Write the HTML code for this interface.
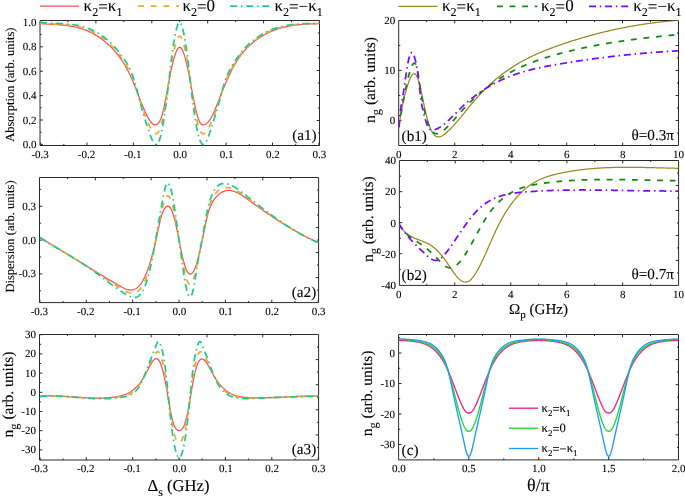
<!DOCTYPE html>
<html><head><meta charset="utf-8"><title>figure</title>
<style>html,body{margin:0;padding:0;background:#fff}svg{display:block;will-change:transform}text{stroke:#000;stroke-width:.1px}</style></head>
<body>
<svg width="685" height="496" viewBox="0 0 685 496" font-family='"Liberation Serif", serif' fill="#000" text-rendering="geometricPrecision">
<rect width="685" height="496" fill="#fff"/>
<defs>
<clipPath id="cp_a1"><rect x="40" y="20.5" width="279.5" height="125"/></clipPath>
<clipPath id="cp_a2"><rect x="39.5" y="177.5" width="279.1" height="125.1"/></clipPath>
<clipPath id="cp_a3"><rect x="39.5" y="334.5" width="279.1" height="125.5"/></clipPath>
<clipPath id="cp_b1"><rect x="398.7" y="20.5" width="279.8" height="125"/></clipPath>
<clipPath id="cp_b2"><rect x="399.4" y="160.5" width="279.2" height="124.9"/></clipPath>
<clipPath id="cp_c"><rect x="398.6" y="334.5" width="279.9" height="125.4"/></clipPath>
</defs>
<path d="M40 20.5H319.5V145.5H40ZM67.95 20.5v1.6M319.5 33h-1.6M95.9 20.5v2.9M319.5 45.5h-2.9M123.85 20.5v1.6M319.5 58h-1.6M151.8 20.5v2.9M319.5 70.5h-2.9M179.75 20.5v1.6M319.5 83h-1.6M207.7 20.5v2.9M319.5 95.5h-2.9M235.65 20.5v1.6M319.5 108h-1.6M263.6 20.5v2.9M319.5 120.5h-2.9M291.55 20.5v1.6M319.5 133h-1.6M40.61 145.5v-2.9M63.8 145.5v-1.6M86.99 145.5v-2.9M110.18 145.5v-1.6M133.37 145.5v-2.9M156.56 145.5v-1.6M179.75 145.5v-2.9M202.94 145.5v-1.6M226.13 145.5v-2.9M249.32 145.5v-1.6M272.51 145.5v-2.9M295.7 145.5v-1.6M318.89 145.5v-2.9M40 144.4h2.9M40 132.2h1.6M40 120h2.9M40 107.8h1.6M40 95.6h2.9M40 83.4h1.6M40 71.2h2.9M40 59h1.6M40 46.8h2.9M40 34.6h1.6M40 22.4h2.9" fill="none" stroke="#2b2b2b" stroke-width="1"/>
<text x="36.5" y="147.9" font-size="11" text-anchor="end" >0.0</text>
<text x="36.5" y="123.5" font-size="11" text-anchor="end" >0.2</text>
<text x="36.5" y="99.1" font-size="11" text-anchor="end" >0.4</text>
<text x="36.5" y="74.7" font-size="11" text-anchor="end" >0.6</text>
<text x="36.5" y="50.3" font-size="11" text-anchor="end" >0.8</text>
<text x="36.5" y="25.9" font-size="11" text-anchor="end" >1.0</text>
<text x="40.11" y="157.5" font-size="11" text-anchor="middle" >-0.3</text>
<text x="86.49" y="157.5" font-size="11" text-anchor="middle" >-0.2</text>
<text x="132.87" y="157.5" font-size="11" text-anchor="middle" >-0.1</text>
<text x="180.15" y="157.5" font-size="11" text-anchor="middle" >0.0</text>
<text x="226.53" y="157.5" font-size="11" text-anchor="middle" >0.1</text>
<text x="272.91" y="157.5" font-size="11" text-anchor="middle" >0.2</text>
<text x="319.29" y="157.5" font-size="11" text-anchor="middle" >0.3</text>
<text transform="translate(13.6 84.7) rotate(-90)" font-size="12.5" text-anchor="middle">Absorption (arb. units)</text>
<text x="316.6" y="139.6" font-size="15.2" text-anchor="end" >(a1)</text>
<polyline points="40,23.6 40.5,23.63 41,23.67 41.5,23.7 42,23.73 42.5,23.77 43,23.8 43.5,23.83 44,23.86 44.5,23.89 45,23.92 45.5,23.95 46,23.98 46.5,24 47,24.03 47.5,24.06 48,24.09 48.5,24.11 49,24.14 49.5,24.17 50,24.2 50.5,24.22 51,24.25 51.5,24.28 52,24.31 52.5,24.33 53,24.36 53.5,24.39 54,24.42 54.5,24.45 55,24.49 55.5,24.52 56,24.55 56.5,24.58 57,24.62 57.5,24.65 58,24.69 58.5,24.73 59,24.77 59.5,24.81 60,24.85 60.5,24.89 61,24.94 61.5,24.98 62,25.03 62.5,25.08 63,25.13 63.5,25.18 64,25.24 64.5,25.29 65,25.35 65.5,25.41 66,25.47 66.5,25.54 67,25.6 67.5,25.67 68,25.74 68.5,25.81 69,25.89 69.5,25.97 70,26.05 70.5,26.13 71,26.22 71.5,26.31 72,26.4 72.5,26.49 73,26.59 73.5,26.69 74,26.79 74.5,26.9 75,27.01 75.5,27.12 76,27.23 76.5,27.35 77,27.47 77.5,27.6 78,27.73 78.5,27.86 79,28 79.5,28.14 80,28.28 80.5,28.43 81,28.58 81.5,28.74 82,28.9 82.5,29.06 83,29.23 83.5,29.4 84,29.57 84.5,29.75 85,29.94 85.5,30.13 86,30.32 86.5,30.52 87,30.72 87.5,30.93 88,31.14 88.5,31.36 89,31.58 89.5,31.81 90,32.04 90.5,32.28 91,32.52 91.5,32.76 92,33.02 92.5,33.27 93,33.54 93.5,33.8 94,34.08 94.5,34.36 95,34.64 95.5,34.93 96,35.23 96.5,35.53 97,35.84 97.5,36.15 98,36.47 98.5,36.8 99,37.13 99.5,37.47 100,37.81 100.5,38.16 101,38.52 101.5,38.88 102,39.25 102.5,39.63 103,40.01 103.5,40.4 104,40.79 104.5,41.2 105,41.61 105.5,42.02 106,42.44 106.5,42.87 107,43.31 107.5,43.76 108,44.21 108.5,44.67 109,45.13 109.5,45.61 110,46.09 110.5,46.58 111,47.07 111.5,47.57 112,48.09 112.5,48.61 113,49.13 113.5,49.67 114,50.22 114.5,50.77 115,51.34 115.5,51.91 116,52.5 116.5,53.1 117,53.71 117.5,54.33 118,54.96 118.5,55.61 119,56.27 119.5,56.94 120,57.63 120.5,58.33 121,59.04 121.5,59.77 122,60.52 122.5,61.28 123,62.06 123.5,62.85 124,63.66 124.5,64.49 125,65.33 125.5,66.2 126,67.08 126.5,67.98 127,68.9 127.5,69.84 128,70.8 128.5,71.78 129,72.78 129.5,73.8 130,74.84 130.5,75.9 131,76.99 131.5,78.1 132,79.23 132.5,80.38 133,81.56 133.5,82.76 134,83.98 134.5,85.21 135,86.46 135.5,87.72 136,89 136.5,90.28 137,91.57 137.5,92.87 138,94.16 138.5,95.46 139,96.76 139.5,98.06 140,99.34 140.5,100.63 141,101.9 141.5,103.16 142,104.41 142.5,105.64 143,106.86 143.5,108.06 144,109.23 144.5,110.38 145,111.51 145.5,112.61 146,113.68 146.5,114.71 147,115.72 147.5,116.69 148,117.62 148.5,118.51 149,119.35 149.5,120.15 150,120.9 150.5,121.59 151,122.23 151.5,122.81 152,123.32 152.5,123.77 153,124.15 153.5,124.47 154,124.7 154.5,124.86 155,124.94 155.5,124.93 156,124.84 156.5,124.66 157,124.39 157.5,124.02 158,123.56 158.5,122.99 159,122.32 159.5,121.53 160,120.63 160.5,119.58 161,118.39 161.5,117.02 162,115.46 162.5,113.7 163,111.76 163.5,109.64 164,107.37 164.5,104.97 165,102.46 165.5,99.85 166,97.18 166.5,94.46 167,91.71 167.5,88.97 168,86.26 168.5,83.58 169,80.93 169.5,78.34 170,75.8 170.5,73.32 171,70.91 171.5,68.57 172,66.32 172.5,64.16 173,62.09 173.5,60.13 174,58.28 174.5,56.55 175,54.94 175.5,53.47 176,52.14 176.5,50.95 177,49.91 177.5,49.04 178,48.34 178.5,47.81 179,47.46 179.5,47.3 180,47.34 180.5,47.57 181,47.98 181.5,48.58 182,49.35 182.5,50.29 183,51.4 183.5,52.66 184,54.07 184.5,55.62 185,57.31 185.5,59.13 186,61.08 186.5,63.15 187,65.33 187.5,67.62 188,70 188.5,72.46 189,74.99 189.5,77.58 190,80.21 190.5,82.87 191,85.55 191.5,88.23 192,90.9 192.5,93.54 193,96.16 193.5,98.72 194,101.23 194.5,103.66 195,106.01 195.5,108.26 196,110.41 196.5,112.44 197,114.35 197.5,116.13 198,117.76 198.5,119.24 199,120.55 199.5,121.7 200,122.65 200.5,123.42 201,124 201.5,124.42 202,124.69 202.5,124.84 203,124.88 203.5,124.84 204,124.74 204.5,124.59 205,124.39 205.5,124.14 206,123.84 206.5,123.5 207,123.1 207.5,122.65 208,122.16 208.5,121.61 209,121.01 209.5,120.36 210,119.65 210.5,118.89 211,118.08 211.5,117.21 212,116.29 212.5,115.32 213,114.29 213.5,113.21 214,112.09 214.5,110.94 215,109.75 215.5,108.53 216,107.29 216.5,106.03 217,104.75 217.5,103.47 218,102.18 218.5,100.89 219,99.6 219.5,98.32 220,97.05 220.5,95.78 221,94.52 221.5,93.26 222,92.02 222.5,90.78 223,89.56 223.5,88.34 224,87.13 224.5,85.93 225,84.74 225.5,83.57 226,82.41 226.5,81.25 227,80.12 227.5,78.99 228,77.88 228.5,76.78 229,75.7 229.5,74.63 230,73.58 230.5,72.55 231,71.53 231.5,70.52 232,69.54 232.5,68.57 233,67.63 233.5,66.7 234,65.79 234.5,64.9 235,64.03 235.5,63.17 236,62.34 236.5,61.52 237,60.72 237.5,59.94 238,59.18 238.5,58.43 239,57.69 239.5,56.98 240,56.28 240.5,55.59 241,54.92 241.5,54.27 242,53.62 242.5,53 243,52.38 243.5,51.78 244,51.2 244.5,50.62 245,50.06 245.5,49.51 246,48.97 246.5,48.44 247,47.93 247.5,47.42 248,46.93 248.5,46.45 249,45.97 249.5,45.51 250,45.05 250.5,44.6 251,44.17 251.5,43.74 252,43.31 252.5,42.9 253,42.49 253.5,42.09 254,41.7 254.5,41.31 255,40.93 255.5,40.55 256,40.18 256.5,39.82 257,39.46 257.5,39.11 258,38.76 258.5,38.42 259,38.08 259.5,37.75 260,37.42 260.5,37.1 261,36.79 261.5,36.48 262,36.17 262.5,35.87 263,35.58 263.5,35.29 264,35 264.5,34.72 265,34.45 265.5,34.17 266,33.91 266.5,33.65 267,33.39 267.5,33.14 268,32.89 268.5,32.65 269,32.41 269.5,32.18 270,31.95 270.5,31.73 271,31.5 271.5,31.29 272,31.08 272.5,30.87 273,30.67 273.5,30.47 274,30.27 274.5,30.08 275,29.89 275.5,29.71 276,29.53 276.5,29.35 277,29.18 277.5,29.01 278,28.85 278.5,28.69 279,28.53 279.5,28.38 280,28.23 280.5,28.08 281,27.94 281.5,27.8 282,27.66 282.5,27.53 283,27.4 283.5,27.27 284,27.15 284.5,27.03 285,26.91 285.5,26.8 286,26.69 286.5,26.58 287,26.47 287.5,26.37 288,26.27 288.5,26.17 289,26.08 289.5,25.99 290,25.9 290.5,25.81 291,25.73 291.5,25.65 292,25.57 292.5,25.49 293,25.42 293.5,25.34 294,25.27 294.5,25.21 295,25.14 295.5,25.08 296,25.02 296.5,24.96 297,24.9 297.5,24.85 298,24.79 298.5,24.74 299,24.69 299.5,24.65 300,24.6 300.5,24.56 301,24.51 301.5,24.47 302,24.43 302.5,24.39 303,24.36 303.5,24.32 304,24.29 304.5,24.26 305,24.23 305.5,24.2 306,24.17 306.5,24.14 307,24.11 307.5,24.09 308,24.06 308.5,24.04 309,24.02 309.5,24 310,23.98 310.5,23.96 311,23.94 311.5,23.92 312,23.9 312.5,23.88 313,23.87 313.5,23.85 314,23.83 314.5,23.82 315,23.8 315.5,23.79 316,23.78 316.5,23.76 317,23.75 317.5,23.73 318,23.72 318.5,23.71 319,23.69 319.5,23.69" fill="none" stroke="#f9504e" stroke-width="1.25" clip-path="url(#cp_a1)" stroke-linejoin="round"/>
<polyline points="40,23.08 40.5,23.12 41,23.16 41.5,23.2 42,23.24 42.5,23.28 43,23.31 43.5,23.35 44,23.38 44.5,23.41 45,23.44 45.5,23.47 46,23.5 46.5,23.53 47,23.56 47.5,23.59 48,23.61 48.5,23.64 49,23.66 49.5,23.69 50,23.71 50.5,23.74 51,23.76 51.5,23.79 52,23.81 52.5,23.84 53,23.86 53.5,23.89 54,23.91 54.5,23.94 55,23.97 55.5,23.99 56,24.02 56.5,24.05 57,24.07 57.5,24.1 58,24.13 58.5,24.16 59,24.19 59.5,24.23 60,24.26 60.5,24.29 61,24.33 61.5,24.37 62,24.41 62.5,24.45 63,24.49 63.5,24.53 64,24.57 64.5,24.62 65,24.67 65.5,24.72 66,24.77 66.5,24.82 67,24.87 67.5,24.93 68,24.99 68.5,25.05 69,25.12 69.5,25.18 70,25.25 70.5,25.32 71,25.39 71.5,25.47 72,25.55 72.5,25.63 73,25.71 73.5,25.8 74,25.89 74.5,25.98 75,26.08 75.5,26.18 76,26.28 76.5,26.39 77,26.49 77.5,26.61 78,26.72 78.5,26.84 79,26.96 79.5,27.09 80,27.22 80.5,27.35 81,27.49 81.5,27.63 82,27.78 82.5,27.93 83,28.08 83.5,28.24 84,28.4 84.5,28.57 85,28.74 85.5,28.92 86,29.1 86.5,29.28 87,29.47 87.5,29.66 88,29.86 88.5,30.07 89,30.27 89.5,30.49 90,30.71 90.5,30.93 91,31.16 91.5,31.39 92,31.63 92.5,31.88 93,32.13 93.5,32.38 94,32.65 94.5,32.91 95,33.19 95.5,33.46 96,33.75 96.5,34.04 97,34.34 97.5,34.64 98,34.95 98.5,35.26 99,35.58 99.5,35.91 100,36.24 100.5,36.58 101,36.93 101.5,37.29 102,37.65 102.5,38.01 103,38.39 103.5,38.77 104,39.15 104.5,39.55 105,39.95 105.5,40.36 106,40.77 106.5,41.2 107,41.63 107.5,42.07 108,42.51 108.5,42.96 109,43.42 109.5,43.89 110,44.37 110.5,44.85 111,45.34 111.5,45.84 112,46.35 112.5,46.87 113,47.39 113.5,47.92 114,48.47 114.5,49.02 115,49.58 115.5,50.15 116,50.73 116.5,51.32 117,51.92 117.5,52.53 118,53.16 118.5,53.79 119,54.44 119.5,55.09 120,55.76 120.5,56.44 121,57.14 121.5,57.84 122,58.56 122.5,59.3 123,60.04 123.5,60.8 124,61.57 124.5,62.36 125,63.16 125.5,63.98 126,64.81 126.5,65.66 127,66.52 127.5,67.41 128,68.32 128.5,69.26 129,70.23 129.5,71.23 130,72.26 130.5,73.34 131,74.45 131.5,75.6 132,76.8 132.5,78.04 133,79.34 133.5,80.68 134,82.07 134.5,83.5 135,84.97 135.5,86.46 136,87.98 136.5,89.52 137,91.08 137.5,92.65 138,94.22 138.5,95.8 139,97.38 139.5,98.94 140,100.49 140.5,102.03 141,103.55 141.5,105.05 142,106.53 142.5,107.99 143,109.43 143.5,110.85 144,112.25 144.5,113.63 145,114.98 145.5,116.3 146,117.61 146.5,118.88 147,120.13 147.5,121.35 148,122.54 148.5,123.7 149,124.83 149.5,125.93 150,126.97 150.5,127.97 151,128.91 151.5,129.79 152,130.59 152.5,131.32 153,131.96 153.5,132.52 154,132.98 154.5,133.33 155,133.58 155.5,133.71 156,133.72 156.5,133.6 157,133.35 157.5,132.95 158,132.4 158.5,131.7 159,130.84 159.5,129.81 160,128.61 160.5,127.23 161,125.66 161.5,123.91 162,121.96 162.5,119.82 163,117.49 163.5,114.99 164,112.33 164.5,109.53 165,106.61 165.5,103.57 166,100.44 166.5,97.23 167,93.96 167.5,90.64 168,87.3 168.5,83.94 169,80.57 169.5,77.21 170,73.87 170.5,70.57 171,67.34 171.5,64.2 172,61.17 172.5,58.27 173,55.52 173.5,52.94 174,50.51 174.5,48.26 175,46.17 175.5,44.25 176,42.5 176.5,40.94 177,39.57 177.5,38.41 178,37.47 178.5,36.76 179,36.31 179.5,36.11 180,36.18 180.5,36.51 181,37.1 181.5,37.93 182,38.99 182.5,40.27 183,41.75 183.5,43.42 184,45.28 184.5,47.31 185,49.51 185.5,51.87 186,54.4 186.5,57.08 187,59.9 187.5,62.87 188,65.97 188.5,69.19 189,72.49 189.5,75.87 190,79.28 190.5,82.73 191,86.17 191.5,89.59 192,92.97 192.5,96.28 193,99.5 193.5,102.62 194,105.63 194.5,108.51 195,111.27 195.5,113.9 196,116.39 196.5,118.73 197,120.93 197.5,122.96 198,124.84 198.5,126.54 199,128.07 199.5,129.42 200,130.58 200.5,131.55 201,132.33 201.5,132.93 202,133.36 202.5,133.63 203,133.76 203.5,133.75 204,133.62 204.5,133.39 205,133.04 205.5,132.61 206,132.08 206.5,131.47 207,130.77 207.5,130.01 208,129.17 208.5,128.27 209,127.31 209.5,126.3 210,125.24 210.5,124.14 211,123.01 211.5,121.83 212,120.63 212.5,119.39 213,118.11 213.5,116.8 214,115.47 214.5,114.1 215,112.71 215.5,111.3 216,109.86 216.5,108.41 217,106.94 217.5,105.45 218,103.95 218.5,102.44 219,100.92 219.5,99.4 220,97.87 220.5,96.33 221,94.8 221.5,93.27 222,91.75 222.5,90.25 223,88.78 223.5,87.34 224,85.94 224.5,84.56 225,83.23 225.5,81.93 226,80.67 226.5,79.45 227,78.27 227.5,77.13 228,76.02 228.5,74.95 229,73.91 229.5,72.89 230,71.9 230.5,70.93 231,69.99 231.5,69.06 232,68.11 232.5,67.17 233,66.25 233.5,65.35 234,64.46 234.5,63.6 235,62.75 235.5,61.92 236,61.11 236.5,60.32 237,59.54 237.5,58.78 238,58.03 238.5,57.3 239,56.59 239.5,55.89 240,55.2 240.5,54.53 241,53.88 241.5,53.24 242,52.61 242.5,52 243,51.39 243.5,50.81 244,50.23 244.5,49.66 245,49.11 245.5,48.57 246,48.04 246.5,47.52 247,47.01 247.5,46.51 248,46.02 248.5,45.54 249,45.07 249.5,44.61 250,44.16 250.5,43.71 251,43.28 251.5,42.85 252,42.43 252.5,42.02 253,41.61 253.5,41.21 254,40.82 254.5,40.43 255,40.05 255.5,39.68 256,39.31 256.5,38.95 257,38.6 257.5,38.25 258,37.9 258.5,37.56 259,37.23 259.5,36.9 260,36.58 260.5,36.26 261,35.95 261.5,35.64 262,35.34 262.5,35.05 263,34.76 263.5,34.47 264,34.19 264.5,33.92 265,33.65 265.5,33.38 266,33.12 266.5,32.87 267,32.62 267.5,32.37 268,32.13 268.5,31.89 269,31.66 269.5,31.44 270,31.21 270.5,31 271,30.78 271.5,30.57 272,30.37 272.5,30.17 273,29.97 273.5,29.78 274,29.59 274.5,29.41 275,29.23 275.5,29.05 276,28.88 276.5,28.71 277,28.55 277.5,28.39 278,28.23 278.5,28.08 279,27.93 279.5,27.78 280,27.64 280.5,27.5 281,27.36 281.5,27.23 282,27.1 282.5,26.98 283,26.86 283.5,26.74 284,26.62 284.5,26.51 285,26.4 285.5,26.29 286,26.19 286.5,26.09 287,25.99 287.5,25.89 288,25.8 288.5,25.71 289,25.63 289.5,25.54 290,25.46 290.5,25.38 291,25.3 291.5,25.23 292,25.16 292.5,25.09 293,25.02 293.5,24.95 294,24.89 294.5,24.83 295,24.77 295.5,24.71 296,24.66 296.5,24.61 297,24.56 297.5,24.51 298,24.46 298.5,24.41 299,24.37 299.5,24.33 300,24.29 300.5,24.25 301,24.21 301.5,24.17 302,24.14 302.5,24.1 303,24.07 303.5,24.04 304,24.01 304.5,23.98 305,23.95 305.5,23.92 306,23.9 306.5,23.87 307,23.85 307.5,23.83 308,23.8 308.5,23.78 309,23.76 309.5,23.74 310,23.72 310.5,23.7 311,23.68 311.5,23.67 312,23.65 312.5,23.63 313,23.61 313.5,23.6 314,23.58 314.5,23.56 315,23.55 315.5,23.53 316,23.51 316.5,23.5 317,23.48 317.5,23.46 318,23.45 318.5,23.43 319,23.41 319.5,23.4" fill="none" stroke="#efab30" stroke-width="1.75" stroke-dasharray="5.8 6.8" clip-path="url(#cp_a1)" stroke-linejoin="round"/>
<polyline points="40,22.45 40.5,22.5 41,22.55 41.5,22.59 42,22.63 42.5,22.68 43,22.72 43.5,22.75 44,22.79 44.5,22.82 45,22.86 45.5,22.89 46,22.92 46.5,22.95 47,22.98 47.5,23.01 48,23.03 48.5,23.06 49,23.08 49.5,23.11 50,23.13 50.5,23.15 51,23.17 51.5,23.19 52,23.21 52.5,23.23 53,23.25 53.5,23.27 54,23.29 54.5,23.31 55,23.33 55.5,23.35 56,23.37 56.5,23.39 57,23.41 57.5,23.43 58,23.45 58.5,23.47 59,23.49 59.5,23.52 60,23.54 60.5,23.56 61,23.59 61.5,23.61 62,23.64 62.5,23.67 63,23.7 63.5,23.73 64,23.76 64.5,23.8 65,23.83 65.5,23.87 66,23.9 66.5,23.94 67,23.99 67.5,24.03 68,24.07 68.5,24.12 69,24.17 69.5,24.22 70,24.27 70.5,24.33 71,24.39 71.5,24.45 72,24.51 72.5,24.58 73,24.65 73.5,24.72 74,24.79 74.5,24.87 75,24.95 75.5,25.03 76,25.12 76.5,25.21 77,25.3 77.5,25.39 78,25.49 78.5,25.6 79,25.7 79.5,25.81 80,25.92 80.5,26.04 81,26.16 81.5,26.29 82,26.42 82.5,26.55 83,26.69 83.5,26.83 84,26.97 84.5,27.12 85,27.28 85.5,27.44 86,27.6 86.5,27.77 87,27.94 87.5,28.12 88,28.3 88.5,28.49 89,28.68 89.5,28.88 90,29.08 90.5,29.29 91,29.5 91.5,29.72 92,29.94 92.5,30.17 93,30.41 93.5,30.65 94,30.89 94.5,31.15 95,31.41 95.5,31.67 96,31.94 96.5,32.22 97,32.5 97.5,32.79 98,33.08 98.5,33.39 99,33.69 99.5,34.01 100,34.33 100.5,34.66 101,34.99 101.5,35.33 102,35.68 102.5,36.04 103,36.4 103.5,36.77 104,37.15 104.5,37.53 105,37.93 105.5,38.33 106,38.73 106.5,39.15 107,39.57 107.5,40 108,40.44 108.5,40.88 109,41.34 109.5,41.8 110,42.27 110.5,42.75 111,43.23 111.5,43.73 112,44.23 112.5,44.74 113,45.26 113.5,45.79 114,46.33 114.5,46.87 115,47.43 115.5,47.99 116,48.57 116.5,49.15 117,49.74 117.5,50.34 118,50.95 118.5,51.57 119,52.2 119.5,52.84 120,53.48 120.5,54.14 121,54.81 121.5,55.49 122,56.17 122.5,56.87 123,57.58 123.5,58.29 124,59.02 124.5,59.76 125,60.51 125.5,61.26 126,62.03 126.5,62.82 127,63.62 127.5,64.44 128,65.3 128.5,66.19 129,67.12 129.5,68.09 130,69.12 130.5,70.2 131,71.34 131.5,72.55 132,73.83 132.5,75.19 133,76.62 133.5,78.15 134,79.75 134.5,81.41 135,83.14 135.5,84.92 136,86.74 136.5,88.6 137,90.48 137.5,92.38 138,94.3 138.5,96.22 139,98.13 139.5,100.02 140,101.9 140.5,103.75 141,105.57 141.5,107.36 142,109.13 142.5,110.87 143,112.58 143.5,114.28 144,115.94 144.5,117.59 145,119.22 145.5,120.82 146,122.41 146.5,123.97 147,125.52 147.5,127.05 148,128.56 148.5,130.05 149,131.53 149.5,132.98 150,134.4 150.5,135.77 151,137.08 151.5,138.31 152,139.47 152.5,140.54 153,141.51 153.5,142.36 154,143.09 154.5,143.69 155,144.14 155.5,144.44 156,144.57 156.5,144.53 157,144.29 157.5,143.86 158,143.22 158.5,142.36 159,141.26 159.5,139.93 160,138.36 160.5,136.56 161,134.55 161.5,132.33 162,129.9 162.5,127.29 163,124.49 163.5,121.53 164,118.4 164.5,115.11 165,111.68 165.5,108.12 166,104.42 166.5,100.62 167,96.7 167.5,92.68 168,88.58 168.5,84.39 169,80.13 169.5,75.82 170,71.51 170.5,67.21 171,62.98 171.5,58.86 172,54.88 172.5,51.08 173,47.49 173.5,44.14 174,41.02 174.5,38.12 175,35.44 175.5,32.97 176,30.72 176.5,28.7 177,26.92 177.5,25.41 178,24.19 178.5,23.27 179,22.68 179.5,22.43 180,22.54 180.5,23.01 181,23.8 181.5,24.92 182,26.33 182.5,28.01 183,29.96 183.5,32.14 184,34.54 184.5,37.15 185,39.98 185.5,43 186,46.23 186.5,49.65 187,53.27 187.5,57.07 188,61.05 188.5,65.19 189,69.44 189.5,73.77 190,78.15 190.5,82.55 191,86.93 191.5,91.26 192,95.5 192.5,99.62 193,103.59 193.5,107.39 194,111.01 194.5,114.45 195,117.71 195.5,120.8 196,123.7 196.5,126.42 197,128.96 197.5,131.32 198,133.48 198.5,135.46 199,137.25 199.5,138.85 200,140.26 200.5,141.48 201,142.5 201.5,143.33 202,143.95 202.5,144.38 203,144.62 203.5,144.65 204,144.48 204.5,144.14 205,143.63 205.5,142.96 206,142.15 206.5,141.21 207,140.15 207.5,138.99 208,137.74 208.5,136.41 209,135.01 209.5,133.56 210,132.07 210.5,130.55 211,129.02 211.5,127.48 212,125.93 212.5,124.36 213,122.79 213.5,121.2 214,119.59 214.5,117.97 215,116.33 215.5,114.68 216,113.01 216.5,111.32 217,109.61 217.5,107.87 218,106.12 218.5,104.34 219,102.54 219.5,100.72 220,98.87 220.5,97.01 221,95.14 221.5,93.27 222,91.41 222.5,89.6 223,87.84 223.5,86.13 224,84.48 224.5,82.89 225,81.37 225.5,79.92 226,78.54 226.5,77.24 227,76.01 227.5,74.85 228,73.75 228.5,72.71 229,71.71 229.5,70.76 230,69.84 230.5,68.96 231,68.11 231.5,67.28 232,66.37 232.5,65.46 233,64.57 233.5,63.7 234,62.85 234.5,62.01 235,61.19 235.5,60.39 236,59.61 236.5,58.84 237,58.09 237.5,57.35 238,56.63 238.5,55.92 239,55.23 239.5,54.55 240,53.89 240.5,53.24 241,52.6 241.5,51.98 242,51.37 242.5,50.77 243,50.18 243.5,49.61 244,49.05 244.5,48.49 245,47.95 245.5,47.42 246,46.9 246.5,46.39 247,45.89 247.5,45.4 248,44.91 248.5,44.44 249,43.97 249.5,43.52 250,43.07 250.5,42.63 251,42.19 251.5,41.77 252,41.35 252.5,40.94 253,40.53 253.5,40.14 254,39.75 254.5,39.36 255,38.99 255.5,38.61 256,38.25 256.5,37.89 257,37.54 257.5,37.19 258,36.85 258.5,36.52 259,36.19 259.5,35.86 260,35.55 260.5,35.23 261,34.93 261.5,34.63 262,34.33 262.5,34.04 263,33.76 263.5,33.48 264,33.2 264.5,32.94 265,32.67 265.5,32.41 266,32.16 266.5,31.91 267,31.67 267.5,31.43 268,31.2 268.5,30.97 269,30.75 269.5,30.53 270,30.31 270.5,30.1 271,29.9 271.5,29.7 272,29.5 272.5,29.31 273,29.12 273.5,28.94 274,28.76 274.5,28.58 275,28.41 275.5,28.25 276,28.08 276.5,27.92 277,27.77 277.5,27.62 278,27.47 278.5,27.33 279,27.19 279.5,27.05 280,26.92 280.5,26.79 281,26.66 281.5,26.54 282,26.42 282.5,26.3 283,26.19 283.5,26.08 284,25.98 284.5,25.87 285,25.77 285.5,25.68 286,25.58 286.5,25.49 287,25.4 287.5,25.32 288,25.23 288.5,25.15 289,25.07 289.5,25 290,24.92 290.5,24.85 291,24.79 291.5,24.72 292,24.66 292.5,24.59 293,24.54 293.5,24.48 294,24.42 294.5,24.37 295,24.32 295.5,24.27 296,24.22 296.5,24.18 297,24.13 297.5,24.09 298,24.05 298.5,24.01 299,23.97 299.5,23.94 300,23.9 300.5,23.87 301,23.83 301.5,23.8 302,23.77 302.5,23.75 303,23.72 303.5,23.69 304,23.67 304.5,23.64 305,23.62 305.5,23.59 306,23.57 306.5,23.55 307,23.53 307.5,23.51 308,23.49 308.5,23.47 309,23.45 309.5,23.43 310,23.41 310.5,23.39 311,23.37 311.5,23.36 312,23.34 312.5,23.32 313,23.3 313.5,23.29 314,23.27 314.5,23.25 315,23.23 315.5,23.21 316,23.19 316.5,23.17 317,23.15 317.5,23.13 318,23.11 318.5,23.09 319,23.07 319.5,23.05" fill="none" stroke="#1fcc8c" stroke-width="1.75" stroke-dasharray="7 3.8 1.5 3.8" clip-path="url(#cp_a1)" stroke-linejoin="round"/>
<path d="M40 6.1H79" stroke="#f9504e" stroke-width="1.25" fill="none"/>
<path d="M138.2 6.1H179" stroke="#efab30" stroke-width="1.75" stroke-dasharray="5.8 6.8" fill="none"/>
<path d="M230.2 6.1H269.6" stroke="#1fcc8c" stroke-width="1.75" stroke-dasharray="7 3.8 1.5 3.8" fill="none"/>
<text x="83.6" y="10.8" font-size="17" text-anchor="start" >κ<tspan font-size="12.07" dy="5.1">2</tspan><tspan dy="-3.99">=</tspan><tspan dy="-1.1">κ</tspan><tspan font-size="12.07" dy="5.1">1</tspan></text>
<text x="182.4" y="10.8" font-size="17" text-anchor="start" >κ<tspan font-size="12.07" dy="5.1">2</tspan><tspan dy="-3.99">=</tspan><tspan dy="-1.1">0</tspan></text>
<text x="274.4" y="10.8" font-size="17" text-anchor="start" >κ<tspan font-size="12.07" dy="5.1">2</tspan><tspan dy="-3.99">=−</tspan><tspan dy="-1.1">κ</tspan><tspan font-size="12.07" dy="5.1">1</tspan></text>
<path d="M39.5 177.5H318.6V302.6H39.5ZM67.41 177.5v1.6M318.6 190.01h-1.6M95.32 177.5v2.9M318.6 202.52h-2.9M123.23 177.5v1.6M318.6 215.03h-1.6M151.14 177.5v2.9M318.6 227.54h-2.9M179.05 177.5v1.6M318.6 240.05h-1.6M206.96 177.5v2.9M318.6 252.56h-2.9M234.87 177.5v1.6M318.6 265.07h-1.6M262.78 177.5v2.9M318.6 277.58h-2.9M290.69 177.5v1.6M318.6 290.09h-1.6M39.91 302.6v-2.9M63.1 302.6v-1.6M86.29 302.6v-2.9M109.48 302.6v-1.6M132.67 302.6v-2.9M155.86 302.6v-1.6M179.05 302.6v-2.9M202.24 302.6v-1.6M225.43 302.6v-2.9M248.62 302.6v-1.6M271.81 302.6v-2.9M295 302.6v-1.6M318.19 302.6v-2.9M39.5 290.81h1.6M39.5 273.91h2.9M39.5 257h1.6M39.5 240.1h2.9M39.5 223.19h1.6M39.5 206.29h2.9M39.5 189.38h1.6" fill="none" stroke="#2b2b2b" stroke-width="1"/>
<text x="36" y="277.41" font-size="11" text-anchor="end" >-0.3</text>
<text x="36" y="243.6" font-size="11" text-anchor="end" >0.0</text>
<text x="36" y="209.79" font-size="11" text-anchor="end" >0.3</text>
<text x="39.41" y="314.6" font-size="11" text-anchor="middle" >-0.3</text>
<text x="85.79" y="314.6" font-size="11" text-anchor="middle" >-0.2</text>
<text x="132.17" y="314.6" font-size="11" text-anchor="middle" >-0.1</text>
<text x="179.45" y="314.6" font-size="11" text-anchor="middle" >0.0</text>
<text x="225.83" y="314.6" font-size="11" text-anchor="middle" >0.1</text>
<text x="272.21" y="314.6" font-size="11" text-anchor="middle" >0.2</text>
<text x="318.59" y="314.6" font-size="11" text-anchor="middle" >0.3</text>
<text transform="translate(13.6 236.5) rotate(-90)" font-size="12.5" text-anchor="middle">Dispersion (arb. units)</text>
<text x="316.2" y="297.3" font-size="15.2" text-anchor="end" >(a2)</text>
<polyline points="40,237.93 40.5,238.22 41,238.5 41.5,238.79 42,239.08 42.5,239.37 43,239.66 43.5,239.95 44,240.24 44.5,240.53 45,240.83 45.5,241.12 46,241.41 46.5,241.7 47,242 47.5,242.29 48,242.58 48.5,242.88 49,243.17 49.5,243.47 50,243.77 50.5,244.06 51,244.36 51.5,244.66 52,244.95 52.5,245.25 53,245.55 53.5,245.85 54,246.15 54.5,246.44 55,246.74 55.5,247.04 56,247.34 56.5,247.64 57,247.94 57.5,248.24 58,248.55 58.5,248.85 59,249.15 59.5,249.45 60,249.75 60.5,250.06 61,250.36 61.5,250.66 62,250.96 62.5,251.27 63,251.57 63.5,251.88 64,252.18 64.5,252.48 65,252.79 65.5,253.09 66,253.4 66.5,253.7 67,254.01 67.5,254.31 68,254.62 68.5,254.92 69,255.23 69.5,255.54 70,255.84 70.5,256.15 71,256.46 71.5,256.76 72,257.07 72.5,257.38 73,257.68 73.5,257.99 74,258.3 74.5,258.6 75,258.91 75.5,259.22 76,259.53 76.5,259.83 77,260.14 77.5,260.45 78,260.76 78.5,261.06 79,261.37 79.5,261.68 80,261.99 80.5,262.29 81,262.6 81.5,262.91 82,263.22 82.5,263.53 83,263.83 83.5,264.14 84,264.45 84.5,264.76 85,265.06 85.5,265.37 86,265.68 86.5,265.99 87,266.29 87.5,266.6 88,266.91 88.5,267.22 89,267.52 89.5,267.83 90,268.14 90.5,268.45 91,268.75 91.5,269.06 92,269.37 92.5,269.67 93,269.98 93.5,270.28 94,270.59 94.5,270.9 95,271.2 95.5,271.51 96,271.81 96.5,272.12 97,272.42 97.5,272.73 98,273.03 98.5,273.34 99,273.64 99.5,273.94 100,274.25 100.5,274.55 101,274.86 101.5,275.16 102,275.46 102.5,275.76 103,276.07 103.5,276.37 104,276.67 104.5,276.97 105,277.27 105.5,277.57 106,277.88 106.5,278.18 107,278.48 107.5,278.78 108,279.08 108.5,279.37 109,279.67 109.5,279.97 110,280.27 110.5,280.57 111,280.87 111.5,281.16 112,281.46 112.5,281.76 113,282.05 113.5,282.35 114,282.64 114.5,282.94 115,283.23 115.5,283.53 116,283.82 116.5,284.11 117,284.41 117.5,284.7 118,284.99 118.5,285.28 119,285.58 119.5,285.87 120,286.15 120.5,286.44 121,286.72 121.5,287 122,287.27 122.5,287.53 123,287.79 123.5,288.03 124,288.27 124.5,288.5 125,288.71 125.5,288.91 126,289.1 126.5,289.27 127,289.43 127.5,289.57 128,289.69 128.5,289.8 129,289.88 129.5,289.95 130,289.99 130.5,290.01 131,290.01 131.5,289.98 132,289.93 132.5,289.85 133,289.74 133.5,289.61 134,289.45 134.5,289.25 135,289.03 135.5,288.77 136,288.48 136.5,288.15 137,287.79 137.5,287.39 138,286.96 138.5,286.49 139,285.98 139.5,285.43 140,284.83 140.5,284.2 141,283.52 141.5,282.8 142,282.04 142.5,281.22 143,280.37 143.5,279.46 144,278.5 144.5,277.5 145,276.44 145.5,275.33 146,274.17 146.5,272.96 147,271.69 147.5,270.37 148,268.99 148.5,267.56 149,266.08 149.5,264.54 150,262.95 150.5,261.31 151,259.61 151.5,257.86 152,256.07 152.5,254.22 153,252.32 153.5,250.36 154,248.36 154.5,246.31 155,244.21 155.5,242.06 156,239.86 156.5,237.62 157,235.32 157.5,232.98 158,230.6 158.5,228.23 159,225.9 159.5,223.62 160,221.44 160.5,219.39 161,217.49 161.5,215.76 162,214.2 162.5,212.79 163,211.53 163.5,210.41 164,209.43 164.5,208.57 165,207.84 165.5,207.22 166,206.74 166.5,206.38 167,206.14 167.5,206.04 168,206.06 168.5,206.22 169,206.51 169.5,206.93 170,207.49 170.5,208.18 171,209.02 171.5,209.99 172,211.1 172.5,212.35 173,213.75 173.5,215.28 174,216.97 174.5,218.8 175,220.78 175.5,222.9 176,225.16 176.5,227.53 177,229.98 177.5,232.5 178,235.05 178.5,237.63 179,240.2 179.5,242.75 180,245.25 180.5,247.7 181,250.09 181.5,252.42 182,254.66 182.5,256.83 183,258.9 183.5,260.87 184,262.73 184.5,264.47 185,266.09 185.5,267.57 186,268.91 186.5,270.1 187,271.14 187.5,272.02 188,272.75 188.5,273.32 189,273.75 189.5,274.03 190,274.17 190.5,274.17 191,274.03 191.5,273.76 192,273.35 192.5,272.81 193,272.14 193.5,271.35 194,270.43 194.5,269.39 195,268.24 195.5,266.96 196,265.58 196.5,264.08 197,262.48 197.5,260.77 198,258.96 198.5,257.05 199,255.06 199.5,252.99 200,250.84 200.5,248.63 201,246.36 201.5,244.03 202,241.66 202.5,239.25 203,236.81 203.5,234.34 204,231.85 204.5,229.36 205,226.89 205.5,224.47 206,222.11 206.5,219.83 207,217.68 207.5,215.65 208,213.77 208.5,212.03 209,210.41 209.5,208.92 210,207.55 210.5,206.28 211,205.11 211.5,204.03 212,203.04 212.5,202.12 213,201.27 213.5,200.48 214,199.75 214.5,199.06 215,198.41 215.5,197.79 216,197.2 216.5,196.63 217,196.1 217.5,195.59 218,195.11 218.5,194.65 219,194.22 219.5,193.82 220,193.44 220.5,193.09 221,192.76 221.5,192.45 222,192.17 222.5,191.91 223,191.67 223.5,191.46 224,191.26 224.5,191.09 225,190.94 225.5,190.81 226,190.7 226.5,190.61 227,190.54 227.5,190.49 228,190.46 228.5,190.44 229,190.45 229.5,190.47 230,190.5 230.5,190.56 231,190.63 231.5,190.71 232,190.81 232.5,190.93 233,191.05 233.5,191.2 234,191.35 234.5,191.52 235,191.71 235.5,191.9 236,192.11 236.5,192.32 237,192.55 237.5,192.79 238,193.04 238.5,193.3 239,193.57 239.5,193.85 240,194.13 240.5,194.43 241,194.73 241.5,195.04 242,195.36 242.5,195.68 243,196.01 243.5,196.34 244,196.68 244.5,197.02 245,197.37 245.5,197.72 246,198.08 246.5,198.44 247,198.8 247.5,199.17 248,199.53 248.5,199.9 249,200.27 249.5,200.64 250,201 250.5,201.37 251,201.74 251.5,202.11 252,202.48 252.5,202.84 253,203.21 253.5,203.57 254,203.94 254.5,204.3 255,204.66 255.5,205.02 256,205.39 256.5,205.75 257,206.11 257.5,206.46 258,206.82 258.5,207.18 259,207.54 259.5,207.89 260,208.25 260.5,208.6 261,208.95 261.5,209.3 262,209.66 262.5,210.01 263,210.36 263.5,210.71 264,211.05 264.5,211.4 265,211.75 265.5,212.09 266,212.44 266.5,212.78 267,213.12 267.5,213.47 268,213.81 268.5,214.15 269,214.49 269.5,214.83 270,215.16 270.5,215.5 271,215.84 271.5,216.17 272,216.5 272.5,216.84 273,217.17 273.5,217.5 274,217.83 274.5,218.16 275,218.49 275.5,218.82 276,219.14 276.5,219.47 277,219.79 277.5,220.11 278,220.44 278.5,220.76 279,221.08 279.5,221.4 280,221.72 280.5,222.03 281,222.35 281.5,222.66 282,222.98 282.5,223.29 283,223.6 283.5,223.92 284,224.23 284.5,224.53 285,224.84 285.5,225.15 286,225.46 286.5,225.76 287,226.06 287.5,226.37 288,226.67 288.5,226.97 289,227.27 289.5,227.57 290,227.86 290.5,228.16 291,228.45 291.5,228.75 292,229.04 292.5,229.33 293,229.62 293.5,229.91 294,230.2 294.5,230.48 295,230.77 295.5,231.05 296,231.34 296.5,231.62 297,231.9 297.5,232.18 298,232.46 298.5,232.74 299,233.01 299.5,233.29 300,233.56 300.5,233.83 301,234.1 301.5,234.37 302,234.64 302.5,234.91 303,235.18 303.5,235.44 304,235.7 304.5,235.97 305,236.23 305.5,236.49 306,236.75 306.5,237 307,237.26 307.5,237.51 308,237.77 308.5,238.02 309,238.27 309.5,238.52 310,238.77 310.5,239.01 311,239.26 311.5,239.5 312,239.75 312.5,239.99 313,240.23 313.5,240.47 314,240.7 314.5,240.94 315,241.18 315.5,241.41 316,241.64 316.5,241.87 317,242.1 317.5,242.33 318,242.55 318.5,242.78 319,242.91 319.5,242.91" fill="none" stroke="#f9504e" stroke-width="1.25" clip-path="url(#cp_a2)" stroke-linejoin="round"/>
<polyline points="40,237.72 40.5,238.02 41,238.32 41.5,238.63 42,238.93 42.5,239.23 43,239.53 43.5,239.84 44,240.14 44.5,240.44 45,240.74 45.5,241.04 46,241.34 46.5,241.64 47,241.94 47.5,242.25 48,242.55 48.5,242.85 49,243.15 49.5,243.45 50,243.75 50.5,244.05 51,244.35 51.5,244.65 52,244.95 52.5,245.25 53,245.55 53.5,245.85 54,246.15 54.5,246.45 55,246.75 55.5,247.05 56,247.35 56.5,247.65 57,247.95 57.5,248.25 58,248.55 58.5,248.85 59,249.15 59.5,249.45 60,249.75 60.5,250.05 61,250.35 61.5,250.65 62,250.95 62.5,251.25 63,251.55 63.5,251.85 64,252.16 64.5,252.46 65,252.76 65.5,253.06 66,253.36 66.5,253.67 67,253.97 67.5,254.27 68,254.58 68.5,254.88 69,255.18 69.5,255.49 70,255.79 70.5,256.1 71,256.4 71.5,256.71 72,257.01 72.5,257.32 73,257.62 73.5,257.93 74,258.24 74.5,258.54 75,258.85 75.5,259.16 76,259.47 76.5,259.78 77,260.09 77.5,260.4 78,260.71 78.5,261.02 79,261.33 79.5,261.64 80,261.95 80.5,262.26 81,262.57 81.5,262.89 82,263.2 82.5,263.52 83,263.83 83.5,264.15 84,264.46 84.5,264.78 85,265.09 85.5,265.41 86,265.73 86.5,266.05 87,266.37 87.5,266.69 88,267.01 88.5,267.33 89,267.65 89.5,267.97 90,268.29 90.5,268.62 91,268.94 91.5,269.27 92,269.59 92.5,269.92 93,270.24 93.5,270.57 94,270.9 94.5,271.23 95,271.56 95.5,271.89 96,272.22 96.5,272.55 97,272.88 97.5,273.22 98,273.55 98.5,273.89 99,274.22 99.5,274.56 100,274.89 100.5,275.23 101,275.57 101.5,275.91 102,276.24 102.5,276.58 103,276.92 103.5,277.26 104,277.6 104.5,277.94 105,278.28 105.5,278.61 106,278.95 106.5,279.29 107,279.63 107.5,279.97 108,280.3 108.5,280.64 109,280.98 109.5,281.31 110,281.65 110.5,281.98 111,282.32 111.5,282.65 112,282.98 112.5,283.32 113,283.65 113.5,283.98 114,284.31 114.5,284.63 115,284.96 115.5,285.29 116,285.61 116.5,285.93 117,286.26 117.5,286.58 118,286.9 118.5,287.21 119,287.53 119.5,287.84 120,288.15 120.5,288.46 121,288.77 121.5,289.07 122,289.36 122.5,289.65 123,289.94 123.5,290.22 124,290.49 124.5,290.75 125,291 125.5,291.25 126,291.48 126.5,291.71 127,291.92 127.5,292.13 128,292.32 128.5,292.49 129,292.66 129.5,292.8 130,292.93 130.5,293.03 131,293.12 131.5,293.18 132,293.22 132.5,293.23 133,293.22 133.5,293.18 134,293.1 134.5,293 135,292.86 135.5,292.68 136,292.47 136.5,292.22 137,291.94 137.5,291.61 138,291.24 138.5,290.82 139,290.36 139.5,289.86 140,289.3 140.5,288.69 141,288.04 141.5,287.33 142,286.56 142.5,285.74 143,284.86 143.5,283.93 144,282.93 144.5,281.87 145,280.75 145.5,279.56 146,278.31 146.5,276.98 147,275.59 147.5,274.13 148,272.6 148.5,270.99 149,269.32 149.5,267.57 150,265.74 150.5,263.84 151,261.87 151.5,259.83 152,257.72 152.5,255.56 153,253.33 153.5,251.05 154,248.72 154.5,246.34 155,243.91 155.5,241.45 156,238.94 156.5,236.4 157,233.83 157.5,231.22 158,228.61 158.5,226 159,223.41 159.5,220.87 160,218.38 160.5,215.98 161,213.68 161.5,211.49 162,209.4 162.5,207.41 163,205.53 163.5,203.75 164,202.07 164.5,200.51 165,199.13 165.5,197.95 166,197.02 166.5,196.34 167,195.9 167.5,195.69 168,195.71 168.5,195.95 169,196.4 169.5,197.05 170,197.91 170.5,198.96 171,200.21 171.5,201.64 172,203.26 172.5,205.06 173,207.03 173.5,209.16 174,211.45 174.5,213.88 175,216.44 175.5,219.14 176,221.94 176.5,224.83 177,227.79 177.5,230.8 178,233.82 178.5,236.86 179,239.88 179.5,242.89 180,245.87 180.5,248.83 181,251.75 181.5,254.65 182,257.5 182.5,260.32 183,263.08 183.5,265.75 184,268.32 184.5,270.75 185,273.02 185.5,275.11 186,276.99 186.5,278.67 187,280.13 187.5,281.38 188,282.41 188.5,283.23 189,283.82 189.5,284.2 190,284.35 190.5,284.28 191,283.99 191.5,283.47 192,282.72 192.5,281.75 193,280.55 193.5,279.12 194,277.48 194.5,275.66 195,273.68 195.5,271.57 196,269.34 196.5,267.02 197,264.64 197.5,262.22 198,259.78 198.5,257.35 199,254.96 199.5,252.6 200,250.26 200.5,247.93 201,245.58 201.5,243.2 202,240.78 202.5,238.29 203,235.74 203.5,233.14 204,230.51 204.5,227.86 205,225.23 205.5,222.63 206,220.09 206.5,217.64 207,215.31 207.5,213.1 208,211.05 208.5,209.16 209,207.42 209.5,205.81 210,204.32 210.5,202.95 211,201.68 211.5,200.49 212,199.39 212.5,198.37 213,197.42 213.5,196.54 214,195.71 214.5,194.95 215,194.24 215.5,193.57 216,192.94 216.5,192.36 217,191.82 217.5,191.32 218,190.86 218.5,190.43 219,190.04 219.5,189.68 220,189.36 220.5,189.06 221,188.8 221.5,188.56 222,188.36 222.5,188.17 223,188.02 223.5,187.88 224,187.77 224.5,187.67 225,187.6 225.5,187.55 226,187.52 226.5,187.5 227,187.51 227.5,187.53 228,187.57 228.5,187.63 229,187.71 229.5,187.8 230,187.91 230.5,188.03 231,188.17 231.5,188.32 232,188.49 232.5,188.67 233,188.86 233.5,189.07 234,189.29 234.5,189.52 235,189.76 235.5,190.01 236,190.27 236.5,190.54 237,190.82 237.5,191.11 238,191.41 238.5,191.72 239,192.03 239.5,192.35 240,192.68 240.5,193.02 241,193.36 241.5,193.7 242,194.05 242.5,194.4 243,194.76 243.5,195.12 244,195.48 244.5,195.85 245,196.22 245.5,196.59 246,196.96 246.5,197.33 247,197.71 247.5,198.09 248,198.46 248.5,198.84 249,199.22 249.5,199.6 250,199.98 250.5,200.36 251,200.73 251.5,201.11 252,201.49 252.5,201.87 253,202.24 253.5,202.62 254,202.99 254.5,203.37 255,203.74 255.5,204.11 256,204.48 256.5,204.86 257,205.23 257.5,205.6 258,205.97 258.5,206.34 259,206.7 259.5,207.07 260,207.44 260.5,207.8 261,208.17 261.5,208.54 262,208.9 262.5,209.26 263,209.62 263.5,209.99 264,210.35 264.5,210.71 265,211.07 265.5,211.43 266,211.78 266.5,212.14 267,212.5 267.5,212.85 268,213.21 268.5,213.56 269,213.91 269.5,214.26 270,214.61 270.5,214.96 271,215.31 271.5,215.66 272,216.01 272.5,216.35 273,216.7 273.5,217.04 274,217.38 274.5,217.73 275,218.07 275.5,218.41 276,218.75 276.5,219.08 277,219.42 277.5,219.76 278,220.09 278.5,220.43 279,220.76 279.5,221.09 280,221.42 280.5,221.75 281,222.08 281.5,222.41 282,222.73 282.5,223.06 283,223.38 283.5,223.7 284,224.02 284.5,224.34 285,224.66 285.5,224.98 286,225.3 286.5,225.61 287,225.92 287.5,226.24 288,226.55 288.5,226.86 289,227.17 289.5,227.47 290,227.78 290.5,228.09 291,228.39 291.5,228.69 292,228.99 292.5,229.29 293,229.59 293.5,229.89 294,230.18 294.5,230.48 295,230.77 295.5,231.06 296,231.35 296.5,231.64 297,231.92 297.5,232.21 298,232.49 298.5,232.78 299,233.06 299.5,233.34 300,233.61 300.5,233.89 301,234.16 301.5,234.44 302,234.71 302.5,234.98 303,235.25 303.5,235.52 304,235.78 304.5,236.04 305,236.31 305.5,236.57 306,236.83 306.5,237.08 307,237.34 307.5,237.59 308,237.85 308.5,238.1 309,238.35 309.5,238.59 310,238.84 310.5,239.08 311,239.32 311.5,239.56 312,239.8 312.5,240.04 313,240.27 313.5,240.51 314,240.74 314.5,240.97 315,241.2 315.5,241.42 316,241.65 316.5,241.87 317,242.09 317.5,242.31 318,242.53 318.5,242.74 319,242.87 319.5,242.87" fill="none" stroke="#efab30" stroke-width="1.75" stroke-dasharray="5.8 6.8" clip-path="url(#cp_a2)" stroke-linejoin="round"/>
<polyline points="40,237.46 40.5,237.78 41,238.1 41.5,238.42 42,238.74 42.5,239.06 43,239.38 43.5,239.69 44,240.01 44.5,240.32 45,240.64 45.5,240.95 46,241.26 46.5,241.57 47,241.88 47.5,242.19 48,242.5 48.5,242.81 49,243.11 49.5,243.42 50,243.72 50.5,244.03 51,244.33 51.5,244.64 52,244.94 52.5,245.24 53,245.55 53.5,245.85 54,246.15 54.5,246.45 55,246.75 55.5,247.05 56,247.35 56.5,247.65 57,247.95 57.5,248.25 58,248.55 58.5,248.85 59,249.14 59.5,249.44 60,249.74 60.5,250.04 61,250.34 61.5,250.64 62,250.93 62.5,251.23 63,251.53 63.5,251.83 64,252.13 64.5,252.43 65,252.73 65.5,253.02 66,253.32 66.5,253.62 67,253.92 67.5,254.22 68,254.52 68.5,254.82 69,255.13 69.5,255.43 70,255.73 70.5,256.03 71,256.33 71.5,256.64 72,256.94 72.5,257.25 73,257.55 73.5,257.86 74,258.16 74.5,258.47 75,258.78 75.5,259.09 76,259.4 76.5,259.71 77,260.02 77.5,260.33 78,260.64 78.5,260.96 79,261.27 79.5,261.59 80,261.9 80.5,262.22 81,262.54 81.5,262.86 82,263.18 82.5,263.5 83,263.83 83.5,264.15 84,264.48 84.5,264.8 85,265.13 85.5,265.46 86,265.79 86.5,266.12 87,266.45 87.5,266.79 88,267.13 88.5,267.46 89,267.8 89.5,268.14 90,268.48 90.5,268.83 91,269.17 91.5,269.52 92,269.87 92.5,270.22 93,270.57 93.5,270.92 94,271.28 94.5,271.64 95,271.99 95.5,272.35 96,272.72 96.5,273.08 97,273.45 97.5,273.82 98,274.19 98.5,274.56 99,274.93 99.5,275.31 100,275.68 100.5,276.06 101,276.44 101.5,276.82 102,277.2 102.5,277.58 103,277.96 103.5,278.35 104,278.73 104.5,279.12 105,279.5 105.5,279.88 106,280.27 106.5,280.65 107,281.04 107.5,281.42 108,281.81 108.5,282.19 109,282.57 109.5,282.95 110,283.33 110.5,283.71 111,284.09 111.5,284.47 112,284.85 112.5,285.22 113,285.6 113.5,285.97 114,286.34 114.5,286.71 115,287.07 115.5,287.44 116,287.8 116.5,288.16 117,288.52 117.5,288.87 118,289.22 118.5,289.57 119,289.92 119.5,290.26 120,290.6 120.5,290.94 121,291.27 121.5,291.6 122,291.93 122.5,292.25 123,292.57 123.5,292.88 124,293.19 124.5,293.5 125,293.8 125.5,294.1 126,294.4 126.5,294.68 127,294.97 127.5,295.25 128,295.52 128.5,295.79 129,296.04 129.5,296.29 130,296.52 130.5,296.73 131,296.92 131.5,297.09 132,297.24 132.5,297.37 133,297.47 133.5,297.53 134,297.57 134.5,297.57 135,297.54 135.5,297.47 136,297.36 136.5,297.2 137,297 137.5,296.76 138,296.46 138.5,296.12 139,295.72 139.5,295.27 140,294.76 140.5,294.19 141,293.55 141.5,292.86 142,292.1 142.5,291.26 143,290.36 143.5,289.39 144,288.34 144.5,287.22 145,286.01 145.5,284.73 146,283.36 146.5,281.9 147,280.36 147.5,278.73 148,277.01 148.5,275.19 149,273.28 149.5,271.27 150,269.15 150.5,266.94 151,264.63 151.5,262.23 152,259.75 152.5,257.2 153,254.57 153.5,251.89 154,249.15 154.5,246.37 155,243.55 155.5,240.69 156,237.81 156.5,234.91 157,232 157.5,229.08 158,226.17 158.5,223.26 159,220.37 159.5,217.5 160,214.65 160.5,211.82 161,209.02 161.5,206.26 162,203.53 162.5,200.85 163,198.2 163.5,195.61 164,193.07 164.5,190.66 165,188.48 165.5,186.61 166,185.14 166.5,184.07 167,183.37 167.5,183.04 168,183.05 168.5,183.39 169,184.04 169.5,184.98 170,186.2 170.5,187.69 171,189.44 171.5,191.44 172,193.68 172.5,196.15 173,198.82 173.5,201.67 174,204.69 174.5,207.86 175,211.14 175.5,214.53 176,218.01 176.5,221.54 177,225.12 177.5,228.72 178,232.32 178.5,235.91 179,239.49 179.5,243.06 180,246.63 180.5,250.21 181,253.78 181.5,257.37 182,260.97 182.5,264.59 183,268.19 183.5,271.73 184,275.16 184.5,278.44 185,281.5 185.5,284.32 186,286.87 186.5,289.13 187,291.12 187.5,292.82 188,294.23 188.5,295.33 189,296.13 189.5,296.62 190,296.79 190.5,296.64 191,296.16 191.5,295.34 192,294.18 192.5,292.68 193,290.82 193.5,288.62 194,286.1 194.5,283.33 195,280.34 195.5,277.19 196,273.94 196.5,270.62 197,267.29 197.5,264 198,260.79 198.5,257.72 199,254.84 199.5,252.13 200,249.55 200.5,247.07 201,244.62 201.5,242.18 202,239.7 202.5,237.12 203,234.44 203.5,231.68 204,228.87 204.5,226.03 205,223.19 205.5,220.39 206,217.64 206.5,214.97 207,212.41 207.5,209.99 208,207.73 208.5,205.65 209,203.75 209.5,202 210,200.39 210.5,198.89 211,197.49 211.5,196.17 212,194.94 212.5,193.79 213,192.71 213.5,191.71 214,190.78 214.5,189.92 215,189.13 215.5,188.41 216,187.75 216.5,187.14 217,186.59 217.5,186.1 218,185.66 218.5,185.27 219,184.93 219.5,184.63 220,184.37 220.5,184.15 221,183.97 221.5,183.82 222,183.7 222.5,183.61 223,183.55 223.5,183.51 224,183.49 224.5,183.49 225,183.52 225.5,183.56 226,183.62 226.5,183.7 227,183.8 227.5,183.92 228,184.05 228.5,184.2 229,184.36 229.5,184.54 230,184.74 230.5,184.94 231,185.17 231.5,185.4 232,185.65 232.5,185.91 233,186.18 233.5,186.47 234,186.76 234.5,187.06 235,187.38 235.5,187.7 236,188.03 236.5,188.37 237,188.71 237.5,189.06 238,189.42 238.5,189.79 239,190.16 239.5,190.53 240,190.91 240.5,191.29 241,191.68 241.5,192.06 242,192.45 242.5,192.84 243,193.24 243.5,193.63 244,194.02 244.5,194.41 245,194.81 245.5,195.2 246,195.59 246.5,195.98 247,196.38 247.5,196.77 248,197.16 248.5,197.55 249,197.94 249.5,198.33 250,198.72 250.5,199.11 251,199.5 251.5,199.89 252,200.28 252.5,200.67 253,201.06 253.5,201.45 254,201.84 254.5,202.22 255,202.61 255.5,203 256,203.38 256.5,203.77 257,204.15 257.5,204.54 258,204.92 258.5,205.31 259,205.69 259.5,206.07 260,206.45 260.5,206.83 261,207.21 261.5,207.59 262,207.97 262.5,208.35 263,208.73 263.5,209.11 264,209.48 264.5,209.86 265,210.23 265.5,210.61 266,210.98 266.5,211.36 267,211.73 267.5,212.1 268,212.47 268.5,212.84 269,213.21 269.5,213.57 270,213.94 270.5,214.31 271,214.67 271.5,215.04 272,215.4 272.5,215.76 273,216.12 273.5,216.48 274,216.84 274.5,217.2 275,217.55 275.5,217.91 276,218.26 276.5,218.62 277,218.97 277.5,219.32 278,219.67 278.5,220.02 279,220.37 279.5,220.71 280,221.06 280.5,221.4 281,221.75 281.5,222.09 282,222.43 282.5,222.77 283,223.1 283.5,223.44 284,223.78 284.5,224.11 285,224.44 285.5,224.77 286,225.1 286.5,225.43 287,225.76 287.5,226.08 288,226.4 288.5,226.73 289,227.05 289.5,227.36 290,227.68 290.5,228 291,228.31 291.5,228.62 292,228.94 292.5,229.25 293,229.55 293.5,229.86 294,230.16 294.5,230.47 295,230.77 295.5,231.07 296,231.36 296.5,231.66 297,231.95 297.5,232.25 298,232.54 298.5,232.82 299,233.11 299.5,233.4 300,233.68 300.5,233.96 301,234.24 301.5,234.52 302,234.79 302.5,235.07 303,235.34 303.5,235.61 304,235.87 304.5,236.14 305,236.4 305.5,236.67 306,236.92 306.5,237.18 307,237.44 307.5,237.69 308,237.94 308.5,238.19 309,238.44 309.5,238.68 310,238.92 310.5,239.16 311,239.4 311.5,239.64 312,239.87 312.5,240.1 313,240.33 313.5,240.56 314,240.78 314.5,241 315,241.22 315.5,241.44 316,241.66 316.5,241.87 317,242.08 317.5,242.29 318,242.49 318.5,242.69 319,242.81 319.5,242.81" fill="none" stroke="#1fcc8c" stroke-width="1.75" stroke-dasharray="7 3.8 1.5 3.8" clip-path="url(#cp_a2)" stroke-linejoin="round"/>
<path d="M39.5 334.5H318.6V460H39.5ZM67.41 334.5v1.6M318.6 347.05h-1.6M95.32 334.5v2.9M318.6 359.6h-2.9M123.23 334.5v1.6M318.6 372.15h-1.6M151.14 334.5v2.9M318.6 384.7h-2.9M179.05 334.5v1.6M318.6 397.25h-1.6M206.96 334.5v2.9M318.6 409.8h-2.9M234.87 334.5v1.6M318.6 422.35h-1.6M262.78 334.5v2.9M318.6 434.9h-2.9M290.69 334.5v1.6M318.6 447.45h-1.6M39.91 460v-2.9M63.1 460v-1.6M86.29 460v-2.9M109.48 460v-1.6M132.67 460v-2.9M155.86 460v-1.6M179.05 460v-2.9M202.24 460v-1.6M225.43 460v-2.9M248.62 460v-1.6M271.81 460v-2.9M295 460v-1.6M318.19 460v-2.9M39.5 459.5h1.6M39.5 449.9h2.9M39.5 440.3h1.6M39.5 430.7h2.9M39.5 421.1h1.6M39.5 411.5h2.9M39.5 401.9h1.6M39.5 392.3h2.9M39.5 382.7h1.6M39.5 373.1h2.9M39.5 363.5h1.6M39.5 353.9h2.9M39.5 344.3h1.6M39.5 334.7h2.9" fill="none" stroke="#2b2b2b" stroke-width="1"/>
<text x="36" y="453.4" font-size="11" text-anchor="end" >-30</text>
<text x="36" y="434.2" font-size="11" text-anchor="end" >-20</text>
<text x="36" y="415" font-size="11" text-anchor="end" >-10</text>
<text x="36" y="395.8" font-size="11" text-anchor="end" >0</text>
<text x="36" y="376.6" font-size="11" text-anchor="end" >10</text>
<text x="36" y="357.4" font-size="11" text-anchor="end" >20</text>
<text x="36" y="338.2" font-size="11" text-anchor="end" >30</text>
<text x="39.41" y="472" font-size="11" text-anchor="middle" >-0.3</text>
<text x="85.79" y="472" font-size="11" text-anchor="middle" >-0.2</text>
<text x="132.17" y="472" font-size="11" text-anchor="middle" >-0.1</text>
<text x="179.45" y="472" font-size="11" text-anchor="middle" >0.0</text>
<text x="225.83" y="472" font-size="11" text-anchor="middle" >0.1</text>
<text x="272.21" y="472" font-size="11" text-anchor="middle" >0.2</text>
<text x="318.59" y="472" font-size="11" text-anchor="middle" >0.3</text>
<text transform="translate(12.5 394.5) rotate(-90)" font-size="15.5" text-anchor="middle">n<tspan font-size="12.4" dy="5.12">g</tspan><tspan dy="-5.12"> (arb. units)</tspan></text>
<text x="316.2" y="454.2" font-size="15.2" text-anchor="end" >(a3)</text>
<text x="178.5" y="491" font-size="16.6" text-anchor="middle" >Δ<tspan font-size="12" dy="4.5">s</tspan><tspan dy="-4.5"> (GHz)</tspan></text>
<polyline points="40,396.34 40.5,396.3 41,396.26 41.5,396.23 42,396.19 42.5,396.16 43,396.13 43.5,396.11 44,396.08 44.5,396.06 45,396.04 45.5,396.02 46,396 46.5,395.99 47,395.97 47.5,395.96 48,395.95 48.5,395.94 49,395.94 49.5,395.93 50,395.93 50.5,395.93 51,395.93 51.5,395.93 52,395.93 52.5,395.93 53,395.94 53.5,395.95 54,395.96 54.5,395.97 55,395.98 55.5,395.99 56,396 56.5,396.02 57,396.03 57.5,396.05 58,396.07 58.5,396.09 59,396.11 59.5,396.13 60,396.15 60.5,396.17 61,396.2 61.5,396.22 62,396.25 62.5,396.28 63,396.3 63.5,396.33 64,396.36 64.5,396.39 65,396.42 65.5,396.45 66,396.48 66.5,396.51 67,396.54 67.5,396.58 68,396.61 68.5,396.64 69,396.68 69.5,396.71 70,396.75 70.5,396.78 71,396.82 71.5,396.85 72,396.89 72.5,396.92 73,396.96 73.5,396.99 74,397.03 74.5,397.06 75,397.1 75.5,397.14 76,397.17 76.5,397.21 77,397.24 77.5,397.28 78,397.31 78.5,397.35 79,397.38 79.5,397.41 80,397.45 80.5,397.48 81,397.51 81.5,397.55 82,397.58 82.5,397.61 83,397.64 83.5,397.67 84,397.7 84.5,397.73 85,397.76 85.5,397.78 86,397.81 86.5,397.84 87,397.86 87.5,397.89 88,397.91 88.5,397.93 89,397.95 89.5,397.97 90,397.99 90.5,398.01 91,398.03 91.5,398.05 92,398.06 92.5,398.08 93,398.09 93.5,398.1 94,398.11 94.5,398.12 95,398.13 95.5,398.13 96,398.14 96.5,398.14 97,398.14 97.5,398.14 98,398.14 98.5,398.14 99,398.13 99.5,398.13 100,398.12 100.5,398.11 101,398.1 101.5,398.09 102,398.07 102.5,398.05 103,398.04 103.5,398.02 104,397.99 104.5,397.97 105,397.94 105.5,397.91 106,397.88 106.5,397.85 107,397.82 107.5,397.78 108,397.74 108.5,397.7 109,397.65 109.5,397.61 110,397.56 110.5,397.51 111,397.46 111.5,397.4 112,397.34 112.5,397.28 113,397.22 113.5,397.15 114,397.09 114.5,397.02 115,396.94 115.5,396.87 116,396.79 116.5,396.71 117,396.62 117.5,396.53 118,396.44 118.5,396.35 119,396.25 119.5,396.15 120,396.04 120.5,395.93 121,395.81 121.5,395.68 122,395.55 122.5,395.41 123,395.27 123.5,395.11 124,394.95 124.5,394.78 125,394.6 125.5,394.41 126,394.21 126.5,394 127,393.78 127.5,393.55 128,393.31 128.5,393.06 129,392.79 129.5,392.51 130,392.22 130.5,391.91 131,391.59 131.5,391.25 132,390.9 132.5,390.54 133,390.16 133.5,389.76 134,389.35 134.5,388.91 135,388.47 135.5,388 136,387.52 136.5,387.01 137,386.49 137.5,385.95 138,385.39 138.5,384.81 139,384.21 139.5,383.59 140,382.94 140.5,382.27 141,381.59 141.5,380.87 142,380.14 142.5,379.38 143,378.6 143.5,377.79 144,376.96 144.5,376.1 145,375.22 145.5,374.31 146,373.38 146.5,372.42 147,371.44 147.5,370.46 148,369.47 148.5,368.48 149,367.51 149.5,366.55 150,365.61 150.5,364.7 151,363.84 151.5,363.01 152,362.24 152.5,361.52 153,360.87 153.5,360.29 154,359.79 154.5,359.37 155,359.04 155.5,358.82 156,358.7 156.5,358.69 157,358.79 157.5,359.03 158,359.4 158.5,359.9 159,360.56 159.5,361.36 160,362.33 160.5,363.46 161,364.75 161.5,366.2 162,367.81 162.5,369.56 163,371.45 163.5,373.48 164,375.64 164.5,377.92 165,380.32 165.5,382.83 166,385.45 166.5,388.17 167,390.98 167.5,393.87 168,396.79 168.5,399.72 169,402.64 169.5,405.51 170,408.31 170.5,411.01 171,413.58 171.5,415.99 172,418.22 172.5,420.23 173,422.03 173.5,423.62 174,425.02 174.5,426.23 175,427.26 175.5,428.14 176,428.86 176.5,429.44 177,429.89 177.5,430.22 178,430.44 178.5,430.57 179,430.61 179.5,430.57 180,430.46 180.5,430.27 181,429.97 181.5,429.57 182,429.06 182.5,428.43 183,427.66 183.5,426.74 184,425.68 184.5,424.45 185,423.05 185.5,421.47 186,419.7 186.5,417.73 187,415.57 187.5,413.24 188,410.75 188.5,408.13 189,405.4 189.5,402.58 190,399.69 190.5,396.74 191,393.78 191.5,390.82 192,387.89 192.5,385.02 193,382.23 193.5,379.54 194,376.98 194.5,374.58 195,372.37 195.5,370.34 196,368.51 196.5,366.86 197,365.39 197.5,364.08 198,362.94 198.5,361.96 199,361.13 199.5,360.45 200,359.9 200.5,359.49 201,359.21 201.5,359.04 202,358.99 202.5,359.05 203,359.21 203.5,359.47 204,359.82 204.5,360.25 205,360.76 205.5,361.33 206,361.98 206.5,362.68 207,363.44 207.5,364.24 208,365.08 208.5,365.95 209,366.85 209.5,367.78 210,368.72 210.5,369.66 211,370.62 211.5,371.56 212,372.5 212.5,373.42 213,374.32 213.5,375.2 214,376.05 214.5,376.88 215,377.69 215.5,378.48 216,379.25 216.5,379.99 217,380.72 217.5,381.42 218,382.1 218.5,382.77 219,383.41 219.5,384.03 220,384.64 220.5,385.22 221,385.79 221.5,386.34 222,386.87 222.5,387.39 223,387.88 223.5,388.36 224,388.83 224.5,389.27 225,389.7 225.5,390.12 226,390.52 226.5,390.9 227,391.27 227.5,391.63 228,391.97 228.5,392.3 229,392.61 229.5,392.91 230,393.2 230.5,393.47 231,393.74 231.5,393.99 232,394.22 232.5,394.45 233,394.67 233.5,394.87 234,395.07 234.5,395.25 235,395.43 235.5,395.59 236,395.75 236.5,395.9 237,396.04 237.5,396.17 238,396.29 238.5,396.4 239,396.51 239.5,396.61 240,396.71 240.5,396.79 241,396.87 241.5,396.95 242,397.02 242.5,397.08 243,397.14 243.5,397.19 244,397.25 244.5,397.29 245,397.33 245.5,397.37 246,397.41 246.5,397.44 247,397.47 247.5,397.5 248,397.53 248.5,397.55 249,397.58 249.5,397.6 250,397.62 250.5,397.64 251,397.66 251.5,397.68 252,397.69 252.5,397.71 253,397.72 253.5,397.73 254,397.75 254.5,397.76 255,397.77 255.5,397.77 256,397.78 256.5,397.79 257,397.79 257.5,397.8 258,397.8 258.5,397.8 259,397.8 259.5,397.8 260,397.8 260.5,397.8 261,397.8 261.5,397.8 262,397.79 262.5,397.79 263,397.78 263.5,397.78 264,397.77 264.5,397.76 265,397.75 265.5,397.74 266,397.73 266.5,397.72 267,397.71 267.5,397.7 268,397.69 268.5,397.67 269,397.66 269.5,397.64 270,397.63 270.5,397.61 271,397.6 271.5,397.58 272,397.56 272.5,397.55 273,397.53 273.5,397.51 274,397.49 274.5,397.47 275,397.45 275.5,397.43 276,397.41 276.5,397.39 277,397.37 277.5,397.35 278,397.32 278.5,397.3 279,397.28 279.5,397.26 280,397.23 280.5,397.21 281,397.19 281.5,397.17 282,397.14 282.5,397.12 283,397.1 283.5,397.07 284,397.05 284.5,397.02 285,397 285.5,396.98 286,396.95 286.5,396.93 287,396.9 287.5,396.88 288,396.86 288.5,396.83 289,396.81 289.5,396.79 290,396.76 290.5,396.74 291,396.72 291.5,396.7 292,396.67 292.5,396.65 293,396.63 293.5,396.61 294,396.59 294.5,396.56 295,396.54 295.5,396.52 296,396.5 296.5,396.48 297,396.46 297.5,396.45 298,396.43 298.5,396.41 299,396.39 299.5,396.37 300,396.36 300.5,396.34 301,396.33 301.5,396.31 302,396.3 302.5,396.28 303,396.27 303.5,396.26 304,396.24 304.5,396.23 305,396.22 305.5,396.21 306,396.2 306.5,396.2 307,396.19 307.5,396.18 308,396.17 308.5,396.17 309,396.16 309.5,396.16 310,396.16 310.5,396.16 311,396.15 311.5,396.15 312,396.15 312.5,396.16 313,396.16 313.5,396.16 314,396.17 314.5,396.17 315,396.18 315.5,396.19 316,396.19 316.5,396.2 317,396.22 317.5,396.23 318,396.24 318.5,396.25 319,396.25 319.5,396.25" fill="none" stroke="#f9504e" stroke-width="1.25" clip-path="url(#cp_a3)" stroke-linejoin="round"/>
<polyline points="40,396.35 40.5,396.31 41,396.27 41.5,396.24 42,396.21 42.5,396.18 43,396.15 43.5,396.12 44,396.1 44.5,396.08 45,396.06 45.5,396.04 46,396.02 46.5,396.01 47,395.99 47.5,395.98 48,395.97 48.5,395.97 49,395.96 49.5,395.96 50,395.95 50.5,395.95 51,395.95 51.5,395.96 52,395.96 52.5,395.96 53,395.97 53.5,395.98 54,395.99 54.5,396 55,396.01 55.5,396.02 56,396.04 56.5,396.05 57,396.07 57.5,396.09 58,396.1 58.5,396.12 59,396.15 59.5,396.17 60,396.19 60.5,396.21 61,396.24 61.5,396.26 62,396.29 62.5,396.32 63,396.35 63.5,396.37 64,396.4 64.5,396.43 65,396.46 65.5,396.5 66,396.53 66.5,396.56 67,396.59 67.5,396.63 68,396.66 68.5,396.7 69,396.73 69.5,396.77 70,396.8 70.5,396.84 71,396.87 71.5,396.91 72,396.95 72.5,396.99 73,397.02 73.5,397.06 74,397.1 74.5,397.13 75,397.17 75.5,397.21 76,397.25 76.5,397.28 77,397.32 77.5,397.36 78,397.39 78.5,397.43 79,397.47 79.5,397.5 80,397.54 80.5,397.58 81,397.61 81.5,397.65 82,397.68 82.5,397.71 83,397.75 83.5,397.78 84,397.81 84.5,397.85 85,397.88 85.5,397.91 86,397.94 86.5,397.97 87,398 87.5,398.02 88,398.05 88.5,398.08 89,398.1 89.5,398.13 90,398.15 90.5,398.17 91,398.19 91.5,398.22 92,398.23 92.5,398.25 93,398.27 93.5,398.29 94,398.3 94.5,398.32 95,398.33 95.5,398.34 96,398.35 96.5,398.36 97,398.37 97.5,398.37 98,398.38 98.5,398.38 99,398.38 99.5,398.38 100,398.38 100.5,398.38 101,398.37 101.5,398.37 102,398.36 102.5,398.35 103,398.34 103.5,398.33 104,398.31 104.5,398.3 105,398.28 105.5,398.26 106,398.23 106.5,398.21 107,398.18 107.5,398.16 108,398.12 108.5,398.09 109,398.06 109.5,398.02 110,397.98 110.5,397.94 111,397.9 111.5,397.85 112,397.8 112.5,397.75 113,397.7 113.5,397.65 114,397.59 114.5,397.53 115,397.47 115.5,397.4 116,397.34 116.5,397.27 117,397.19 117.5,397.12 118,397.04 118.5,396.96 119,396.87 119.5,396.78 120,396.69 120.5,396.6 121,396.5 121.5,396.39 122,396.28 122.5,396.17 123,396.04 123.5,395.92 124,395.79 124.5,395.65 125,395.5 125.5,395.35 126,395.19 126.5,395.02 127,394.84 127.5,394.65 128,394.45 128.5,394.24 129,394.01 129.5,393.77 130,393.51 130.5,393.24 131,392.95 131.5,392.64 132,392.31 132.5,391.97 133,391.6 133.5,391.22 134,390.81 134.5,390.38 135,389.92 135.5,389.44 136,388.94 136.5,388.41 137,387.85 137.5,387.27 138,386.65 138.5,386.01 139,385.34 139.5,384.63 140,383.9 140.5,383.13 141,382.32 141.5,381.49 142,380.62 142.5,379.72 143,378.79 143.5,377.83 144,376.84 144.5,375.82 145,374.78 145.5,373.72 146,372.63 146.5,371.52 147,370.4 147.5,369.26 148,368.12 148.5,366.98 149,365.84 149.5,364.72 150,363.61 150.5,362.52 151,361.46 151.5,360.42 152,359.43 152.5,358.47 153,357.56 153.5,356.69 154,355.87 154.5,355.09 155,354.35 155.5,353.66 156,353.02 156.5,352.45 157,351.99 157.5,351.69 158,351.62 158.5,351.8 159,352.28 159.5,353.03 160,354.01 160.5,355.2 161,356.56 161.5,358.09 162,359.8 162.5,361.68 163,363.76 163.5,366.02 164,368.48 164.5,371.13 165,374 165.5,377.07 166,380.35 166.5,383.86 167,387.57 167.5,391.42 168,395.32 168.5,399.19 169,403.01 169.5,406.75 170,410.38 170.5,413.89 171,417.24 171.5,420.41 172,423.38 172.5,426.12 173,428.63 173.5,430.91 174,432.97 174.5,434.81 175,436.44 175.5,437.87 176,439.09 176.5,440.12 177,440.96 177.5,441.61 178,442.09 178.5,442.39 179,442.52 179.5,442.49 180,442.29 180.5,441.93 181,441.39 181.5,440.68 182,439.78 182.5,438.7 183,437.42 183.5,435.95 184,434.28 184.5,432.41 185,430.32 185.5,428.02 186,425.51 186.5,422.77 187,419.81 187.5,416.67 188,413.35 188.5,409.88 189,406.27 189.5,402.55 190,398.73 190.5,394.85 191,390.93 191.5,387.05 192,383.29 192.5,379.73 193,376.38 193.5,373.24 194,370.32 194.5,367.63 195,365.16 195.5,362.93 196,360.91 196.5,359.1 197,357.48 197.5,356.05 198,354.79 198.5,353.7 199,352.81 199.5,352.16 200,351.79 200.5,351.71 201,351.88 201.5,352.26 202,352.78 202.5,353.39 203,354.05 203.5,354.74 204,355.46 204.5,356.22 205,357.02 205.5,357.86 206,358.75 206.5,359.69 207,360.68 207.5,361.71 208,362.77 208.5,363.86 209,364.98 209.5,366.11 210,367.25 210.5,368.39 211,369.53 211.5,370.67 212,371.79 212.5,372.89 213,373.97 213.5,375.01 214,376.02 214.5,377 215,377.95 215.5,378.87 216,379.76 216.5,380.62 217,381.45 217.5,382.25 218,383.02 218.5,383.76 219,384.48 219.5,385.16 220,385.82 220.5,386.46 221,387.07 221.5,387.65 222,388.21 222.5,388.74 223,389.26 223.5,389.75 224,390.21 224.5,390.66 225,391.09 225.5,391.49 226,391.88 226.5,392.25 227,392.6 227.5,392.93 228,393.25 228.5,393.55 229,393.84 229.5,394.11 230,394.36 230.5,394.61 231,394.83 231.5,395.05 232,395.26 232.5,395.45 233,395.64 233.5,395.81 234,395.98 234.5,396.13 235,396.28 235.5,396.42 236,396.55 236.5,396.68 237,396.8 237.5,396.91 238,397.01 238.5,397.11 239,397.2 239.5,397.28 240,397.36 240.5,397.43 241,397.5 241.5,397.56 242,397.62 242.5,397.67 243,397.72 243.5,397.76 244,397.8 244.5,397.84 245,397.87 245.5,397.9 246,397.92 246.5,397.95 247,397.97 247.5,397.98 248,398 248.5,398.01 249,398.02 249.5,398.03 250,398.04 250.5,398.05 251,398.05 251.5,398.05 252,398.06 252.5,398.06 253,398.06 253.5,398.05 254,398.05 254.5,398.05 255,398.04 255.5,398.04 256,398.03 256.5,398.02 257,398.01 257.5,398 258,398 258.5,397.99 259,397.98 259.5,397.96 260,397.95 260.5,397.94 261,397.93 261.5,397.92 262,397.9 262.5,397.89 263,397.88 263.5,397.86 264,397.85 264.5,397.83 265,397.82 265.5,397.8 266,397.79 266.5,397.77 267,397.76 267.5,397.74 268,397.72 268.5,397.71 269,397.69 269.5,397.67 270,397.65 270.5,397.64 271,397.62 271.5,397.6 272,397.58 272.5,397.56 273,397.54 273.5,397.52 274,397.51 274.5,397.49 275,397.47 275.5,397.45 276,397.43 276.5,397.41 277,397.39 277.5,397.37 278,397.35 278.5,397.33 279,397.31 279.5,397.28 280,397.26 280.5,397.24 281,397.22 281.5,397.2 282,397.18 282.5,397.16 283,397.14 283.5,397.12 284,397.1 284.5,397.08 285,397.06 285.5,397.04 286,397.02 286.5,397 287,396.98 287.5,396.96 288,396.93 288.5,396.91 289,396.89 289.5,396.87 290,396.85 290.5,396.84 291,396.82 291.5,396.8 292,396.78 292.5,396.76 293,396.74 293.5,396.72 294,396.7 294.5,396.68 295,396.67 295.5,396.65 296,396.63 296.5,396.61 297,396.6 297.5,396.58 298,396.56 298.5,396.55 299,396.53 299.5,396.51 300,396.5 300.5,396.48 301,396.47 301.5,396.45 302,396.44 302.5,396.43 303,396.41 303.5,396.4 304,396.39 304.5,396.38 305,396.36 305.5,396.35 306,396.34 306.5,396.33 307,396.32 307.5,396.31 308,396.3 308.5,396.29 309,396.28 309.5,396.28 310,396.27 310.5,396.26 311,396.26 311.5,396.25 312,396.24 312.5,396.24 313,396.24 313.5,396.23 314,396.23 314.5,396.23 315,396.22 315.5,396.22 316,396.22 316.5,396.22 317,396.22 317.5,396.22 318,396.22 318.5,396.23 319,396.23 319.5,396.23" fill="none" stroke="#efab30" stroke-width="1.75" stroke-dasharray="5.8 6.8" clip-path="url(#cp_a3)" stroke-linejoin="round"/>
<polyline points="40,396.36 40.5,396.32 41,396.28 41.5,396.25 42,396.22 42.5,396.19 43,396.17 43.5,396.14 44,396.12 44.5,396.1 45,396.08 45.5,396.06 46,396.05 46.5,396.03 47,396.02 47.5,396.01 48,396 48.5,396 49,395.99 49.5,395.99 50,395.99 50.5,395.99 51,395.99 51.5,395.99 52,396 52.5,396 53,396.01 53.5,396.02 54,396.03 54.5,396.04 55,396.05 55.5,396.06 56,396.08 56.5,396.1 57,396.11 57.5,396.13 58,396.15 58.5,396.17 59,396.19 59.5,396.22 60,396.24 60.5,396.26 61,396.29 61.5,396.32 62,396.34 62.5,396.37 63,396.4 63.5,396.43 64,396.46 64.5,396.49 65,396.52 65.5,396.56 66,396.59 66.5,396.62 67,396.66 67.5,396.69 68,396.73 68.5,396.76 69,396.8 69.5,396.84 70,396.87 70.5,396.91 71,396.95 71.5,396.99 72,397.03 72.5,397.07 73,397.1 73.5,397.14 74,397.18 74.5,397.22 75,397.26 75.5,397.3 76,397.34 76.5,397.38 77,397.42 77.5,397.46 78,397.5 78.5,397.54 79,397.58 79.5,397.62 80,397.66 80.5,397.7 81,397.73 81.5,397.77 82,397.81 82.5,397.85 83,397.88 83.5,397.92 84,397.96 84.5,397.99 85,398.03 85.5,398.06 86,398.1 86.5,398.13 87,398.16 87.5,398.2 88,398.23 88.5,398.26 89,398.29 89.5,398.32 90,398.35 90.5,398.38 91,398.4 91.5,398.43 92,398.46 92.5,398.48 93,398.5 93.5,398.53 94,398.55 94.5,398.57 95,398.59 95.5,398.61 96,398.62 96.5,398.64 97,398.65 97.5,398.67 98,398.68 98.5,398.69 99,398.7 99.5,398.71 100,398.72 100.5,398.72 101,398.72 101.5,398.73 102,398.73 102.5,398.73 103,398.73 103.5,398.72 104,398.72 104.5,398.71 105,398.7 105.5,398.69 106,398.68 106.5,398.67 107,398.65 107.5,398.63 108,398.61 108.5,398.59 109,398.57 109.5,398.55 110,398.52 110.5,398.49 111,398.46 111.5,398.43 112,398.39 112.5,398.35 113,398.31 113.5,398.27 114,398.23 114.5,398.18 115,398.14 115.5,398.09 116,398.03 116.5,397.98 117,397.92 117.5,397.86 118,397.8 118.5,397.73 119,397.67 119.5,397.6 120,397.52 120.5,397.45 121,397.37 121.5,397.29 122,397.21 122.5,397.12 123,397.03 123.5,396.94 124,396.85 124.5,396.75 125,396.65 125.5,396.55 126,396.44 126.5,396.32 127,396.19 127.5,396.05 128,395.9 128.5,395.74 129,395.56 129.5,395.37 130,395.15 130.5,394.92 131,394.67 131.5,394.4 132,394.11 132.5,393.79 133,393.44 133.5,393.07 134,392.67 134.5,392.24 135,391.78 135.5,391.28 136,390.75 136.5,390.18 137,389.58 137.5,388.94 138,388.26 138.5,387.54 139,386.77 139.5,385.97 140,385.11 140.5,384.21 141,383.26 141.5,382.27 142,381.23 142.5,380.14 143,379.02 143.5,377.87 144,376.68 144.5,375.47 145,374.22 145.5,372.96 146,371.67 146.5,370.37 147,369.06 147.5,367.73 148,366.4 148.5,365.07 149,363.73 149.5,362.39 150,361.06 150.5,359.74 151,358.43 151.5,357.13 152,355.85 152.5,354.59 153,353.34 153.5,352.11 154,350.88 154.5,349.64 155,348.38 155.5,347.1 156,345.8 156.5,344.5 157,343.32 157.5,342.36 158,341.71 158.5,341.49 159,341.75 159.5,342.43 160,343.43 160.5,344.69 161,346.13 161.5,347.76 162,349.6 162.5,351.66 163,353.96 163.5,356.52 164,359.37 164.5,362.5 165,365.95 165.5,369.74 166,373.87 166.5,378.37 167,383.23 167.5,388.31 168,393.45 168.5,398.52 169,403.49 169.5,408.33 170,413.03 170.5,417.56 171,421.9 171.5,426.03 172,429.94 172.5,433.61 173,437.03 173.5,440.19 174,443.09 174.5,445.74 175,448.13 175.5,450.25 176,452.12 176.5,453.72 177,455.05 177.5,456.11 178,456.91 178.5,457.43 179,457.68 179.5,457.65 180,457.35 180.5,456.77 181,455.93 181.5,454.81 182,453.42 182.5,451.77 183,449.86 183.5,447.68 184,445.24 184.5,442.53 185,439.58 185.5,436.36 186,432.89 186.5,429.17 187,425.21 187.5,421.03 188,416.65 188.5,412.09 189,407.37 189.5,402.51 190,397.52 190.5,392.44 191,387.29 191.5,382.24 192,377.44 192.5,373.01 193,368.94 193.5,365.23 194,361.85 194.5,358.78 195,356 195.5,353.49 196,351.24 196.5,349.23 197,347.43 197.5,345.83 198,344.41 198.5,343.18 199,342.22 199.5,341.62 200,341.46 200.5,341.8 201,342.56 201.5,343.62 202,344.87 202.5,346.19 203,347.48 203.5,348.72 204,349.92 204.5,351.1 205,352.27 205.5,353.45 206,354.65 206.5,355.89 207,357.17 207.5,358.49 208,359.83 208.5,361.2 209,362.58 209.5,363.98 210,365.38 210.5,366.77 211,368.16 211.5,369.53 212,370.89 212.5,372.22 213,373.51 213.5,374.77 214,375.99 214.5,377.16 215,378.29 215.5,379.38 216,380.42 216.5,381.43 217,382.39 217.5,383.31 218,384.19 218.5,385.04 219,385.84 219.5,386.61 220,387.34 220.5,388.03 221,388.69 221.5,389.31 222,389.91 222.5,390.47 223,391 223.5,391.51 224,391.98 224.5,392.43 225,392.85 225.5,393.24 226,393.62 226.5,393.96 227,394.29 227.5,394.6 228,394.88 228.5,395.15 229,395.4 229.5,395.63 230,395.85 230.5,396.05 231,396.23 231.5,396.41 232,396.57 232.5,396.73 233,396.87 233.5,397 234,397.13 234.5,397.25 235,397.36 235.5,397.47 236,397.57 236.5,397.67 237,397.76 237.5,397.85 238,397.93 238.5,398 239,398.07 239.5,398.13 240,398.19 240.5,398.25 241,398.3 241.5,398.34 242,398.39 242.5,398.42 243,398.46 243.5,398.49 244,398.51 244.5,398.53 245,398.55 245.5,398.57 246,398.58 246.5,398.59 247,398.59 247.5,398.6 248,398.6 248.5,398.6 249,398.59 249.5,398.58 250,398.57 250.5,398.56 251,398.55 251.5,398.54 252,398.52 252.5,398.5 253,398.48 253.5,398.46 254,398.44 254.5,398.42 255,398.39 255.5,398.37 256,398.34 256.5,398.32 257,398.29 257.5,398.27 258,398.24 258.5,398.22 259,398.19 259.5,398.17 260,398.14 260.5,398.12 261,398.09 261.5,398.07 262,398.04 262.5,398.02 263,398 263.5,397.97 264,397.95 264.5,397.93 265,397.91 265.5,397.88 266,397.86 266.5,397.84 267,397.82 267.5,397.79 268,397.77 268.5,397.75 269,397.73 269.5,397.71 270,397.69 270.5,397.67 271,397.65 271.5,397.63 272,397.61 272.5,397.58 273,397.57 273.5,397.55 274,397.53 274.5,397.51 275,397.49 275.5,397.47 276,397.45 276.5,397.43 277,397.41 277.5,397.39 278,397.37 278.5,397.36 279,397.34 279.5,397.32 280,397.3 280.5,397.28 281,397.27 281.5,397.25 282,397.23 282.5,397.21 283,397.2 283.5,397.18 284,397.16 284.5,397.15 285,397.13 285.5,397.11 286,397.1 286.5,397.08 287,397.07 287.5,397.05 288,397.03 288.5,397.02 289,397 289.5,396.99 290,396.97 290.5,396.96 291,396.94 291.5,396.92 292,396.91 292.5,396.89 293,396.88 293.5,396.86 294,396.85 294.5,396.84 295,396.82 295.5,396.81 296,396.79 296.5,396.78 297,396.76 297.5,396.75 298,396.73 298.5,396.72 299,396.71 299.5,396.69 300,396.68 300.5,396.67 301,396.65 301.5,396.64 302,396.62 302.5,396.61 303,396.6 303.5,396.58 304,396.57 304.5,396.56 305,396.54 305.5,396.53 306,396.52 306.5,396.5 307,396.49 307.5,396.48 308,396.46 308.5,396.45 309,396.44 309.5,396.42 310,396.41 310.5,396.4 311,396.39 311.5,396.37 312,396.36 312.5,396.35 313,396.33 313.5,396.32 314,396.31 314.5,396.3 315,396.28 315.5,396.27 316,396.26 316.5,396.24 317,396.23 317.5,396.22 318,396.2 318.5,396.19 319,396.19 319.5,396.19" fill="none" stroke="#1fcc8c" stroke-width="1.75" stroke-dasharray="7 3.8 1.5 3.8" clip-path="url(#cp_a3)" stroke-linejoin="round"/>
<path d="M398.7 20.5H678.5V145.5H398.7ZM426.68 20.5v1.6M678.5 33h-1.6M454.66 20.5v2.9M678.5 45.5h-2.9M482.64 20.5v1.6M678.5 58h-1.6M510.62 20.5v2.9M678.5 70.5h-2.9M538.6 20.5v1.6M678.5 83h-1.6M566.58 20.5v2.9M678.5 95.5h-2.9M594.56 20.5v1.6M678.5 108h-1.6M622.54 20.5v2.9M678.5 120.5h-2.9M650.52 20.5v1.6M678.5 133h-1.6M426.78 145.5v-1.6M454.76 145.5v-2.9M482.74 145.5v-1.6M510.72 145.5v-2.9M538.7 145.5v-1.6M566.68 145.5v-2.9M594.66 145.5v-1.6M622.64 145.5v-2.9M650.62 145.5v-1.6M398.7 120.4h2.9M398.7 95.4h1.6M398.7 70.4h2.9M398.7 45.4h1.6" fill="none" stroke="#2b2b2b" stroke-width="1"/>
<text x="395.2" y="124.2" font-size="11" text-anchor="end" >0</text>
<text x="395.2" y="74.2" font-size="11" text-anchor="end" >10</text>
<text x="395.2" y="24.2" font-size="11" text-anchor="end" >20</text>
<text x="398.8" y="157.6" font-size="11" text-anchor="middle" >0</text>
<text x="454.76" y="157.6" font-size="11" text-anchor="middle" >2</text>
<text x="510.72" y="157.6" font-size="11" text-anchor="middle" >4</text>
<text x="566.68" y="157.6" font-size="11" text-anchor="middle" >6</text>
<text x="622.64" y="157.6" font-size="11" text-anchor="middle" >8</text>
<text x="678.6" y="157.6" font-size="11" text-anchor="middle" >10</text>
<text transform="translate(374.9 80) rotate(-90)" font-size="15.5" text-anchor="middle">n<tspan font-size="12.4" dy="5.12">g</tspan><tspan dy="-5.12"> (arb. units)</tspan></text>
<text x="401.6" y="140.6" font-size="15.2" text-anchor="start" >(b1)</text>
<text x="674" y="140.3" font-size="15.2" text-anchor="end" >θ=0.3π</text>
<polyline points="398.8,127.08 399.3,123.74 399.8,120.55 400.3,117.48 400.8,114.54 401.3,111.72 401.8,109.03 402.3,106.45 402.8,103.98 403.3,101.62 403.81,99.37 404.31,97.22 404.81,95.16 405.31,93.2 405.81,91.33 406.31,89.55 406.81,87.85 407.31,86.22 407.81,84.68 408.31,83.2 408.81,81.81 409.31,80.49 409.81,79.27 410.31,78.15 410.81,77.14 411.31,76.25 411.81,75.47 412.31,74.83 412.82,74.33 413.32,73.98 413.82,73.78 414.32,73.74 414.82,73.87 415.32,74.18 415.82,74.66 416.32,75.33 416.82,76.19 417.32,77.23 417.82,78.46 418.32,79.89 418.82,81.49 419.32,83.26 419.82,85.19 420.32,87.25 420.82,89.43 421.32,91.71 421.82,94.08 422.33,96.5 422.83,98.96 423.33,101.42 423.83,103.88 424.33,106.29 424.83,108.65 425.33,110.94 425.83,113.14 426.33,115.26 426.83,117.27 427.33,119.17 427.83,120.96 428.33,122.64 428.83,124.21 429.33,125.66 429.83,127.02 430.33,128.27 430.83,129.42 431.33,130.48 431.84,131.45 432.34,132.32 432.84,133.11 433.34,133.82 433.84,134.44 434.34,134.99 434.84,135.46 435.34,135.87 435.84,136.2 436.34,136.47 436.84,136.67 437.34,136.82 437.84,136.91 438.34,136.94 438.84,136.93 439.34,136.87 439.84,136.76 440.34,136.61 440.85,136.42 441.35,136.2 441.85,135.94 442.35,135.66 442.85,135.35 443.35,135.01 443.85,134.65 444.35,134.28 444.85,133.89 445.35,133.49 445.85,133.08 446.35,132.66 446.85,132.23 447.35,131.78 447.85,131.33 448.35,130.87 448.85,130.4 449.35,129.92 449.85,129.44 450.36,128.94 450.86,128.44 451.36,127.93 451.86,127.41 452.36,126.89 452.86,126.35 453.36,125.81 453.86,125.27 454.36,124.72 454.86,124.16 455.36,123.6 455.86,123.03 456.36,122.46 456.86,121.88 457.36,121.29 457.86,120.71 458.36,120.12 458.86,119.52 459.36,118.92 459.87,118.32 460.37,117.71 460.87,117.11 461.37,116.5 461.87,115.88 462.37,115.27 462.87,114.65 463.37,114.04 463.87,113.42 464.37,112.8 464.87,112.18 465.37,111.56 465.87,110.94 466.37,110.32 466.87,109.7 467.37,109.08 467.87,108.46 468.37,107.84 468.88,107.22 469.38,106.61 469.88,106 470.38,105.39 470.88,104.78 471.38,104.18 471.88,103.57 472.38,102.97 472.88,102.38 473.38,101.79 473.88,101.2 474.38,100.62 474.88,100.04 475.38,99.47 475.88,98.9 476.38,98.33 476.88,97.77 477.38,97.21 477.88,96.65 478.39,96.11 478.89,95.56 479.39,95.02 479.89,94.48 480.39,93.95 480.89,93.42 481.39,92.89 481.89,92.37 482.39,91.85 482.89,91.34 483.39,90.82 483.89,90.32 484.39,89.82 484.89,89.32 485.39,88.82 485.89,88.33 486.39,87.84 486.89,87.36 487.39,86.88 487.9,86.4 488.4,85.93 488.9,85.46 489.4,84.99 489.9,84.53 490.4,84.07 490.9,83.61 491.4,83.16 491.9,82.71 492.4,82.27 492.9,81.83 493.4,81.39 493.9,80.95 494.4,80.52 494.9,80.09 495.4,79.67 495.9,79.25 496.4,78.83 496.91,78.42 497.41,78 497.91,77.6 498.41,77.19 498.91,76.79 499.41,76.39 499.91,75.99 500.41,75.6 500.91,75.21 501.41,74.83 501.91,74.44 502.41,74.06 502.91,73.68 503.41,73.31 503.91,72.94 504.41,72.57 504.91,72.2 505.41,71.84 505.91,71.48 506.42,71.13 506.92,70.77 507.42,70.42 507.92,70.07 508.42,69.73 508.92,69.38 509.42,69.04 509.92,68.71 510.42,68.37 510.92,68.04 511.42,67.71 511.92,67.38 512.42,67.06 512.92,66.74 513.42,66.42 513.92,66.1 514.42,65.79 514.92,65.48 515.43,65.17 515.93,64.86 516.43,64.56 516.93,64.25 517.43,63.95 517.93,63.66 518.43,63.36 518.93,63.07 519.43,62.78 519.93,62.49 520.43,62.21 520.93,61.92 521.43,61.64 521.93,61.36 522.43,61.09 522.93,60.81 523.43,60.54 523.93,60.27 524.43,60 524.94,59.74 525.44,59.47 525.94,59.21 526.44,58.95 526.94,58.69 527.44,58.44 527.94,58.18 528.44,57.93 528.94,57.68 529.44,57.43 529.94,57.18 530.44,56.94 530.94,56.7 531.44,56.46 531.94,56.22 532.44,55.98 532.94,55.74 533.44,55.51 533.94,55.28 534.45,55.04 534.95,54.82 535.45,54.59 535.95,54.36 536.45,54.14 536.95,53.91 537.45,53.69 537.95,53.47 538.45,53.25 538.95,53.04 539.45,52.82 539.95,52.61 540.45,52.4 540.95,52.18 541.45,51.97 541.95,51.77 542.45,51.56 542.95,51.35 543.46,51.15 543.96,50.95 544.46,50.74 544.96,50.54 545.46,50.34 545.96,50.14 546.46,49.95 546.96,49.75 547.46,49.56 547.96,49.36 548.46,49.17 548.96,48.98 549.46,48.79 549.96,48.6 550.46,48.41 550.96,48.22 551.46,48.03 551.96,47.85 552.46,47.66 552.97,47.48 553.47,47.29 553.97,47.11 554.47,46.93 554.97,46.75 555.47,46.57 555.97,46.39 556.47,46.21 556.97,46.03 557.47,45.85 557.97,45.68 558.47,45.5 558.97,45.32 559.47,45.15 559.97,44.97 560.47,44.8 560.97,44.63 561.47,44.45 561.97,44.28 562.48,44.11 562.98,43.94 563.48,43.77 563.98,43.6 564.48,43.43 564.98,43.26 565.48,43.1 565.98,42.93 566.48,42.76 566.98,42.6 567.48,42.43 567.98,42.27 568.48,42.1 568.98,41.94 569.48,41.78 569.98,41.61 570.48,41.45 570.98,41.29 571.49,41.13 571.99,40.97 572.49,40.81 572.99,40.65 573.49,40.5 573.99,40.34 574.49,40.18 574.99,40.03 575.49,39.87 575.99,39.71 576.49,39.56 576.99,39.41 577.49,39.25 577.99,39.1 578.49,38.95 578.99,38.8 579.49,38.65 579.99,38.5 580.49,38.35 581,38.2 581.5,38.05 582,37.9 582.5,37.75 583,37.61 583.5,37.46 584,37.32 584.5,37.17 585,37.03 585.5,36.88 586,36.74 586.5,36.6 587,36.46 587.5,36.32 588,36.17 588.5,36.03 589,35.9 589.5,35.76 590.01,35.62 590.51,35.48 591.01,35.34 591.51,35.21 592.01,35.07 592.51,34.94 593.01,34.8 593.51,34.67 594.01,34.53 594.51,34.4 595.01,34.27 595.51,34.14 596.01,34.01 596.51,33.88 597.01,33.75 597.51,33.62 598.01,33.49 598.51,33.36 599.01,33.23 599.52,33.1 600.02,32.98 600.52,32.85 601.02,32.73 601.52,32.6 602.02,32.48 602.52,32.36 603.02,32.23 603.52,32.11 604.02,31.99 604.52,31.87 605.02,31.75 605.52,31.63 606.02,31.51 606.52,31.39 607.02,31.27 607.52,31.15 608.02,31.04 608.52,30.92 609.03,30.8 609.53,30.69 610.03,30.58 610.53,30.46 611.03,30.35 611.53,30.23 612.03,30.12 612.53,30.01 613.03,29.9 613.53,29.79 614.03,29.68 614.53,29.57 615.03,29.46 615.53,29.35 616.03,29.25 616.53,29.14 617.03,29.03 617.53,28.93 618.04,28.82 618.54,28.72 619.04,28.61 619.54,28.51 620.04,28.41 620.54,28.3 621.04,28.2 621.54,28.1 622.04,28 622.54,27.9 623.04,27.8 623.54,27.7 624.04,27.6 624.54,27.51 625.04,27.41 625.54,27.31 626.04,27.22 626.54,27.12 627.04,27.03 627.55,26.93 628.05,26.84 628.55,26.75 629.05,26.65 629.55,26.56 630.05,26.47 630.55,26.38 631.05,26.29 631.55,26.2 632.05,26.11 632.55,26.02 633.05,25.93 633.55,25.85 634.05,25.76 634.55,25.67 635.05,25.59 635.55,25.5 636.05,25.42 636.55,25.33 637.06,25.25 637.56,25.17 638.06,25.09 638.56,25 639.06,24.92 639.56,24.84 640.06,24.76 640.56,24.68 641.06,24.61 641.56,24.53 642.06,24.45 642.56,24.37 643.06,24.3 643.56,24.22 644.06,24.15 644.56,24.07 645.06,24 645.56,23.92 646.07,23.85 646.57,23.78 647.07,23.71 647.57,23.63 648.07,23.56 648.57,23.49 649.07,23.42 649.57,23.35 650.07,23.29 650.57,23.22 651.07,23.15 651.57,23.08 652.07,23.02 652.57,22.95 653.07,22.89 653.57,22.82 654.07,22.76 654.57,22.7 655.07,22.63 655.58,22.57 656.08,22.51 656.58,22.45 657.08,22.39 657.58,22.33 658.08,22.27 658.58,22.21 659.08,22.15 659.58,22.09 660.08,22.04 660.58,21.98 661.08,21.92 661.58,21.87 662.08,21.81 662.58,21.76 663.08,21.71 663.58,21.65 664.08,21.6 664.58,21.55 665.09,21.5 665.59,21.44 666.09,21.39 666.59,21.34 667.09,21.3 667.59,21.25 668.09,21.2 668.59,21.15 669.09,21.1 669.59,21.06 670.09,21.01 670.59,20.97 671.09,20.92 671.59,20.88 672.09,20.83 672.59,20.79 673.09,20.75 673.59,20.71 674.1,20.66 674.6,20.62 675.1,20.58 675.6,20.54 676.1,20.5 676.6,20.47 677.1,20.43 677.6,20.39 678.1,20.35 678.6,20.32" fill="none" stroke="#9a8a1c" stroke-width="1.25" clip-path="url(#cp_b1)" stroke-linejoin="round"/>
<polyline points="398.8,127.21 399.3,124.09 399.8,121.01 400.3,117.97 400.8,114.99 401.3,112.05 401.8,109.16 402.3,106.32 402.8,103.54 403.3,100.82 403.81,98.16 404.31,95.56 404.81,93.02 405.31,90.55 405.81,88.15 406.31,85.81 406.81,83.55 407.31,81.37 407.81,79.26 408.31,77.23 408.81,75.28 409.31,73.42 409.81,71.66 410.31,70.03 410.81,68.53 411.31,67.18 411.81,66 412.31,65.01 412.82,64.21 413.32,63.63 413.82,63.28 414.32,63.17 414.82,63.33 415.32,63.8 415.82,64.62 416.32,65.84 416.82,67.49 417.32,69.63 417.82,72.24 418.32,75.21 418.82,78.47 419.32,81.84 419.82,85.23 420.32,88.52 420.82,91.68 421.32,94.7 421.82,97.58 422.33,100.33 422.83,102.95 423.33,105.44 423.83,107.8 424.33,110.05 424.83,112.17 425.33,114.17 425.83,116.06 426.33,117.84 426.83,119.51 427.33,121.07 427.83,122.52 428.33,123.87 428.83,125.12 429.33,126.28 429.83,127.34 430.33,128.3 430.83,129.18 431.33,129.97 431.84,130.67 432.34,131.29 432.84,131.83 433.34,132.3 433.84,132.69 434.34,133.01 434.84,133.27 435.34,133.46 435.84,133.59 436.34,133.66 436.84,133.69 437.34,133.66 437.84,133.58 438.34,133.46 438.84,133.3 439.34,133.1 439.84,132.86 440.34,132.6 440.85,132.31 441.35,131.99 441.85,131.65 442.35,131.29 442.85,130.92 443.35,130.53 443.85,130.13 444.35,129.72 444.85,129.29 445.35,128.85 445.85,128.39 446.35,127.93 446.85,127.45 447.35,126.96 447.85,126.46 448.35,125.96 448.85,125.44 449.35,124.92 449.85,124.39 450.36,123.85 450.86,123.3 451.36,122.75 451.86,122.2 452.36,121.63 452.86,121.07 453.36,120.5 453.86,119.93 454.36,119.35 454.86,118.77 455.36,118.2 455.86,117.62 456.36,117.04 456.86,116.46 457.36,115.88 457.86,115.3 458.36,114.73 458.86,114.15 459.36,113.59 459.87,113.02 460.37,112.46 460.87,111.9 461.37,111.34 461.87,110.79 462.37,110.24 462.87,109.7 463.37,109.16 463.87,108.62 464.37,108.09 464.87,107.56 465.37,107.03 465.87,106.51 466.37,105.99 466.87,105.48 467.37,104.97 467.87,104.46 468.37,103.95 468.88,103.45 469.38,102.95 469.88,102.46 470.38,101.97 470.88,101.48 471.38,100.99 471.88,100.51 472.38,100.03 472.88,99.56 473.38,99.09 473.88,98.62 474.38,98.15 474.88,97.69 475.38,97.23 475.88,96.78 476.38,96.33 476.88,95.88 477.38,95.43 477.88,94.99 478.39,94.55 478.89,94.11 479.39,93.68 479.89,93.25 480.39,92.82 480.89,92.4 481.39,91.98 481.89,91.56 482.39,91.15 482.89,90.73 483.39,90.33 483.89,89.92 484.39,89.52 484.89,89.12 485.39,88.72 485.89,88.33 486.39,87.94 486.89,87.55 487.39,87.16 487.9,86.78 488.4,86.4 488.9,86.02 489.4,85.65 489.9,85.28 490.4,84.91 490.9,84.54 491.4,84.18 491.9,83.82 492.4,83.46 492.9,83.11 493.4,82.75 493.9,82.4 494.4,82.06 494.9,81.71 495.4,81.37 495.9,81.03 496.4,80.7 496.91,80.36 497.41,80.03 497.91,79.7 498.41,79.37 498.91,79.05 499.41,78.73 499.91,78.41 500.41,78.09 500.91,77.78 501.41,77.47 501.91,77.16 502.41,76.85 502.91,76.55 503.41,76.25 503.91,75.95 504.41,75.65 504.91,75.35 505.41,75.06 505.91,74.77 506.42,74.48 506.92,74.2 507.42,73.91 507.92,73.63 508.42,73.35 508.92,73.08 509.42,72.8 509.92,72.53 510.42,72.26 510.92,71.99 511.42,71.72 511.92,71.46 512.42,71.2 512.92,70.94 513.42,70.68 513.92,70.42 514.42,70.17 514.92,69.92 515.43,69.67 515.93,69.42 516.43,69.17 516.93,68.93 517.43,68.69 517.93,68.45 518.43,68.21 518.93,67.97 519.43,67.74 519.93,67.51 520.43,67.27 520.93,67.05 521.43,66.82 521.93,66.59 522.43,66.37 522.93,66.15 523.43,65.93 523.93,65.71 524.43,65.49 524.94,65.28 525.44,65.06 525.94,64.85 526.44,64.64 526.94,64.44 527.44,64.23 527.94,64.02 528.44,63.82 528.94,63.62 529.44,63.42 529.94,63.22 530.44,63.02 530.94,62.83 531.44,62.63 531.94,62.44 532.44,62.25 532.94,62.06 533.44,61.87 533.94,61.68 534.45,61.5 534.95,61.31 535.45,61.13 535.95,60.95 536.45,60.77 536.95,60.59 537.45,60.41 537.95,60.24 538.45,60.06 538.95,59.89 539.45,59.72 539.95,59.54 540.45,59.37 540.95,59.21 541.45,59.04 541.95,58.87 542.45,58.71 542.95,58.54 543.46,58.38 543.96,58.22 544.46,58.06 544.96,57.9 545.46,57.74 545.96,57.58 546.46,57.43 546.96,57.27 547.46,57.12 547.96,56.96 548.46,56.81 548.96,56.66 549.46,56.51 549.96,56.36 550.46,56.21 550.96,56.06 551.46,55.91 551.96,55.77 552.46,55.62 552.97,55.48 553.47,55.33 553.97,55.19 554.47,55.05 554.97,54.91 555.47,54.77 555.97,54.63 556.47,54.49 556.97,54.35 557.47,54.21 557.97,54.08 558.47,53.94 558.97,53.8 559.47,53.67 559.97,53.53 560.47,53.4 560.97,53.27 561.47,53.14 561.97,53 562.48,52.87 562.98,52.74 563.48,52.61 563.98,52.48 564.48,52.35 564.98,52.23 565.48,52.1 565.98,51.97 566.48,51.84 566.98,51.72 567.48,51.59 567.98,51.47 568.48,51.35 568.98,51.22 569.48,51.1 569.98,50.98 570.48,50.86 570.98,50.74 571.49,50.61 571.99,50.49 572.49,50.38 572.99,50.26 573.49,50.14 573.99,50.02 574.49,49.9 574.99,49.79 575.49,49.67 575.99,49.56 576.49,49.44 576.99,49.33 577.49,49.22 577.99,49.1 578.49,48.99 578.99,48.88 579.49,48.77 579.99,48.66 580.49,48.55 581,48.44 581.5,48.33 582,48.22 582.5,48.11 583,48 583.5,47.9 584,47.79 584.5,47.68 585,47.58 585.5,47.47 586,47.37 586.5,47.27 587,47.16 587.5,47.06 588,46.96 588.5,46.86 589,46.75 589.5,46.65 590.01,46.55 590.51,46.45 591.01,46.35 591.51,46.25 592.01,46.16 592.51,46.06 593.01,45.96 593.51,45.86 594.01,45.77 594.51,45.67 595.01,45.58 595.51,45.48 596.01,45.39 596.51,45.29 597.01,45.2 597.51,45.11 598.01,45.01 598.51,44.92 599.01,44.83 599.52,44.74 600.02,44.65 600.52,44.56 601.02,44.47 601.52,44.38 602.02,44.29 602.52,44.2 603.02,44.11 603.52,44.03 604.02,43.94 604.52,43.85 605.02,43.77 605.52,43.68 606.02,43.59 606.52,43.51 607.02,43.42 607.52,43.34 608.02,43.26 608.52,43.17 609.03,43.09 609.53,43.01 610.03,42.93 610.53,42.84 611.03,42.76 611.53,42.68 612.03,42.6 612.53,42.52 613.03,42.44 613.53,42.36 614.03,42.28 614.53,42.2 615.03,42.13 615.53,42.05 616.03,41.97 616.53,41.89 617.03,41.82 617.53,41.74 618.04,41.67 618.54,41.59 619.04,41.52 619.54,41.44 620.04,41.37 620.54,41.29 621.04,41.22 621.54,41.15 622.04,41.07 622.54,41 623.04,40.93 623.54,40.86 624.04,40.78 624.54,40.71 625.04,40.64 625.54,40.57 626.04,40.5 626.54,40.43 627.04,40.36 627.55,40.29 628.05,40.22 628.55,40.15 629.05,40.09 629.55,40.02 630.05,39.95 630.55,39.88 631.05,39.82 631.55,39.75 632.05,39.68 632.55,39.62 633.05,39.55 633.55,39.49 634.05,39.42 634.55,39.36 635.05,39.29 635.55,39.23 636.05,39.16 636.55,39.1 637.06,39.04 637.56,38.97 638.06,38.91 638.56,38.85 639.06,38.79 639.56,38.72 640.06,38.66 640.56,38.6 641.06,38.54 641.56,38.48 642.06,38.42 642.56,38.36 643.06,38.3 643.56,38.24 644.06,38.18 644.56,38.12 645.06,38.06 645.56,38 646.07,37.94 646.57,37.88 647.07,37.83 647.57,37.77 648.07,37.71 648.57,37.65 649.07,37.6 649.57,37.54 650.07,37.48 650.57,37.43 651.07,37.37 651.57,37.31 652.07,37.26 652.57,37.2 653.07,37.15 653.57,37.09 654.07,37.04 654.57,36.98 655.07,36.93 655.58,36.87 656.08,36.82 656.58,36.76 657.08,36.71 657.58,36.66 658.08,36.6 658.58,36.55 659.08,36.5 659.58,36.44 660.08,36.39 660.58,36.34 661.08,36.29 661.58,36.23 662.08,36.18 662.58,36.13 663.08,36.08 663.58,36.03 664.08,35.98 664.58,35.93 665.09,35.87 665.59,35.82 666.09,35.77 666.59,35.72 667.09,35.67 667.59,35.62 668.09,35.57 668.59,35.52 669.09,35.47 669.59,35.42 670.09,35.37 670.59,35.32 671.09,35.27 671.59,35.23 672.09,35.18 672.59,35.13 673.09,35.08 673.59,35.03 674.1,34.98 674.6,34.93 675.1,34.88 675.6,34.84 676.1,34.79 676.6,34.74 677.1,34.69 677.6,34.64 678.1,34.6 678.6,34.55" fill="none" stroke="#0f8b0f" stroke-width="1.75" stroke-dasharray="5.8 6.8" clip-path="url(#cp_b1)" stroke-linejoin="round"/>
<polyline points="398.8,127.18 399.3,121.14 399.8,116.04 400.3,111.74 400.8,108.06 401.3,104.84 401.8,101.92 402.3,99.12 402.8,96.29 403.3,93.28 403.81,90.07 404.31,86.73 404.81,83.3 405.31,79.84 405.81,76.39 406.31,73 406.81,69.72 407.31,66.61 407.81,63.7 408.31,61.06 408.81,58.72 409.31,56.74 409.81,55.15 410.31,53.95 410.81,53.13 411.31,52.67 411.81,52.55 412.31,52.76 412.82,53.29 413.32,54.11 413.82,55.22 414.32,56.6 414.82,58.23 415.32,60.11 415.82,62.23 416.32,64.61 416.82,67.28 417.32,70.26 417.82,73.55 418.32,77.16 418.82,81.1 419.32,85.37 419.82,89.9 420.32,94.4 420.82,98.51 421.32,102.01 421.82,104.96 422.33,107.47 422.83,109.68 423.33,111.7 423.83,113.65 424.33,115.58 424.83,117.46 425.33,119.27 425.83,120.99 426.33,122.59 426.83,124.04 427.33,125.32 427.83,126.41 428.33,127.33 428.83,128.09 429.33,128.69 429.83,129.17 430.33,129.52 430.83,129.77 431.33,129.93 431.84,130.01 432.34,130.02 432.84,129.98 433.34,129.9 433.84,129.8 434.34,129.68 434.84,129.55 435.34,129.39 435.84,129.22 436.34,129.03 436.84,128.82 437.34,128.6 437.84,128.36 438.34,128.11 438.84,127.84 439.34,127.55 439.84,127.26 440.34,126.95 440.85,126.62 441.35,126.29 441.85,125.94 442.35,125.58 442.85,125.21 443.35,124.82 443.85,124.43 444.35,124.03 444.85,123.62 445.35,123.19 445.85,122.76 446.35,122.33 446.85,121.88 447.35,121.43 447.85,120.97 448.35,120.5 448.85,120.03 449.35,119.55 449.85,119.07 450.36,118.58 450.86,118.09 451.36,117.59 451.86,117.1 452.36,116.59 452.86,116.09 453.36,115.58 453.86,115.08 454.36,114.57 454.86,114.06 455.36,113.55 455.86,113.04 456.36,112.53 456.86,112.03 457.36,111.52 457.86,111.02 458.36,110.52 458.86,110.02 459.36,109.52 459.87,109.03 460.37,108.55 460.87,108.06 461.37,107.58 461.87,107.11 462.37,106.64 462.87,106.17 463.37,105.71 463.87,105.25 464.37,104.79 464.87,104.34 465.37,103.89 465.87,103.44 466.37,103 466.87,102.56 467.37,102.13 467.87,101.69 468.37,101.27 468.88,100.84 469.38,100.42 469.88,100 470.38,99.59 470.88,99.18 471.38,98.77 471.88,98.37 472.38,97.97 472.88,97.57 473.38,97.18 473.88,96.79 474.38,96.4 474.88,96.02 475.38,95.64 475.88,95.26 476.38,94.89 476.88,94.52 477.38,94.15 477.88,93.79 478.39,93.43 478.89,93.07 479.39,92.72 479.89,92.37 480.39,92.02 480.89,91.68 481.39,91.33 481.89,91 482.39,90.66 482.89,90.33 483.39,90 483.89,89.67 484.39,89.35 484.89,89.03 485.39,88.71 485.89,88.39 486.39,88.08 486.89,87.77 487.39,87.47 487.9,87.16 488.4,86.86 488.9,86.57 489.4,86.27 489.9,85.98 490.4,85.69 490.9,85.4 491.4,85.12 491.9,84.84 492.4,84.56 492.9,84.28 493.4,84.01 493.9,83.74 494.4,83.47 494.9,83.21 495.4,82.95 495.9,82.68 496.4,82.43 496.91,82.17 497.41,81.92 497.91,81.67 498.41,81.42 498.91,81.18 499.41,80.93 499.91,80.69 500.41,80.45 500.91,80.22 501.41,79.99 501.91,79.75 502.41,79.53 502.91,79.3 503.41,79.08 503.91,78.85 504.41,78.63 504.91,78.42 505.41,78.2 505.91,77.99 506.42,77.78 506.92,77.57 507.42,77.36 507.92,77.16 508.42,76.96 508.92,76.76 509.42,76.56 509.92,76.36 510.42,76.17 510.92,75.97 511.42,75.78 511.92,75.6 512.42,75.41 512.92,75.23 513.42,75.04 513.92,74.86 514.42,74.68 514.92,74.51 515.43,74.33 515.93,74.16 516.43,73.99 516.93,73.82 517.43,73.65 517.93,73.48 518.43,73.32 518.93,73.16 519.43,73 519.93,72.84 520.43,72.68 520.93,72.52 521.43,72.37 521.93,72.22 522.43,72.07 522.93,71.92 523.43,71.77 523.93,71.62 524.43,71.48 524.94,71.33 525.44,71.19 525.94,71.05 526.44,70.91 526.94,70.77 527.44,70.64 527.94,70.5 528.44,70.37 528.94,70.24 529.44,70.11 529.94,69.98 530.44,69.85 530.94,69.72 531.44,69.6 531.94,69.47 532.44,69.35 532.94,69.23 533.44,69.11 533.94,68.99 534.45,68.87 534.95,68.75 535.45,68.63 535.95,68.52 536.45,68.4 536.95,68.29 537.45,68.18 537.95,68.07 538.45,67.96 538.95,67.85 539.45,67.74 539.95,67.63 540.45,67.53 540.95,67.42 541.45,67.32 541.95,67.21 542.45,67.11 542.95,67.01 543.46,66.91 543.96,66.81 544.46,66.71 544.96,66.61 545.46,66.51 545.96,66.41 546.46,66.32 546.96,66.22 547.46,66.13 547.96,66.03 548.46,65.94 548.96,65.84 549.46,65.75 549.96,65.66 550.46,65.57 550.96,65.48 551.46,65.39 551.96,65.3 552.46,65.21 552.97,65.12 553.47,65.03 553.97,64.94 554.47,64.85 554.97,64.77 555.47,64.68 555.97,64.59 556.47,64.51 556.97,64.42 557.47,64.33 557.97,64.25 558.47,64.16 558.97,64.08 559.47,63.99 559.97,63.91 560.47,63.82 560.97,63.74 561.47,63.66 561.97,63.57 562.48,63.49 562.98,63.41 563.48,63.33 563.98,63.24 564.48,63.16 564.98,63.08 565.48,63 565.98,62.92 566.48,62.83 566.98,62.75 567.48,62.67 567.98,62.59 568.48,62.51 568.98,62.43 569.48,62.35 569.98,62.27 570.48,62.19 570.98,62.11 571.49,62.04 571.99,61.96 572.49,61.88 572.99,61.8 573.49,61.72 573.99,61.64 574.49,61.57 574.99,61.49 575.49,61.41 575.99,61.34 576.49,61.26 576.99,61.18 577.49,61.11 577.99,61.03 578.49,60.96 578.99,60.88 579.49,60.81 579.99,60.73 580.49,60.66 581,60.58 581.5,60.51 582,60.44 582.5,60.36 583,60.29 583.5,60.22 584,60.14 584.5,60.07 585,60 585.5,59.93 586,59.86 586.5,59.79 587,59.71 587.5,59.64 588,59.57 588.5,59.5 589,59.43 589.5,59.36 590.01,59.29 590.51,59.22 591.01,59.15 591.51,59.08 592.01,59.02 592.51,58.95 593.01,58.88 593.51,58.81 594.01,58.74 594.51,58.68 595.01,58.61 595.51,58.54 596.01,58.47 596.51,58.41 597.01,58.34 597.51,58.28 598.01,58.21 598.51,58.14 599.01,58.08 599.52,58.01 600.02,57.95 600.52,57.88 601.02,57.82 601.52,57.76 602.02,57.69 602.52,57.63 603.02,57.56 603.52,57.5 604.02,57.44 604.52,57.38 605.02,57.31 605.52,57.25 606.02,57.19 606.52,57.13 607.02,57.07 607.52,57.01 608.02,56.94 608.52,56.88 609.03,56.82 609.53,56.76 610.03,56.7 610.53,56.64 611.03,56.58 611.53,56.53 612.03,56.47 612.53,56.41 613.03,56.35 613.53,56.29 614.03,56.23 614.53,56.18 615.03,56.12 615.53,56.06 616.03,56 616.53,55.95 617.03,55.89 617.53,55.83 618.04,55.78 618.54,55.72 619.04,55.67 619.54,55.61 620.04,55.56 620.54,55.5 621.04,55.45 621.54,55.39 622.04,55.34 622.54,55.29 623.04,55.23 623.54,55.18 624.04,55.13 624.54,55.07 625.04,55.02 625.54,54.97 626.04,54.92 626.54,54.86 627.04,54.81 627.55,54.76 628.05,54.71 628.55,54.66 629.05,54.61 629.55,54.56 630.05,54.51 630.55,54.46 631.05,54.41 631.55,54.36 632.05,54.31 632.55,54.26 633.05,54.21 633.55,54.17 634.05,54.12 634.55,54.07 635.05,54.02 635.55,53.97 636.05,53.93 636.55,53.88 637.06,53.83 637.56,53.79 638.06,53.74 638.56,53.7 639.06,53.65 639.56,53.6 640.06,53.56 640.56,53.51 641.06,53.47 641.56,53.43 642.06,53.38 642.56,53.34 643.06,53.29 643.56,53.25 644.06,53.21 644.56,53.16 645.06,53.12 645.56,53.08 646.07,53.04 646.57,52.99 647.07,52.95 647.57,52.91 648.07,52.87 648.57,52.83 649.07,52.79 649.57,52.75 650.07,52.71 650.57,52.67 651.07,52.63 651.57,52.59 652.07,52.55 652.57,52.51 653.07,52.47 653.57,52.43 654.07,52.4 654.57,52.36 655.07,52.32 655.58,52.28 656.08,52.25 656.58,52.21 657.08,52.17 657.58,52.13 658.08,52.1 658.58,52.06 659.08,52.03 659.58,51.99 660.08,51.96 660.58,51.92 661.08,51.89 661.58,51.85 662.08,51.82 662.58,51.78 663.08,51.75 663.58,51.72 664.08,51.68 664.58,51.65 665.09,51.62 665.59,51.58 666.09,51.55 666.59,51.52 667.09,51.49 667.59,51.46 668.09,51.43 668.59,51.39 669.09,51.36 669.59,51.33 670.09,51.3 670.59,51.27 671.09,51.24 671.59,51.21 672.09,51.18 672.59,51.16 673.09,51.13 673.59,51.1 674.1,51.07 674.6,51.04 675.1,51.01 675.6,50.99 676.1,50.96 676.6,50.93 677.1,50.9 677.6,50.88 678.1,50.85 678.6,50.83" fill="none" stroke="#7f08ff" stroke-width="1.75" stroke-dasharray="7 3.8 1.5 3.8" clip-path="url(#cp_b1)" stroke-linejoin="round"/>
<path d="M398.4 6.4H437.6" stroke="#9a8a1c" stroke-width="1.25" fill="none"/>
<path d="M497 6.4H537.4" stroke="#0f8b0f" stroke-width="1.75" stroke-dasharray="5.8 6.8" fill="none"/>
<path d="M589 6.4H628.4" stroke="#7f08ff" stroke-width="1.75" stroke-dasharray="7 3.8 1.5 3.8" fill="none"/>
<text x="442" y="10.8" font-size="17" text-anchor="start" >κ<tspan font-size="12.07" dy="5.1">2</tspan><tspan dy="-3.99">=</tspan><tspan dy="-1.1">κ</tspan><tspan font-size="12.07" dy="5.1">1</tspan></text>
<text x="541" y="10.8" font-size="17" text-anchor="start" >κ<tspan font-size="12.07" dy="5.1">2</tspan><tspan dy="-3.99">=</tspan><tspan dy="-1.1">0</tspan></text>
<text x="633.2" y="10.8" font-size="17" text-anchor="start" >κ<tspan font-size="12.07" dy="5.1">2</tspan><tspan dy="-3.99">=−</tspan><tspan dy="-1.1">κ</tspan><tspan font-size="12.07" dy="5.1">1</tspan></text>
<path d="M399.4 160.5H678.6V285.4H399.4ZM427.32 160.5v1.6M678.6 172.99h-1.6M455.24 160.5v2.9M678.6 185.48h-2.9M483.16 160.5v1.6M678.6 197.97h-1.6M511.08 160.5v2.9M678.6 210.46h-2.9M539 160.5v1.6M678.6 222.95h-1.6M566.92 160.5v2.9M678.6 235.44h-2.9M594.84 160.5v1.6M678.6 247.93h-1.6M622.76 160.5v2.9M678.6 260.42h-2.9M650.68 160.5v1.6M678.6 272.91h-1.6M426.78 285.4v-1.6M454.76 285.4v-2.9M482.74 285.4v-1.6M510.72 285.4v-2.9M538.7 285.4v-1.6M566.68 285.4v-2.9M594.66 285.4v-1.6M622.64 285.4v-2.9M650.62 285.4v-1.6M399.4 269.27h1.6M399.4 253.75h2.9M399.4 238.22h1.6M399.4 222.7h2.9M399.4 207.17h1.6M399.4 191.65h2.9M399.4 176.12h1.6" fill="none" stroke="#2b2b2b" stroke-width="1"/>
<text x="395.9" y="288.6" font-size="11" text-anchor="end" >-40</text>
<text x="395.9" y="257.55" font-size="11" text-anchor="end" >-20</text>
<text x="395.9" y="226.5" font-size="11" text-anchor="end" >0</text>
<text x="395.9" y="195.45" font-size="11" text-anchor="end" >20</text>
<text x="395.9" y="164.4" font-size="11" text-anchor="end" >40</text>
<text x="398.8" y="297.5" font-size="11" text-anchor="middle" >0</text>
<text x="454.76" y="297.5" font-size="11" text-anchor="middle" >2</text>
<text x="510.72" y="297.5" font-size="11" text-anchor="middle" >4</text>
<text x="566.68" y="297.5" font-size="11" text-anchor="middle" >6</text>
<text x="622.64" y="297.5" font-size="11" text-anchor="middle" >8</text>
<text x="678.6" y="297.5" font-size="11" text-anchor="middle" >10</text>
<text transform="translate(373.1 219.2) rotate(-90)" font-size="15.5" text-anchor="middle">n<tspan font-size="12.4" dy="5.12">g</tspan><tspan dy="-5.12"> (arb. units)</tspan></text>
<text x="401.6" y="279.8" font-size="15.2" text-anchor="start" >(b2)</text>
<text x="674" y="279" font-size="15.2" text-anchor="end" >θ=0.7π</text>
<text x="538.5" y="314.4" font-size="15.1" text-anchor="middle" >Ω<tspan font-size="11" dy="4">p</tspan><tspan dy="-4"> (GHz)</tspan></text>
<polyline points="398.8,224.53 399.3,225.27 399.8,225.99 400.3,226.68 400.8,227.35 401.3,227.99 401.8,228.61 402.3,229.2 402.8,229.77 403.3,230.32 403.81,230.85 404.31,231.36 404.81,231.84 405.31,232.31 405.81,232.76 406.31,233.19 406.81,233.6 407.31,234 407.81,234.38 408.31,234.74 408.81,235.09 409.31,235.42 409.81,235.74 410.31,236.05 410.81,236.35 411.31,236.63 411.81,236.9 412.31,237.16 412.82,237.41 413.32,237.66 413.82,237.89 414.32,238.12 414.82,238.34 415.32,238.55 415.82,238.75 416.32,238.95 416.82,239.15 417.32,239.34 417.82,239.53 418.32,239.71 418.82,239.9 419.32,240.08 419.82,240.26 420.32,240.44 420.82,240.62 421.32,240.8 421.82,240.99 422.33,241.17 422.83,241.36 423.33,241.56 423.83,241.75 424.33,241.96 424.83,242.16 425.33,242.38 425.83,242.6 426.33,242.82 426.83,243.06 427.33,243.31 427.83,243.56 428.33,243.82 428.83,244.1 429.33,244.39 429.83,244.68 430.33,244.99 430.83,245.32 431.33,245.66 431.84,246.01 432.34,246.37 432.84,246.75 433.34,247.14 433.84,247.55 434.34,247.97 434.84,248.4 435.34,248.84 435.84,249.3 436.34,249.77 436.84,250.25 437.34,250.75 437.84,251.26 438.34,251.78 438.84,252.31 439.34,252.85 439.84,253.41 440.34,253.98 440.85,254.55 441.35,255.15 441.85,255.75 442.35,256.36 442.85,256.99 443.35,257.62 443.85,258.27 444.35,258.93 444.85,259.6 445.35,260.28 445.85,260.97 446.35,261.67 446.85,262.38 447.35,263.1 447.85,263.83 448.35,264.57 448.85,265.32 449.35,266.07 449.85,266.83 450.36,267.59 450.86,268.35 451.36,269.11 451.86,269.86 452.36,270.61 452.86,271.35 453.36,272.07 453.86,272.79 454.36,273.49 454.86,274.17 455.36,274.83 455.86,275.47 456.36,276.09 456.86,276.68 457.36,277.25 457.86,277.79 458.36,278.3 458.86,278.78 459.36,279.23 459.87,279.65 460.37,280.04 460.87,280.4 461.37,280.72 461.87,281.01 462.37,281.27 462.87,281.49 463.37,281.67 463.87,281.82 464.37,281.93 464.87,282 465.37,282.03 465.87,282.02 466.37,281.97 466.87,281.88 467.37,281.74 467.87,281.57 468.37,281.34 468.88,281.07 469.38,280.76 469.88,280.4 470.38,279.99 470.88,279.54 471.38,279.05 471.88,278.52 472.38,277.95 472.88,277.34 473.38,276.69 473.88,276.01 474.38,275.3 474.88,274.56 475.38,273.78 475.88,272.98 476.38,272.15 476.88,271.29 477.38,270.42 477.88,269.51 478.39,268.59 478.89,267.65 479.39,266.69 479.89,265.71 480.39,264.72 480.89,263.71 481.39,262.68 481.89,261.64 482.39,260.58 482.89,259.52 483.39,258.44 483.89,257.35 484.39,256.26 484.89,255.15 485.39,254.04 485.89,252.91 486.39,251.79 486.89,250.66 487.39,249.52 487.9,248.38 488.4,247.24 488.9,246.1 489.4,244.96 489.9,243.82 490.4,242.68 490.9,241.54 491.4,240.4 491.9,239.27 492.4,238.15 492.9,237.03 493.4,235.92 493.9,234.81 494.4,233.72 494.9,232.63 495.4,231.56 495.9,230.49 496.4,229.44 496.91,228.41 497.41,227.38 497.91,226.37 498.41,225.38 498.91,224.39 499.41,223.42 499.91,222.47 500.41,221.52 500.91,220.59 501.41,219.67 501.91,218.77 502.41,217.87 502.91,216.99 503.41,216.13 503.91,215.27 504.41,214.43 504.91,213.59 505.41,212.77 505.91,211.97 506.42,211.17 506.92,210.39 507.42,209.61 507.92,208.85 508.42,208.1 508.92,207.36 509.42,206.64 509.92,205.92 510.42,205.22 510.92,204.52 511.42,203.84 511.92,203.16 512.42,202.5 512.92,201.85 513.42,201.21 513.92,200.58 514.42,199.96 514.92,199.35 515.43,198.75 515.93,198.16 516.43,197.57 516.93,197 517.43,196.44 517.93,195.89 518.43,195.35 518.93,194.81 519.43,194.29 519.93,193.77 520.43,193.27 520.93,192.77 521.43,192.28 521.93,191.8 522.43,191.33 522.93,190.87 523.43,190.41 523.93,189.97 524.43,189.53 524.94,189.1 525.44,188.68 525.94,188.27 526.44,187.86 526.94,187.46 527.44,187.07 527.94,186.69 528.44,186.31 528.94,185.95 529.44,185.58 529.94,185.23 530.44,184.88 530.94,184.54 531.44,184.21 531.94,183.89 532.44,183.57 532.94,183.25 533.44,182.95 533.94,182.65 534.45,182.35 534.95,182.06 535.45,181.78 535.95,181.51 536.45,181.24 536.95,180.97 537.45,180.71 537.95,180.46 538.45,180.21 538.95,179.97 539.45,179.73 539.95,179.5 540.45,179.27 540.95,179.05 541.45,178.83 541.95,178.62 542.45,178.41 542.95,178.21 543.46,178.01 543.96,177.82 544.46,177.63 544.96,177.44 545.46,177.26 545.96,177.08 546.46,176.9 546.96,176.73 547.46,176.57 547.96,176.4 548.46,176.24 548.96,176.09 549.46,175.93 549.96,175.78 550.46,175.64 550.96,175.49 551.46,175.35 551.96,175.21 552.46,175.08 552.97,174.94 553.47,174.81 553.97,174.69 554.47,174.56 554.97,174.43 555.47,174.31 555.97,174.19 556.47,174.07 556.97,173.96 557.47,173.84 557.97,173.73 558.47,173.62 558.97,173.51 559.47,173.4 559.97,173.29 560.47,173.19 560.97,173.08 561.47,172.98 561.97,172.87 562.48,172.77 562.98,172.67 563.48,172.57 563.98,172.47 564.48,172.37 564.98,172.28 565.48,172.18 565.98,172.09 566.48,172 566.98,171.91 567.48,171.81 567.98,171.73 568.48,171.64 568.98,171.55 569.48,171.46 569.98,171.38 570.48,171.29 570.98,171.21 571.49,171.13 571.99,171.05 572.49,170.97 572.99,170.89 573.49,170.81 573.99,170.74 574.49,170.66 574.99,170.59 575.49,170.51 575.99,170.44 576.49,170.37 576.99,170.3 577.49,170.23 577.99,170.16 578.49,170.09 578.99,170.03 579.49,169.96 579.99,169.9 580.49,169.83 581,169.77 581.5,169.71 582,169.65 582.5,169.59 583,169.53 583.5,169.47 584,169.41 584.5,169.36 585,169.3 585.5,169.25 586,169.2 586.5,169.14 587,169.09 587.5,169.04 588,168.99 588.5,168.94 589,168.89 589.5,168.85 590.01,168.8 590.51,168.75 591.01,168.71 591.51,168.66 592.01,168.62 592.51,168.58 593.01,168.54 593.51,168.5 594.01,168.46 594.51,168.42 595.01,168.38 595.51,168.34 596.01,168.3 596.51,168.27 597.01,168.23 597.51,168.2 598.01,168.16 598.51,168.13 599.01,168.1 599.52,168.07 600.02,168.04 600.52,168.01 601.02,167.98 601.52,167.95 602.02,167.92 602.52,167.89 603.02,167.87 603.52,167.84 604.02,167.82 604.52,167.79 605.02,167.77 605.52,167.74 606.02,167.72 606.52,167.7 607.02,167.68 607.52,167.66 608.02,167.64 608.52,167.62 609.03,167.6 609.53,167.58 610.03,167.56 610.53,167.55 611.03,167.53 611.53,167.51 612.03,167.5 612.53,167.49 613.03,167.47 613.53,167.46 614.03,167.44 614.53,167.43 615.03,167.42 615.53,167.41 616.03,167.4 616.53,167.39 617.03,167.38 617.53,167.37 618.04,167.36 618.54,167.35 619.04,167.35 619.54,167.34 620.04,167.33 620.54,167.33 621.04,167.32 621.54,167.32 622.04,167.31 622.54,167.31 623.04,167.3 623.54,167.3 624.04,167.3 624.54,167.29 625.04,167.29 625.54,167.29 626.04,167.29 626.54,167.29 627.04,167.29 627.55,167.29 628.05,167.29 628.55,167.29 629.05,167.29 629.55,167.29 630.05,167.29 630.55,167.3 631.05,167.3 631.55,167.3 632.05,167.31 632.55,167.31 633.05,167.31 633.55,167.32 634.05,167.32 634.55,167.33 635.05,167.33 635.55,167.34 636.05,167.34 636.55,167.35 637.06,167.36 637.56,167.36 638.06,167.37 638.56,167.38 639.06,167.39 639.56,167.39 640.06,167.4 640.56,167.41 641.06,167.42 641.56,167.43 642.06,167.44 642.56,167.45 643.06,167.46 643.56,167.47 644.06,167.48 644.56,167.49 645.06,167.5 645.56,167.51 646.07,167.52 646.57,167.53 647.07,167.54 647.57,167.55 648.07,167.56 648.57,167.57 649.07,167.59 649.57,167.6 650.07,167.61 650.57,167.62 651.07,167.63 651.57,167.65 652.07,167.66 652.57,167.67 653.07,167.68 653.57,167.7 654.07,167.71 654.57,167.72 655.07,167.74 655.58,167.75 656.08,167.76 656.58,167.77 657.08,167.79 657.58,167.8 658.08,167.81 658.58,167.83 659.08,167.84 659.58,167.85 660.08,167.87 660.58,167.88 661.08,167.89 661.58,167.91 662.08,167.92 662.58,167.94 663.08,167.95 663.58,167.96 664.08,167.98 664.58,167.99 665.09,168 665.59,168.02 666.09,168.03 666.59,168.04 667.09,168.05 667.59,168.07 668.09,168.08 668.59,168.09 669.09,168.11 669.59,168.12 670.09,168.13 670.59,168.14 671.09,168.16 671.59,168.17 672.09,168.18 672.59,168.19 673.09,168.2 673.59,168.21 674.1,168.23 674.6,168.24 675.1,168.25 675.6,168.26 676.1,168.27 676.6,168.28 677.1,168.29 677.6,168.3 678.1,168.31 678.6,168.32" fill="none" stroke="#9a8a1c" stroke-width="1.25" clip-path="url(#cp_b2)" stroke-linejoin="round"/>
<polyline points="398.8,224.13 399.3,224.92 399.8,225.69 400.3,226.44 400.8,227.16 401.3,227.85 401.8,228.53 402.3,229.18 402.8,229.81 403.3,230.42 403.81,231.01 404.31,231.58 404.81,232.13 405.31,232.66 405.81,233.18 406.31,233.68 406.81,234.16 407.31,234.63 407.81,235.08 408.31,235.52 408.81,235.95 409.31,236.37 409.81,236.77 410.31,237.16 410.81,237.55 411.31,237.92 411.81,238.28 412.31,238.64 412.82,238.99 413.32,239.33 413.82,239.67 414.32,240 414.82,240.33 415.32,240.65 415.82,240.97 416.32,241.29 416.82,241.61 417.32,241.92 417.82,242.24 418.32,242.56 418.82,242.87 419.32,243.19 419.82,243.52 420.32,243.84 420.82,244.17 421.32,244.51 421.82,244.85 422.33,245.19 422.83,245.55 423.33,245.91 423.83,246.27 424.33,246.65 424.83,247.04 425.33,247.43 425.83,247.84 426.33,248.25 426.83,248.66 427.33,249.09 427.83,249.52 428.33,249.96 428.83,250.4 429.33,250.85 429.83,251.31 430.33,251.77 430.83,252.24 431.33,252.71 431.84,253.19 432.34,253.67 432.84,254.16 433.34,254.65 433.84,255.15 434.34,255.65 434.84,256.15 435.34,256.66 435.84,257.17 436.34,257.68 436.84,258.19 437.34,258.71 437.84,259.23 438.34,259.75 438.84,260.27 439.34,260.79 439.84,261.31 440.34,261.82 440.85,262.32 441.35,262.81 441.85,263.29 442.35,263.76 442.85,264.21 443.35,264.65 443.85,265.07 444.35,265.46 444.85,265.83 445.35,266.18 445.85,266.5 446.35,266.79 446.85,267.05 447.35,267.28 447.85,267.47 448.35,267.63 448.85,267.75 449.35,267.83 449.85,267.87 450.36,267.88 450.86,267.84 451.36,267.78 451.86,267.67 452.36,267.54 452.86,267.37 453.36,267.17 453.86,266.93 454.36,266.66 454.86,266.37 455.36,266.04 455.86,265.69 456.36,265.3 456.86,264.89 457.36,264.45 457.86,263.99 458.36,263.49 458.86,262.98 459.36,262.44 459.87,261.88 460.37,261.29 460.87,260.68 461.37,260.05 461.87,259.4 462.37,258.73 462.87,258.04 463.37,257.34 463.87,256.61 464.37,255.87 464.87,255.11 465.37,254.34 465.87,253.55 466.37,252.75 466.87,251.93 467.37,251.11 467.87,250.27 468.37,249.41 468.88,248.55 469.38,247.68 469.88,246.8 470.38,245.91 470.88,245.02 471.38,244.11 471.88,243.2 472.38,242.29 472.88,241.37 473.38,240.45 473.88,239.52 474.38,238.59 474.88,237.66 475.38,236.73 475.88,235.79 476.38,234.86 476.88,233.93 477.38,233 477.88,232.08 478.39,231.15 478.89,230.23 479.39,229.32 479.89,228.41 480.39,227.5 480.89,226.61 481.39,225.72 481.89,224.84 482.39,223.97 482.89,223.1 483.39,222.25 483.89,221.41 484.39,220.58 484.89,219.77 485.39,218.97 485.89,218.18 486.39,217.4 486.89,216.64 487.39,215.89 487.9,215.15 488.4,214.42 488.9,213.71 489.4,213.01 489.9,212.33 490.4,211.65 490.9,210.99 491.4,210.34 491.9,209.7 492.4,209.07 492.9,208.45 493.4,207.85 493.9,207.25 494.4,206.67 494.9,206.1 495.4,205.54 495.9,204.99 496.4,204.45 496.91,203.92 497.41,203.4 497.91,202.89 498.41,202.39 498.91,201.91 499.41,201.43 499.91,200.96 500.41,200.5 500.91,200.05 501.41,199.61 501.91,199.17 502.41,198.75 502.91,198.34 503.41,197.93 503.91,197.53 504.41,197.15 504.91,196.77 505.41,196.39 505.91,196.03 506.42,195.67 506.92,195.32 507.42,194.98 507.92,194.65 508.42,194.33 508.92,194.01 509.42,193.7 509.92,193.39 510.42,193.09 510.92,192.8 511.42,192.52 511.92,192.24 512.42,191.97 512.92,191.7 513.42,191.44 513.92,191.19 514.42,190.94 514.92,190.7 515.43,190.47 515.93,190.23 516.43,190.01 516.93,189.79 517.43,189.57 517.93,189.36 518.43,189.16 518.93,188.96 519.43,188.76 519.93,188.57 520.43,188.38 520.93,188.2 521.43,188.03 521.93,187.85 522.43,187.68 522.93,187.52 523.43,187.36 523.93,187.2 524.43,187.05 524.94,186.9 525.44,186.75 525.94,186.61 526.44,186.48 526.94,186.34 527.44,186.21 527.94,186.08 528.44,185.96 528.94,185.83 529.44,185.72 529.94,185.6 530.44,185.49 530.94,185.38 531.44,185.27 531.94,185.16 532.44,185.06 532.94,184.96 533.44,184.86 533.94,184.77 534.45,184.67 534.95,184.58 535.45,184.49 535.95,184.4 536.45,184.32 536.95,184.23 537.45,184.15 537.95,184.07 538.45,183.98 538.95,183.91 539.45,183.83 539.95,183.75 540.45,183.67 540.95,183.6 541.45,183.53 541.95,183.45 542.45,183.38 542.95,183.31 543.46,183.24 543.96,183.17 544.46,183.1 544.96,183.03 545.46,182.96 545.96,182.9 546.46,182.83 546.96,182.77 547.46,182.7 547.96,182.64 548.46,182.57 548.96,182.51 549.46,182.45 549.96,182.39 550.46,182.33 550.96,182.27 551.46,182.21 551.96,182.16 552.46,182.1 552.97,182.05 553.47,181.99 553.97,181.94 554.47,181.88 554.97,181.83 555.47,181.78 555.97,181.73 556.47,181.68 556.97,181.63 557.47,181.58 557.97,181.53 558.47,181.48 558.97,181.43 559.47,181.39 559.97,181.34 560.47,181.3 560.97,181.25 561.47,181.21 561.97,181.17 562.48,181.12 562.98,181.08 563.48,181.04 563.98,181 564.48,180.96 564.98,180.92 565.48,180.88 565.98,180.85 566.48,180.81 566.98,180.77 567.48,180.74 567.98,180.7 568.48,180.67 568.98,180.63 569.48,180.6 569.98,180.57 570.48,180.54 570.98,180.51 571.49,180.47 571.99,180.44 572.49,180.41 572.99,180.39 573.49,180.36 573.99,180.33 574.49,180.3 574.99,180.27 575.49,180.25 575.99,180.22 576.49,180.2 576.99,180.17 577.49,180.15 577.99,180.13 578.49,180.1 578.99,180.08 579.49,180.06 579.99,180.04 580.49,180.02 581,180 581.5,179.98 582,179.96 582.5,179.94 583,179.92 583.5,179.9 584,179.88 584.5,179.87 585,179.85 585.5,179.84 586,179.82 586.5,179.81 587,179.79 587.5,179.78 588,179.76 588.5,179.75 589,179.74 589.5,179.73 590.01,179.71 590.51,179.7 591.01,179.69 591.51,179.68 592.01,179.67 592.51,179.66 593.01,179.65 593.51,179.64 594.01,179.63 594.51,179.63 595.01,179.62 595.51,179.61 596.01,179.6 596.51,179.6 597.01,179.59 597.51,179.59 598.01,179.58 598.51,179.58 599.01,179.57 599.52,179.57 600.02,179.56 600.52,179.56 601.02,179.56 601.52,179.55 602.02,179.55 602.52,179.55 603.02,179.55 603.52,179.55 604.02,179.54 604.52,179.54 605.02,179.54 605.52,179.54 606.02,179.54 606.52,179.54 607.02,179.54 607.52,179.54 608.02,179.55 608.52,179.55 609.03,179.55 609.53,179.55 610.03,179.55 610.53,179.56 611.03,179.56 611.53,179.56 612.03,179.57 612.53,179.57 613.03,179.57 613.53,179.58 614.03,179.58 614.53,179.59 615.03,179.59 615.53,179.6 616.03,179.6 616.53,179.61 617.03,179.61 617.53,179.62 618.04,179.62 618.54,179.63 619.04,179.64 619.54,179.64 620.04,179.65 620.54,179.66 621.04,179.66 621.54,179.67 622.04,179.68 622.54,179.69 623.04,179.69 623.54,179.7 624.04,179.71 624.54,179.72 625.04,179.73 625.54,179.73 626.04,179.74 626.54,179.75 627.04,179.76 627.55,179.77 628.05,179.78 628.55,179.79 629.05,179.8 629.55,179.81 630.05,179.82 630.55,179.83 631.05,179.84 631.55,179.85 632.05,179.86 632.55,179.87 633.05,179.88 633.55,179.89 634.05,179.9 634.55,179.91 635.05,179.92 635.55,179.93 636.05,179.94 636.55,179.95 637.06,179.96 637.56,179.97 638.06,179.98 638.56,179.99 639.06,180 639.56,180.01 640.06,180.02 640.56,180.03 641.06,180.04 641.56,180.05 642.06,180.06 642.56,180.08 643.06,180.09 643.56,180.1 644.06,180.11 644.56,180.12 645.06,180.13 645.56,180.14 646.07,180.15 646.57,180.16 647.07,180.17 647.57,180.18 648.07,180.19 648.57,180.2 649.07,180.21 649.57,180.22 650.07,180.23 650.57,180.24 651.07,180.25 651.57,180.26 652.07,180.27 652.57,180.28 653.07,180.29 653.57,180.3 654.07,180.31 654.57,180.32 655.07,180.33 655.58,180.34 656.08,180.34 656.58,180.35 657.08,180.36 657.58,180.37 658.08,180.38 658.58,180.39 659.08,180.39 659.58,180.4 660.08,180.41 660.58,180.42 661.08,180.43 661.58,180.43 662.08,180.44 662.58,180.45 663.08,180.45 663.58,180.46 664.08,180.47 664.58,180.47 665.09,180.48 665.59,180.48 666.09,180.49 666.59,180.49 667.09,180.5 667.59,180.5 668.09,180.51 668.59,180.51 669.09,180.52 669.59,180.52 670.09,180.52 670.59,180.53 671.09,180.53 671.59,180.53 672.09,180.54 672.59,180.54 673.09,180.54 673.59,180.54 674.1,180.55 674.6,180.55 675.1,180.55 675.6,180.55 676.1,180.55 676.6,180.55 677.1,180.55 677.6,180.55 678.1,180.55 678.6,180.55" fill="none" stroke="#0f8b0f" stroke-width="1.75" stroke-dasharray="5.8 6.8" clip-path="url(#cp_b2)" stroke-linejoin="round"/>
<polyline points="398.8,223.53 399.3,224.35 399.8,225.15 400.3,225.94 400.8,226.72 401.3,227.48 401.8,228.22 402.3,228.96 402.8,229.68 403.3,230.39 403.81,231.08 404.31,231.77 404.81,232.44 405.31,233.1 405.81,233.75 406.31,234.39 406.81,235.02 407.31,235.64 407.81,236.25 408.31,236.85 408.81,237.44 409.31,238.02 409.81,238.6 410.31,239.16 410.81,239.72 411.31,240.28 411.81,240.82 412.31,241.36 412.82,241.89 413.32,242.42 413.82,242.94 414.32,243.45 414.82,243.97 415.32,244.47 415.82,244.97 416.32,245.47 416.82,245.97 417.32,246.46 417.82,246.95 418.32,247.43 418.82,247.91 419.32,248.4 419.82,248.88 420.32,249.35 420.82,249.83 421.32,250.31 421.82,250.79 422.33,251.26 422.83,251.74 423.33,252.22 423.83,252.7 424.33,253.18 424.83,253.66 425.33,254.13 425.83,254.61 426.33,255.07 426.83,255.53 427.33,255.97 427.83,256.41 428.33,256.83 428.83,257.24 429.33,257.63 429.83,258.01 430.33,258.36 430.83,258.69 431.33,259 431.84,259.29 432.34,259.55 432.84,259.77 433.34,259.97 433.84,260.14 434.34,260.28 434.84,260.38 435.34,260.44 435.84,260.46 436.34,260.45 436.84,260.39 437.34,260.29 437.84,260.14 438.34,259.95 438.84,259.71 439.34,259.43 439.84,259.11 440.34,258.75 440.85,258.35 441.35,257.93 441.85,257.47 442.35,256.99 442.85,256.48 443.35,255.94 443.85,255.39 444.35,254.82 444.85,254.23 445.35,253.63 445.85,253.02 446.35,252.39 446.85,251.76 447.35,251.11 447.85,250.46 448.35,249.79 448.85,249.12 449.35,248.44 449.85,247.75 450.36,247.05 450.86,246.34 451.36,245.63 451.86,244.91 452.36,244.19 452.86,243.46 453.36,242.73 453.86,241.99 454.36,241.25 454.86,240.51 455.36,239.77 455.86,239.02 456.36,238.27 456.86,237.52 457.36,236.77 457.86,236.02 458.36,235.27 458.86,234.53 459.36,233.78 459.87,233.04 460.37,232.3 460.87,231.56 461.37,230.82 461.87,230.09 462.37,229.36 462.87,228.64 463.37,227.92 463.87,227.2 464.37,226.49 464.87,225.78 465.37,225.08 465.87,224.38 466.37,223.69 466.87,223 467.37,222.32 467.87,221.65 468.37,220.98 468.88,220.32 469.38,219.67 469.88,219.02 470.38,218.38 470.88,217.75 471.38,217.12 471.88,216.51 472.38,215.9 472.88,215.3 473.38,214.71 473.88,214.13 474.38,213.56 474.88,213 475.38,212.45 475.88,211.91 476.38,211.37 476.88,210.85 477.38,210.34 477.88,209.84 478.39,209.35 478.89,208.88 479.39,208.41 479.89,207.95 480.39,207.5 480.89,207.06 481.39,206.63 481.89,206.21 482.39,205.8 482.89,205.39 483.39,205 483.89,204.62 484.39,204.24 484.89,203.87 485.39,203.52 485.89,203.17 486.39,202.82 486.89,202.49 487.39,202.17 487.9,201.85 488.4,201.54 488.9,201.24 489.4,200.94 489.9,200.66 490.4,200.38 490.9,200.1 491.4,199.84 491.9,199.58 492.4,199.33 492.9,199.08 493.4,198.84 493.9,198.61 494.4,198.38 494.9,198.17 495.4,197.95 495.9,197.74 496.4,197.54 496.91,197.34 497.41,197.15 497.91,196.97 498.41,196.79 498.91,196.61 499.41,196.44 499.91,196.28 500.41,196.11 500.91,195.96 501.41,195.81 501.91,195.66 502.41,195.52 502.91,195.38 503.41,195.24 503.91,195.11 504.41,194.98 504.91,194.86 505.41,194.74 505.91,194.62 506.42,194.51 506.92,194.4 507.42,194.29 507.92,194.19 508.42,194.08 508.92,193.99 509.42,193.89 509.92,193.8 510.42,193.71 510.92,193.62 511.42,193.54 511.92,193.46 512.42,193.38 512.92,193.3 513.42,193.22 513.92,193.15 514.42,193.08 514.92,193.01 515.43,192.95 515.93,192.88 516.43,192.82 516.93,192.76 517.43,192.7 517.93,192.65 518.43,192.59 518.93,192.54 519.43,192.49 519.93,192.43 520.43,192.39 520.93,192.34 521.43,192.29 521.93,192.25 522.43,192.2 522.93,192.16 523.43,192.12 523.93,192.07 524.43,192.03 524.94,191.99 525.44,191.95 525.94,191.92 526.44,191.88 526.94,191.84 527.44,191.8 527.94,191.77 528.44,191.73 528.94,191.69 529.44,191.66 529.94,191.62 530.44,191.59 530.94,191.55 531.44,191.52 531.94,191.49 532.44,191.45 532.94,191.42 533.44,191.39 533.94,191.36 534.45,191.33 534.95,191.3 535.45,191.27 535.95,191.24 536.45,191.21 536.95,191.18 537.45,191.15 537.95,191.12 538.45,191.09 538.95,191.07 539.45,191.04 539.95,191.01 540.45,190.99 540.95,190.96 541.45,190.94 541.95,190.91 542.45,190.89 542.95,190.86 543.46,190.84 543.96,190.82 544.46,190.79 544.96,190.77 545.46,190.75 545.96,190.73 546.46,190.7 546.96,190.68 547.46,190.66 547.96,190.64 548.46,190.62 548.96,190.6 549.46,190.58 549.96,190.56 550.46,190.55 550.96,190.53 551.46,190.51 551.96,190.49 552.46,190.48 552.97,190.46 553.47,190.44 553.97,190.43 554.47,190.41 554.97,190.39 555.47,190.38 555.97,190.36 556.47,190.35 556.97,190.34 557.47,190.32 557.97,190.31 558.47,190.3 558.97,190.28 559.47,190.27 559.97,190.26 560.47,190.25 560.97,190.23 561.47,190.22 561.97,190.21 562.48,190.2 562.98,190.19 563.48,190.18 563.98,190.17 564.48,190.16 564.98,190.15 565.48,190.14 565.98,190.13 566.48,190.12 566.98,190.12 567.48,190.11 567.98,190.1 568.48,190.09 568.98,190.09 569.48,190.08 569.98,190.07 570.48,190.07 570.98,190.06 571.49,190.06 571.99,190.05 572.49,190.04 572.99,190.04 573.49,190.03 573.99,190.03 574.49,190.03 574.99,190.02 575.49,190.02 575.99,190.01 576.49,190.01 576.99,190.01 577.49,190.01 577.99,190 578.49,190 578.99,190 579.49,190 579.99,189.99 580.49,189.99 581,189.99 581.5,189.99 582,189.99 582.5,189.99 583,189.99 583.5,189.99 584,189.99 584.5,189.99 585,189.99 585.5,189.99 586,189.99 586.5,189.99 587,189.99 587.5,189.99 588,190 588.5,190 589,190 589.5,190 590.01,190 590.51,190.01 591.01,190.01 591.51,190.01 592.01,190.01 592.51,190.02 593.01,190.02 593.51,190.02 594.01,190.03 594.51,190.03 595.01,190.03 595.51,190.04 596.01,190.04 596.51,190.05 597.01,190.05 597.51,190.06 598.01,190.06 598.51,190.07 599.01,190.07 599.52,190.08 600.02,190.08 600.52,190.09 601.02,190.09 601.52,190.1 602.02,190.1 602.52,190.11 603.02,190.11 603.52,190.12 604.02,190.13 604.52,190.13 605.02,190.14 605.52,190.15 606.02,190.15 606.52,190.16 607.02,190.17 607.52,190.17 608.02,190.18 608.52,190.19 609.03,190.19 609.53,190.2 610.03,190.21 610.53,190.22 611.03,190.22 611.53,190.23 612.03,190.24 612.53,190.25 613.03,190.25 613.53,190.26 614.03,190.27 614.53,190.28 615.03,190.29 615.53,190.29 616.03,190.3 616.53,190.31 617.03,190.32 617.53,190.33 618.04,190.33 618.54,190.34 619.04,190.35 619.54,190.36 620.04,190.37 620.54,190.38 621.04,190.39 621.54,190.39 622.04,190.4 622.54,190.41 623.04,190.42 623.54,190.43 624.04,190.44 624.54,190.45 625.04,190.46 625.54,190.46 626.04,190.47 626.54,190.48 627.04,190.49 627.55,190.5 628.05,190.51 628.55,190.52 629.05,190.53 629.55,190.53 630.05,190.54 630.55,190.55 631.05,190.56 631.55,190.57 632.05,190.58 632.55,190.59 633.05,190.6 633.55,190.6 634.05,190.61 634.55,190.62 635.05,190.63 635.55,190.64 636.05,190.65 636.55,190.66 637.06,190.66 637.56,190.67 638.06,190.68 638.56,190.69 639.06,190.7 639.56,190.71 640.06,190.71 640.56,190.72 641.06,190.73 641.56,190.74 642.06,190.75 642.56,190.75 643.06,190.76 643.56,190.77 644.06,190.78 644.56,190.78 645.06,190.79 645.56,190.8 646.07,190.81 646.57,190.81 647.07,190.82 647.57,190.83 648.07,190.84 648.57,190.84 649.07,190.85 649.57,190.86 650.07,190.86 650.57,190.87 651.07,190.88 651.57,190.88 652.07,190.89 652.57,190.89 653.07,190.9 653.57,190.91 654.07,190.91 654.57,190.92 655.07,190.92 655.58,190.93 656.08,190.93 656.58,190.94 657.08,190.94 657.58,190.95 658.08,190.95 658.58,190.96 659.08,190.96 659.58,190.97 660.08,190.97 660.58,190.97 661.08,190.98 661.58,190.98 662.08,190.99 662.58,190.99 663.08,190.99 663.58,191 664.08,191 664.58,191 665.09,191 665.59,191.01 666.09,191.01 666.59,191.01 667.09,191.01 667.59,191.01 668.09,191.02 668.59,191.02 669.09,191.02 669.59,191.02 670.09,191.02 670.59,191.02 671.09,191.02 671.59,191.02 672.09,191.02 672.59,191.02 673.09,191.02 673.59,191.02 674.1,191.02 674.6,191.02 675.1,191.02 675.6,191.02 676.1,191.01 676.6,191.01 677.1,191.01 677.6,191.01 678.1,191.01 678.6,191" fill="none" stroke="#7f08ff" stroke-width="1.75" stroke-dasharray="7 3.8 1.5 3.8" clip-path="url(#cp_b2)" stroke-linejoin="round"/>
<path d="M398.6 334.5H678.5V459.9H398.6ZM426.59 334.5v1.6M678.5 347.04h-1.6M454.58 334.5v2.9M678.5 359.58h-2.9M482.57 334.5v1.6M678.5 372.12h-1.6M510.56 334.5v2.9M678.5 384.66h-2.9M538.55 334.5v1.6M678.5 397.2h-1.6M566.54 334.5v2.9M678.5 409.74h-2.9M594.53 334.5v1.6M678.5 422.28h-1.6M622.52 334.5v2.9M678.5 434.82h-2.9M650.51 334.5v1.6M678.5 447.36h-1.6M433.86 459.9v-1.6M468.82 459.9v-2.9M503.79 459.9v-1.6M538.75 459.9v-2.9M573.71 459.9v-1.6M608.67 459.9v-2.9M643.64 459.9v-1.6M398.6 337.75h1.6M398.6 353h2.9M398.6 368.25h1.6M398.6 383.5h2.9M398.6 398.75h1.6M398.6 414h2.9M398.6 429.25h1.6M398.6 444.5h2.9" fill="none" stroke="#2b2b2b" stroke-width="1"/>
<text x="395.1" y="356.8" font-size="11" text-anchor="end" >0</text>
<text x="395.1" y="387.3" font-size="11" text-anchor="end" >-10</text>
<text x="395.1" y="417.8" font-size="11" text-anchor="end" >-20</text>
<text x="395.1" y="448.3" font-size="11" text-anchor="end" >-30</text>
<text x="398.9" y="472.2" font-size="11" text-anchor="middle" >0.0</text>
<text x="468.82" y="472.2" font-size="11" text-anchor="middle" >0.5</text>
<text x="538.75" y="472.2" font-size="11" text-anchor="middle" >1.0</text>
<text x="608.67" y="472.2" font-size="11" text-anchor="middle" >1.5</text>
<text x="678.6" y="472.2" font-size="11" text-anchor="middle" >2.0</text>
<text transform="translate(371.6 393.4) rotate(-90)" font-size="15.5" text-anchor="middle">n<tspan font-size="12.4" dy="5.12">g</tspan><tspan dy="-5.12"> (arb. units)</tspan></text>
<text x="401.6" y="455" font-size="15.2" text-anchor="start" >(c)</text>
<text x="538.4" y="491.2" font-size="18" text-anchor="middle" >θ/π</text>
<polyline points="398.6,340.42 399,340.41 399.4,340.42 399.8,340.44 400.2,340.45 400.6,340.46 401,340.48 401.4,340.49 401.8,340.51 402.21,340.52 402.61,340.54 403.01,340.56 403.41,340.57 403.81,340.59 404.21,340.61 404.61,340.63 405.01,340.65 405.41,340.67 405.81,340.69 406.21,340.71 406.61,340.74 407.01,340.76 407.41,340.79 407.81,340.82 408.21,340.85 408.61,340.88 409.01,340.91 409.42,340.94 409.82,340.98 410.22,341.01 410.62,341.05 411.02,341.09 411.42,341.13 411.82,341.18 412.22,341.22 412.62,341.27 413.02,341.32 413.42,341.37 413.82,341.42 414.22,341.48 414.62,341.54 415.02,341.6 415.42,341.66 415.82,341.72 416.23,341.79 416.63,341.86 417.03,341.94 417.43,342.01 417.83,342.09 418.23,342.17 418.63,342.25 419.03,342.34 419.43,342.43 419.83,342.52 420.23,342.62 420.63,342.72 421.03,342.82 421.43,342.93 421.83,343.04 422.23,343.16 422.63,343.28 423.03,343.4 423.44,343.53 423.84,343.67 424.24,343.81 424.64,343.96 425.04,344.11 425.44,344.27 425.84,344.43 426.24,344.61 426.64,344.78 427.04,344.97 427.44,345.16 427.84,345.37 428.24,345.57 428.64,345.79 429.04,346.02 429.44,346.25 429.84,346.49 430.25,346.75 430.65,347.01 431.05,347.28 431.45,347.56 431.85,347.85 432.25,348.15 432.65,348.46 433.05,348.78 433.45,349.11 433.85,349.46 434.25,349.81 434.65,350.18 435.05,350.55 435.45,350.94 435.85,351.35 436.25,351.76 436.65,352.19 437.05,352.63 437.46,353.08 437.86,353.55 438.26,354.03 438.66,354.52 439.06,355.03 439.46,355.55 439.86,356.09 440.26,356.64 440.66,357.21 441.06,357.79 441.46,358.39 441.86,359 442.26,359.63 442.66,360.28 443.06,360.94 443.46,361.62 443.86,362.31 444.27,363.03 444.67,363.76 445.07,364.5 445.47,365.27 445.87,366.05 446.27,366.85 446.67,367.67 447.07,368.51 447.47,369.37 447.87,370.24 448.27,371.14 448.67,372.05 449.07,372.99 449.47,373.94 449.87,374.9 450.27,375.88 450.67,376.87 451.07,377.88 451.48,378.89 451.88,379.92 452.28,380.95 452.68,381.99 453.08,383.03 453.48,384.09 453.88,385.14 454.28,386.2 454.68,387.26 455.08,388.31 455.48,389.37 455.88,390.43 456.28,391.48 456.68,392.53 457.08,393.57 457.48,394.6 457.88,395.63 458.29,396.65 458.69,397.66 459.09,398.65 459.49,399.64 459.89,400.6 460.29,401.56 460.69,402.5 461.09,403.42 461.49,404.31 461.89,405.19 462.29,406.04 462.69,406.86 463.09,407.64 463.49,408.38 463.89,409.08 464.29,409.73 464.69,410.33 465.09,410.88 465.5,411.37 465.9,411.79 466.3,412.15 466.7,412.45 467.1,412.68 467.5,412.86 467.9,412.97 468.3,413.03 468.7,413.03 469.1,413.03 469.5,413.01 469.9,412.94 470.3,412.8 470.7,412.6 471.1,412.34 471.5,412.02 471.9,411.64 472.31,411.19 472.71,410.68 473.11,410.11 473.51,409.49 473.91,408.82 474.31,408.1 474.71,407.35 475.11,406.55 475.51,405.72 475.91,404.86 476.31,403.98 476.71,403.07 477.11,402.14 477.51,401.2 477.91,400.24 478.31,399.27 478.71,398.28 479.12,397.28 479.52,396.27 479.92,395.25 480.32,394.22 480.72,393.18 481.12,392.13 481.52,391.08 481.92,390.03 482.32,388.97 482.72,387.92 483.12,386.86 483.52,385.8 483.92,384.74 484.32,383.69 484.72,382.64 485.12,381.6 485.52,380.56 485.92,379.53 486.33,378.51 486.73,377.5 487.13,376.5 487.53,375.51 487.93,374.54 488.33,373.58 488.73,372.63 489.13,371.71 489.53,370.8 489.93,369.91 490.33,369.04 490.73,368.19 491.13,367.36 491.53,366.55 491.93,365.75 492.33,364.98 492.73,364.22 493.14,363.48 493.54,362.76 493.94,362.05 494.34,361.36 494.74,360.69 495.14,360.03 495.54,359.39 495.94,358.77 496.34,358.16 496.74,357.57 497.14,357 497.54,356.43 497.94,355.89 498.34,355.36 498.74,354.84 499.14,354.34 499.54,353.85 499.94,353.37 500.35,352.91 500.75,352.46 501.15,352.03 501.55,351.6 501.95,351.19 502.35,350.8 502.75,350.41 503.15,350.04 503.55,349.68 503.95,349.33 504.35,348.99 504.75,348.66 505.15,348.34 505.55,348.03 505.95,347.74 506.35,347.45 506.75,347.18 507.16,346.91 507.56,346.65 507.96,346.4 508.36,346.16 508.76,345.93 509.16,345.71 509.56,345.5 509.96,345.29 510.36,345.09 510.76,344.9 511.16,344.72 511.56,344.54 511.96,344.37 512.36,344.21 512.76,344.05 513.16,343.9 513.56,343.75 513.96,343.62 514.37,343.48 514.77,343.35 515.17,343.23 515.57,343.11 515.97,343 516.37,342.89 516.77,342.78 517.17,342.68 517.57,342.58 517.97,342.49 518.37,342.4 518.77,342.31 519.17,342.22 519.57,342.14 519.97,342.06 520.37,341.98 520.77,341.91 521.18,341.84 521.58,341.77 521.98,341.7 522.38,341.64 522.78,341.57 523.18,341.51 523.58,341.46 523.98,341.4 524.38,341.35 524.78,341.3 525.18,341.25 525.58,341.2 525.98,341.16 526.38,341.12 526.78,341.08 527.18,341.04 527.58,341 527.98,340.96 528.39,340.93 528.79,340.9 529.19,340.87 529.59,340.84 529.99,340.81 530.39,340.78 530.79,340.75 531.19,340.73 531.59,340.71 531.99,340.68 532.39,340.66 532.79,340.64 533.19,340.62 533.59,340.6 533.99,340.58 534.39,340.57 534.79,340.55 535.2,340.53 535.6,340.52 536,340.5 536.4,340.49 536.8,340.47 537.2,340.46 537.6,340.44 538,340.43 538.4,340.42 538.8,340.41 539.2,340.42 539.6,340.43 540,340.45 540.4,340.46 540.8,340.48 541.2,340.49 541.6,340.51 542,340.52 542.41,340.54 542.81,340.55 543.21,340.57 543.61,340.59 544.01,340.61 544.41,340.63 544.81,340.65 545.21,340.67 545.61,340.69 546.01,340.71 546.41,340.74 546.81,340.76 547.21,340.79 547.61,340.81 548.01,340.84 548.41,340.87 548.81,340.9 549.22,340.94 549.62,340.97 550.02,341.01 550.42,341.05 550.82,341.09 551.22,341.13 551.62,341.17 552.02,341.22 552.42,341.26 552.82,341.31 553.22,341.36 553.62,341.42 554.02,341.47 554.42,341.53 554.82,341.59 555.22,341.65 555.62,341.72 556.02,341.78 556.43,341.85 556.83,341.93 557.23,342 557.63,342.08 558.03,342.16 558.43,342.24 558.83,342.33 559.23,342.42 559.63,342.51 560.03,342.61 560.43,342.71 560.83,342.81 561.23,342.92 561.63,343.03 562.03,343.14 562.43,343.26 562.83,343.39 563.24,343.52 563.64,343.65 564.04,343.79 564.44,343.94 564.84,344.09 565.24,344.25 565.64,344.41 566.04,344.58 566.44,344.76 566.84,344.95 567.24,345.14 567.64,345.34 568.04,345.55 568.44,345.76 568.84,345.99 569.24,346.22 569.64,346.46 570.04,346.71 570.45,346.97 570.85,347.24 571.25,347.52 571.65,347.81 572.05,348.11 572.45,348.42 572.85,348.74 573.25,349.07 573.65,349.41 574.05,349.77 574.45,350.13 574.85,350.51 575.25,350.9 575.65,351.3 576.05,351.71 576.45,352.13 576.85,352.57 577.26,353.02 577.66,353.49 578.06,353.97 578.46,354.46 578.86,354.97 579.26,355.49 579.66,356.02 580.06,356.57 580.46,357.14 580.86,357.72 581.26,358.31 581.66,358.93 582.06,359.55 582.46,360.2 582.86,360.86 583.26,361.53 583.66,362.23 584.06,362.94 584.47,363.66 584.87,364.41 585.27,365.17 585.67,365.95 586.07,366.75 586.47,367.57 586.87,368.4 587.27,369.26 587.67,370.13 588.07,371.03 588.47,371.94 588.87,372.87 589.27,373.82 589.67,374.78 590.07,375.76 590.47,376.75 590.87,377.75 591.28,378.76 591.68,379.79 592.08,380.82 592.48,381.86 592.88,382.9 593.28,383.95 593.68,385.01 594.08,386.06 594.48,387.12 594.88,388.18 595.28,389.24 595.68,390.3 596.08,391.35 596.48,392.4 596.88,393.44 597.28,394.48 597.68,395.5 598.08,396.52 598.49,397.53 598.89,398.53 599.29,399.51 599.69,400.48 600.09,401.44 600.49,402.38 600.89,403.3 601.29,404.2 601.69,405.08 602.09,405.93 602.49,406.76 602.89,407.54 603.29,408.29 603.69,408.99 604.09,409.65 604.49,410.26 604.89,410.81 605.3,411.31 605.7,411.74 606.1,412.11 606.5,412.42 606.9,412.66 607.3,412.84 607.7,412.96 608.1,413.02 608.5,413.03 608.9,413.03 609.3,413.02 609.7,412.95 610.1,412.82 610.5,412.63 610.9,412.38 611.3,412.07 611.7,411.69 612.11,411.25 612.51,410.75 612.91,410.19 613.31,409.57 613.71,408.91 614.11,408.2 614.51,407.44 614.91,406.65 615.31,405.83 615.71,404.97 616.11,404.09 616.51,403.19 616.91,402.26 617.31,401.32 617.71,400.36 618.11,399.39 618.51,398.4 618.91,397.4 619.32,396.39 619.72,395.37 620.12,394.35 620.52,393.31 620.92,392.27 621.32,391.22 621.72,390.16 622.12,389.11 622.52,388.05 622.92,386.99 623.32,385.93 623.72,384.87 624.12,383.82 624.52,382.77 624.92,381.73 625.32,380.69 625.72,379.66 626.13,378.63 626.53,377.62 626.93,376.62 627.33,375.63 627.73,374.66 628.13,373.7 628.53,372.75 628.93,371.82 629.33,370.91 629.73,370.02 630.13,369.15 630.53,368.3 630.93,367.46 631.33,366.65 631.73,365.85 632.13,365.07 632.53,364.31 632.93,363.57 633.34,362.85 633.74,362.14 634.14,361.45 634.54,360.77 634.94,360.11 635.34,359.47 635.74,358.85 636.14,358.24 636.54,357.65 636.94,357.07 637.34,356.5 637.74,355.96 638.14,355.42 638.54,354.9 638.94,354.4 639.34,353.91 639.74,353.43 640.15,352.97 640.55,352.52 640.95,352.08 641.35,351.66 641.75,351.24 642.15,350.85 642.55,350.46 642.95,350.08 643.35,349.72 643.75,349.37 644.15,349.03 644.55,348.7 644.95,348.38 645.35,348.07 645.75,347.77 646.15,347.49 646.55,347.21 646.95,346.94 647.36,346.68 647.76,346.43 648.16,346.19 648.56,345.96 648.96,345.74 649.36,345.52 649.76,345.31 650.16,345.11 650.56,344.92 650.96,344.74 651.36,344.56 651.76,344.39 652.16,344.23 652.56,344.07 652.96,343.92 653.36,343.77 653.76,343.63 654.17,343.5 654.57,343.37 654.97,343.25 655.37,343.13 655.77,343.01 656.17,342.9 656.57,342.8 656.97,342.69 657.37,342.6 657.77,342.5 658.17,342.41 658.57,342.32 658.97,342.23 659.37,342.15 659.77,342.07 660.17,341.99 660.57,341.92 660.97,341.84 661.38,341.78 661.78,341.71 662.18,341.64 662.58,341.58 662.98,341.52 663.38,341.46 663.78,341.41 664.18,341.36 664.58,341.31 664.98,341.26 665.38,341.21 665.78,341.16 666.18,341.12 666.58,341.08 666.98,341.04 667.38,341 667.78,340.97 668.19,340.93 668.59,340.9 668.99,340.87 669.39,340.84 669.79,340.81 670.19,340.78 670.59,340.76 670.99,340.73 671.39,340.71 671.79,340.69 672.19,340.66 672.59,340.64 672.99,340.62 673.39,340.6 673.79,340.59 674.19,340.57 674.59,340.55 674.99,340.54 675.4,340.52 675.8,340.5 676.2,340.49 676.6,340.47 677,340.46 677.4,340.45 677.8,340.43 678.2,340.42 678.6,340.41" fill="none" stroke="#f7218c" stroke-width="1.35" clip-path="url(#cp_c)" stroke-linejoin="round"/>
<polyline points="398.6,339.31 399,339.31 399.4,339.32 399.8,339.32 400.2,339.33 400.6,339.35 401,339.36 401.4,339.38 401.8,339.4 402.21,339.41 402.61,339.44 403.01,339.46 403.41,339.48 403.81,339.51 404.21,339.54 404.61,339.57 405.01,339.6 405.41,339.63 405.81,339.67 406.21,339.7 406.61,339.74 407.01,339.78 407.41,339.82 407.81,339.86 408.21,339.91 408.61,339.95 409.01,340 409.42,340.05 409.82,340.1 410.22,340.15 410.62,340.2 411.02,340.26 411.42,340.32 411.82,340.37 412.22,340.43 412.62,340.49 413.02,340.56 413.42,340.62 413.82,340.68 414.22,340.75 414.62,340.82 415.02,340.89 415.42,340.96 415.82,341.03 416.23,341.1 416.63,341.18 417.03,341.25 417.43,341.33 417.83,341.41 418.23,341.49 418.63,341.57 419.03,341.65 419.43,341.73 419.83,341.82 420.23,341.91 420.63,341.99 421.03,342.08 421.43,342.18 421.83,342.27 422.23,342.37 422.63,342.47 423.03,342.57 423.44,342.68 423.84,342.79 424.24,342.91 424.64,343.03 425.04,343.15 425.44,343.28 425.84,343.42 426.24,343.56 426.64,343.71 427.04,343.86 427.44,344.02 427.84,344.18 428.24,344.36 428.64,344.54 429.04,344.72 429.44,344.92 429.84,345.12 430.25,345.33 430.65,345.55 431.05,345.78 431.45,346.02 431.85,346.26 432.25,346.52 432.65,346.79 433.05,347.06 433.45,347.35 433.85,347.65 434.25,347.96 434.65,348.28 435.05,348.61 435.45,348.96 435.85,349.32 436.25,349.69 436.65,350.08 437.05,350.48 437.46,350.9 437.86,351.34 438.26,351.79 438.66,352.27 439.06,352.76 439.46,353.27 439.86,353.8 440.26,354.35 440.66,354.93 441.06,355.52 441.46,356.14 441.86,356.78 442.26,357.45 442.66,358.15 443.06,358.87 443.46,359.62 443.86,360.4 444.27,361.22 444.67,362.07 445.07,362.95 445.47,363.87 445.87,364.82 446.27,365.81 446.67,366.85 447.07,367.92 447.47,369.03 447.87,370.19 448.27,371.39 448.67,372.64 449.07,373.93 449.47,375.25 449.87,376.62 450.27,378.01 450.67,379.44 451.07,380.89 451.48,382.37 451.88,383.87 452.28,385.39 452.68,386.93 453.08,388.48 453.48,390.05 453.88,391.62 454.28,393.2 454.68,394.78 455.08,396.36 455.48,397.94 455.88,399.52 456.28,401.09 456.68,402.64 457.08,404.19 457.48,405.72 457.88,407.23 458.29,408.72 458.69,410.19 459.09,411.63 459.49,413.04 459.89,414.42 460.29,415.76 460.69,417.07 461.09,418.33 461.49,419.56 461.89,420.74 462.29,421.87 462.69,422.95 463.09,423.97 463.49,424.94 463.89,425.85 464.29,426.7 464.69,427.49 465.09,428.2 465.5,428.85 465.9,429.43 466.3,429.93 466.7,430.35 467.1,430.69 467.5,430.95 467.9,431.13 468.3,431.23 468.7,431.26 469.1,431.26 469.5,431.2 469.9,431.07 470.3,430.86 470.7,430.57 471.1,430.2 471.5,429.75 471.9,429.22 472.31,428.62 472.71,427.94 473.11,427.2 473.51,426.39 473.91,425.52 474.31,424.58 474.71,423.59 475.11,422.55 475.51,421.45 475.91,420.3 476.31,419.1 476.71,417.86 477.11,416.58 477.51,415.26 477.91,413.9 478.31,412.51 478.71,411.09 479.12,409.64 479.52,408.16 479.92,406.66 480.32,405.14 480.72,403.61 481.12,402.06 481.52,400.5 481.92,398.92 482.32,397.35 482.72,395.77 483.12,394.18 483.52,392.6 483.92,391.03 484.32,389.46 484.72,387.9 485.12,386.35 485.52,384.82 485.92,383.3 486.33,381.81 486.73,380.34 487.13,378.9 487.53,377.48 487.93,376.1 488.33,374.75 488.73,373.44 489.13,372.17 489.53,370.94 489.93,369.75 490.33,368.61 490.73,367.51 491.13,366.45 491.53,365.44 491.93,364.46 492.33,363.52 492.73,362.61 493.14,361.74 493.54,360.91 493.94,360.11 494.34,359.33 494.74,358.59 495.14,357.88 495.54,357.2 495.94,356.54 496.34,355.9 496.74,355.29 497.14,354.71 497.54,354.14 497.94,353.6 498.34,353.07 498.74,352.57 499.14,352.09 499.54,351.62 499.94,351.17 500.35,350.74 500.75,350.33 501.15,349.93 501.55,349.55 501.95,349.18 502.35,348.82 502.75,348.48 503.15,348.16 503.55,347.84 503.95,347.53 504.35,347.24 504.75,346.96 505.15,346.69 505.55,346.42 505.95,346.17 506.35,345.93 506.75,345.69 507.16,345.47 507.56,345.25 507.96,345.04 508.36,344.84 508.76,344.65 509.16,344.47 509.56,344.29 509.96,344.12 510.36,343.96 510.76,343.8 511.16,343.65 511.56,343.51 511.96,343.37 512.36,343.23 512.76,343.11 513.16,342.98 513.56,342.86 513.96,342.75 514.37,342.64 514.77,342.53 515.17,342.43 515.57,342.33 515.97,342.23 516.37,342.14 516.77,342.05 517.17,341.96 517.57,341.87 517.97,341.79 518.37,341.7 518.77,341.62 519.17,341.54 519.57,341.46 519.97,341.38 520.37,341.3 520.77,341.22 521.18,341.15 521.58,341.07 521.98,341 522.38,340.93 522.78,340.86 523.18,340.79 523.58,340.73 523.98,340.66 524.38,340.6 524.78,340.53 525.18,340.47 525.58,340.41 525.98,340.35 526.38,340.29 526.78,340.24 527.18,340.18 527.58,340.13 527.98,340.08 528.39,340.03 528.79,339.98 529.19,339.94 529.59,339.89 529.99,339.85 530.39,339.8 530.79,339.76 531.19,339.73 531.59,339.69 531.99,339.65 532.39,339.62 532.79,339.59 533.19,339.56 533.59,339.53 533.99,339.5 534.39,339.47 534.79,339.45 535.2,339.43 535.6,339.41 536,339.39 536.4,339.37 536.8,339.36 537.2,339.34 537.6,339.33 538,339.32 538.4,339.31 538.8,339.31 539.2,339.31 539.6,339.32 540,339.33 540.4,339.35 540.8,339.36 541.2,339.38 541.6,339.39 542,339.41 542.41,339.43 542.81,339.46 543.21,339.48 543.61,339.51 544.01,339.53 544.41,339.56 544.81,339.59 545.21,339.63 545.61,339.66 546.01,339.7 546.41,339.74 546.81,339.77 547.21,339.82 547.61,339.86 548.01,339.9 548.41,339.95 548.81,339.99 549.22,340.04 549.62,340.09 550.02,340.14 550.42,340.2 550.82,340.25 551.22,340.31 551.62,340.37 552.02,340.43 552.42,340.49 552.82,340.55 553.22,340.61 553.62,340.68 554.02,340.74 554.42,340.81 554.82,340.88 555.22,340.95 555.62,341.02 556.02,341.09 556.43,341.17 556.83,341.24 557.23,341.32 557.63,341.4 558.03,341.48 558.43,341.56 558.83,341.64 559.23,341.72 559.63,341.81 560.03,341.89 560.43,341.98 560.83,342.07 561.23,342.16 561.63,342.26 562.03,342.36 562.43,342.46 562.83,342.56 563.24,342.67 563.64,342.78 564.04,342.89 564.44,343.01 564.84,343.14 565.24,343.27 565.64,343.4 566.04,343.54 566.44,343.69 566.84,343.84 567.24,344 567.64,344.16 568.04,344.33 568.44,344.51 568.84,344.7 569.24,344.89 569.64,345.09 570.04,345.3 570.45,345.52 570.85,345.75 571.25,345.99 571.65,346.23 572.05,346.49 572.45,346.75 572.85,347.03 573.25,347.31 573.65,347.61 574.05,347.92 574.45,348.24 574.85,348.57 575.25,348.91 575.65,349.27 576.05,349.64 576.45,350.03 576.85,350.43 577.26,350.85 577.66,351.28 578.06,351.74 578.46,352.21 578.86,352.7 579.26,353.2 579.66,353.73 580.06,354.28 580.46,354.85 580.86,355.45 581.26,356.06 581.66,356.7 582.06,357.37 582.46,358.06 582.86,358.78 583.26,359.53 583.66,360.3 584.06,361.11 584.47,361.96 584.87,362.84 585.27,363.75 585.67,364.7 586.07,365.69 586.47,366.71 586.87,367.78 587.27,368.89 587.67,370.04 588.07,371.24 588.47,372.48 588.87,373.76 589.27,375.09 589.67,376.44 590.07,377.84 590.47,379.26 590.87,380.71 591.28,382.18 591.68,383.68 592.08,385.2 592.48,386.74 592.88,388.29 593.28,389.85 593.68,391.42 594.08,393 594.48,394.58 594.88,396.16 595.28,397.74 595.68,399.32 596.08,400.89 596.48,402.45 596.88,404 597.28,405.53 597.68,407.04 598.08,408.53 598.49,410 598.89,411.45 599.29,412.86 599.69,414.24 600.09,415.59 600.49,416.9 600.89,418.18 601.29,419.41 601.69,420.59 602.09,421.73 602.49,422.81 602.89,423.85 603.29,424.82 603.69,425.74 604.09,426.6 604.49,427.39 604.89,428.12 605.3,428.77 605.7,429.36 606.1,429.87 606.5,430.3 606.9,430.65 607.3,430.92 607.7,431.11 608.1,431.22 608.5,431.26 608.9,431.26 609.3,431.21 609.7,431.09 610.1,430.89 610.5,430.61 610.9,430.25 611.3,429.81 611.7,429.29 612.11,428.7 612.51,428.03 612.91,427.3 613.31,426.49 613.71,425.63 614.11,424.7 614.51,423.72 614.91,422.68 615.31,421.59 615.71,420.44 616.11,419.25 616.51,418.02 616.91,416.74 617.31,415.43 617.71,414.07 618.11,412.68 618.51,411.27 618.91,409.82 619.32,408.35 619.72,406.85 620.12,405.34 620.52,403.8 620.92,402.25 621.32,400.69 621.72,399.12 622.12,397.55 622.52,395.96 622.92,394.38 623.32,392.8 623.72,391.22 624.12,389.65 624.52,388.09 624.92,386.54 625.32,385.01 625.72,383.49 626.13,382 626.53,380.52 626.93,379.08 627.33,377.66 627.73,376.27 628.13,374.92 628.53,373.6 628.93,372.32 629.33,371.09 629.73,369.9 630.13,368.75 630.53,367.65 630.93,366.58 631.33,365.56 631.73,364.58 632.13,363.63 632.53,362.72 632.93,361.85 633.34,361.01 633.74,360.2 634.14,359.43 634.54,358.68 634.94,357.97 635.34,357.28 635.74,356.62 636.14,355.98 636.54,355.37 636.94,354.78 637.34,354.21 637.74,353.67 638.14,353.14 638.54,352.63 638.94,352.15 639.34,351.68 639.74,351.23 640.15,350.79 640.55,350.38 640.95,349.98 641.35,349.59 641.75,349.22 642.15,348.87 642.55,348.53 642.95,348.2 643.35,347.88 643.75,347.57 644.15,347.28 644.55,346.99 644.95,346.72 645.35,346.45 645.75,346.2 646.15,345.96 646.55,345.72 646.95,345.49 647.36,345.28 647.76,345.07 648.16,344.87 648.56,344.67 648.96,344.49 649.36,344.31 649.76,344.14 650.16,343.98 650.56,343.82 650.96,343.67 651.36,343.52 651.76,343.38 652.16,343.25 652.56,343.12 652.96,343 653.36,342.88 653.76,342.76 654.17,342.65 654.57,342.55 654.97,342.44 655.37,342.34 655.77,342.25 656.17,342.15 656.57,342.06 656.97,341.97 657.37,341.88 657.77,341.8 658.17,341.71 658.57,341.63 658.97,341.55 659.37,341.47 659.77,341.39 660.17,341.31 660.57,341.23 660.97,341.16 661.38,341.08 661.78,341.01 662.18,340.94 662.58,340.87 662.98,340.8 663.38,340.73 663.78,340.67 664.18,340.6 664.58,340.54 664.98,340.48 665.38,340.42 665.78,340.36 666.18,340.3 666.58,340.25 666.98,340.19 667.38,340.14 667.78,340.09 668.19,340.04 668.59,339.99 668.99,339.94 669.39,339.9 669.79,339.85 670.19,339.81 670.59,339.77 670.99,339.73 671.39,339.69 671.79,339.66 672.19,339.62 672.59,339.59 672.99,339.56 673.39,339.53 673.79,339.5 674.19,339.48 674.59,339.45 674.99,339.43 675.4,339.41 675.8,339.39 676.2,339.37 676.6,339.36 677,339.34 677.4,339.33 677.8,339.32 678.2,339.31 678.6,339.31" fill="none" stroke="#20d92a" stroke-width="1.35" clip-path="url(#cp_c)" stroke-linejoin="round"/>
<polyline points="398.6,339.11 399,339.11 399.4,339.11 399.8,339.11 400.2,339.12 400.6,339.12 401,339.13 401.4,339.13 401.8,339.14 402.21,339.15 402.61,339.16 403.01,339.17 403.41,339.19 403.81,339.2 404.21,339.22 404.61,339.23 405.01,339.25 405.41,339.27 405.81,339.29 406.21,339.31 406.61,339.33 407.01,339.36 407.41,339.38 407.81,339.41 408.21,339.44 408.61,339.46 409.01,339.49 409.42,339.52 409.82,339.56 410.22,339.59 410.62,339.62 411.02,339.66 411.42,339.69 411.82,339.73 412.22,339.77 412.62,339.81 413.02,339.85 413.42,339.89 413.82,339.94 414.22,339.98 414.62,340.03 415.02,340.07 415.42,340.12 415.82,340.17 416.23,340.22 416.63,340.27 417.03,340.32 417.43,340.37 417.83,340.43 418.23,340.48 418.63,340.54 419.03,340.6 419.43,340.66 419.83,340.72 420.23,340.78 420.63,340.84 421.03,340.91 421.43,340.97 421.83,341.04 422.23,341.11 422.63,341.19 423.03,341.27 423.44,341.35 423.84,341.44 424.24,341.53 424.64,341.63 425.04,341.73 425.44,341.84 425.84,341.95 426.24,342.07 426.64,342.2 427.04,342.33 427.44,342.47 427.84,342.62 428.24,342.77 428.64,342.94 429.04,343.11 429.44,343.29 429.84,343.48 430.25,343.68 430.65,343.88 431.05,344.1 431.45,344.33 431.85,344.57 432.25,344.82 432.65,345.08 433.05,345.35 433.45,345.63 433.85,345.93 434.25,346.24 434.65,346.56 435.05,346.9 435.45,347.24 435.85,347.61 436.25,347.98 436.65,348.37 437.05,348.78 437.46,349.2 437.86,349.63 438.26,350.09 438.66,350.55 439.06,351.04 439.46,351.54 439.86,352.05 440.26,352.59 440.66,353.14 441.06,353.71 441.46,354.3 441.86,354.91 442.26,355.56 442.66,356.23 443.06,356.94 443.46,357.68 443.86,358.47 444.27,359.31 444.67,360.19 445.07,361.14 445.47,362.14 445.87,363.2 446.27,364.33 446.67,365.53 447.07,366.8 447.47,368.15 447.87,369.59 448.27,371.11 448.67,372.71 449.07,374.39 449.47,376.13 449.87,377.93 450.27,379.77 450.67,381.64 451.07,383.55 451.48,385.47 451.88,387.4 452.28,389.32 452.68,391.23 453.08,393.12 453.48,395 453.88,396.86 454.28,398.71 454.68,400.54 455.08,402.36 455.48,404.16 455.88,405.96 456.28,407.75 456.68,409.53 457.08,411.3 457.48,413.07 457.88,414.84 458.29,416.6 458.69,418.37 459.09,420.13 459.49,421.89 459.89,423.66 460.29,425.43 460.69,427.2 461.09,428.98 461.49,430.77 461.89,432.57 462.29,434.37 462.69,436.19 463.09,438.02 463.49,439.87 463.89,441.72 464.29,443.56 464.69,445.36 465.09,447.11 465.5,448.79 465.9,450.36 466.3,451.81 466.7,453.12 467.1,454.25 467.5,455.16 467.9,455.8 468.3,456.16 468.7,456.25 469.1,456.25 469.5,456.06 469.9,455.59 470.3,454.84 470.7,453.85 471.1,452.65 471.5,451.28 471.9,449.78 472.31,448.17 472.71,446.46 473.11,444.69 473.51,442.87 473.91,441.02 474.31,439.17 474.71,437.33 475.11,435.51 475.51,433.69 475.91,431.89 476.31,430.1 476.71,428.31 477.11,426.53 477.51,424.76 477.91,422.99 478.31,421.23 478.71,419.46 479.12,417.7 479.52,415.94 479.92,414.18 480.32,412.41 480.72,410.64 481.12,408.86 481.52,407.08 481.92,405.28 482.32,403.48 482.72,401.67 483.12,399.85 483.52,398.01 483.92,396.16 484.32,394.3 484.72,392.41 485.12,390.51 485.52,388.6 485.92,386.67 486.33,384.74 486.73,382.83 487.13,380.93 487.53,379.07 487.93,377.24 488.33,375.47 488.73,373.75 489.13,372.1 489.53,370.52 489.93,369.04 490.33,367.64 490.73,366.31 491.13,365.07 491.53,363.9 491.93,362.79 492.33,361.75 492.73,360.78 493.14,359.85 493.54,358.99 493.94,358.17 494.34,357.4 494.74,356.66 495.14,355.97 495.54,355.31 495.94,354.68 496.34,354.08 496.74,353.49 497.14,352.93 497.54,352.39 497.94,351.86 498.34,351.35 498.74,350.85 499.14,350.38 499.54,349.91 499.94,349.47 500.35,349.04 500.75,348.62 501.15,348.22 501.55,347.84 501.95,347.47 502.35,347.11 502.75,346.77 503.15,346.44 503.55,346.12 503.95,345.82 504.35,345.53 504.75,345.25 505.15,344.98 505.55,344.72 505.95,344.48 506.35,344.24 506.75,344.02 507.16,343.8 507.56,343.6 507.96,343.4 508.36,343.22 508.76,343.04 509.16,342.87 509.56,342.71 509.96,342.56 510.36,342.42 510.76,342.28 511.16,342.15 511.56,342.03 511.96,341.91 512.36,341.8 512.76,341.69 513.16,341.59 513.56,341.5 513.96,341.41 514.37,341.32 514.77,341.24 515.17,341.16 515.57,341.09 515.97,341.02 516.37,340.95 516.77,340.88 517.17,340.82 517.57,340.75 517.97,340.69 518.37,340.63 518.77,340.58 519.17,340.52 519.57,340.46 519.97,340.41 520.37,340.35 520.77,340.3 521.18,340.25 521.58,340.2 521.98,340.15 522.38,340.1 522.78,340.05 523.18,340.01 523.58,339.96 523.98,339.92 524.38,339.88 524.78,339.84 525.18,339.8 525.58,339.76 525.98,339.72 526.38,339.68 526.78,339.64 527.18,339.61 527.58,339.58 527.98,339.54 528.39,339.51 528.79,339.48 529.19,339.45 529.59,339.43 529.99,339.4 530.39,339.37 530.79,339.35 531.19,339.33 531.59,339.3 531.99,339.28 532.39,339.26 532.79,339.24 533.19,339.23 533.59,339.21 533.99,339.2 534.39,339.18 534.79,339.17 535.2,339.16 535.6,339.15 536,339.14 536.4,339.13 536.8,339.12 537.2,339.12 537.6,339.11 538,339.11 538.4,339.11 538.8,339.11 539.2,339.11 539.6,339.11 540,339.11 540.4,339.12 540.8,339.13 541.2,339.13 541.6,339.14 542,339.15 542.41,339.16 542.81,339.17 543.21,339.18 543.61,339.2 544.01,339.21 544.41,339.23 544.81,339.25 545.21,339.27 545.61,339.29 546.01,339.31 546.41,339.33 546.81,339.35 547.21,339.38 547.61,339.4 548.01,339.43 548.41,339.46 548.81,339.49 549.22,339.52 549.62,339.55 550.02,339.58 550.42,339.62 550.82,339.65 551.22,339.69 551.62,339.73 552.02,339.77 552.42,339.81 552.82,339.85 553.22,339.89 553.62,339.93 554.02,339.97 554.42,340.02 554.82,340.07 555.22,340.11 555.62,340.16 556.02,340.21 556.43,340.26 556.83,340.32 557.23,340.37 557.63,340.42 558.03,340.48 558.43,340.53 558.83,340.59 559.23,340.65 559.63,340.71 560.03,340.77 560.43,340.83 560.83,340.9 561.23,340.96 561.63,341.03 562.03,341.11 562.43,341.18 562.83,341.26 563.24,341.34 563.64,341.43 564.04,341.52 564.44,341.62 564.84,341.72 565.24,341.83 565.64,341.94 566.04,342.06 566.44,342.18 566.84,342.31 567.24,342.45 567.64,342.6 568.04,342.75 568.44,342.92 568.84,343.09 569.24,343.26 569.64,343.45 570.04,343.65 570.45,343.86 570.85,344.07 571.25,344.3 571.65,344.54 572.05,344.79 572.45,345.04 572.85,345.32 573.25,345.6 573.65,345.89 574.05,346.2 574.45,346.52 574.85,346.85 575.25,347.2 575.65,347.56 576.05,347.94 576.45,348.32 576.85,348.73 577.26,349.15 577.66,349.58 578.06,350.03 578.46,350.49 578.86,350.98 579.26,351.47 579.66,351.99 580.06,352.52 580.46,353.07 580.86,353.64 581.26,354.23 581.66,354.84 582.06,355.47 582.46,356.14 582.86,356.84 583.26,357.59 583.66,358.37 584.06,359.2 584.47,360.08 584.87,361.02 585.27,362.01 585.67,363.06 586.07,364.18 586.47,365.37 586.87,366.64 587.27,367.98 587.67,369.4 588.07,370.91 588.47,372.5 588.87,374.17 589.27,375.91 589.67,377.7 590.07,379.53 590.47,381.41 590.87,383.31 591.28,385.23 591.68,387.15 592.08,389.08 592.48,390.99 592.88,392.89 593.28,394.77 593.68,396.63 594.08,398.47 594.48,400.31 594.88,402.13 595.28,403.94 595.68,405.73 596.08,407.52 596.48,409.31 596.88,411.08 597.28,412.85 597.68,414.62 598.08,416.38 598.49,418.15 598.89,419.91 599.29,421.67 599.69,423.44 600.09,425.2 600.49,426.98 600.89,428.76 601.29,430.55 601.69,432.34 602.09,434.15 602.49,435.96 602.89,437.79 603.29,439.63 603.69,441.49 604.09,443.33 604.49,445.14 604.89,446.9 605.3,448.58 605.7,450.17 606.1,451.64 606.5,452.97 606.9,454.12 607.3,455.06 607.7,455.74 608.1,456.13 608.5,456.25 608.9,456.25 609.3,456.1 609.7,455.67 610.1,454.95 610.5,453.99 610.9,452.81 611.3,451.46 611.7,449.98 612.11,448.38 612.51,446.68 612.91,444.91 613.31,443.1 613.71,441.25 614.11,439.4 614.51,437.56 614.91,435.73 615.31,433.92 615.71,432.12 616.11,430.32 616.51,428.53 616.91,426.76 617.31,424.98 617.71,423.21 618.11,421.45 618.51,419.69 618.91,417.92 619.32,416.16 619.72,414.4 620.12,412.63 620.52,410.86 620.92,409.08 621.32,407.3 621.72,405.51 622.12,403.71 622.52,401.9 622.92,400.08 623.32,398.24 623.72,396.4 624.12,394.53 624.52,392.65 624.92,390.75 625.32,388.84 625.72,386.91 626.13,384.99 626.53,383.07 626.93,381.17 627.33,379.3 627.73,377.47 628.13,375.69 628.53,373.96 628.93,372.3 629.33,370.72 629.73,369.22 630.13,367.81 630.53,366.48 630.93,365.22 631.33,364.04 631.73,362.93 632.13,361.88 632.53,360.89 632.93,359.97 633.34,359.09 633.74,358.27 634.14,357.49 634.54,356.75 634.94,356.06 635.34,355.39 635.74,354.76 636.14,354.15 636.54,353.57 636.94,353 637.34,352.45 637.74,351.92 638.14,351.41 638.54,350.91 638.94,350.43 639.34,349.97 639.74,349.52 640.15,349.09 640.55,348.68 640.95,348.27 641.35,347.89 641.75,347.51 642.15,347.16 642.55,346.81 642.95,346.48 643.35,346.16 643.75,345.86 644.15,345.56 644.55,345.28 644.95,345.01 645.35,344.75 645.75,344.51 646.15,344.27 646.55,344.05 646.95,343.83 647.36,343.62 647.76,343.43 648.16,343.24 648.56,343.06 648.96,342.89 649.36,342.73 649.76,342.58 650.16,342.44 650.56,342.3 650.96,342.17 651.36,342.04 651.76,341.92 652.16,341.81 652.56,341.71 652.96,341.61 653.36,341.51 653.76,341.42 654.17,341.33 654.57,341.25 654.97,341.17 655.37,341.1 655.77,341.02 656.17,340.96 656.57,340.89 656.97,340.82 657.37,340.76 657.77,340.7 658.17,340.64 658.57,340.58 658.97,340.53 659.37,340.47 659.77,340.42 660.17,340.36 660.57,340.31 660.97,340.26 661.38,340.21 661.78,340.16 662.18,340.11 662.58,340.06 662.98,340.01 663.38,339.97 663.78,339.93 664.18,339.88 664.58,339.84 664.98,339.8 665.38,339.76 665.78,339.72 666.18,339.69 666.58,339.65 666.98,339.61 667.38,339.58 667.78,339.55 668.19,339.52 668.59,339.49 668.99,339.46 669.39,339.43 669.79,339.4 670.19,339.38 670.59,339.35 670.99,339.33 671.39,339.31 671.79,339.28 672.19,339.26 672.59,339.25 672.99,339.23 673.39,339.21 673.79,339.2 674.19,339.18 674.59,339.17 674.99,339.16 675.4,339.15 675.8,339.14 676.2,339.13 676.6,339.12 677,339.12 677.4,339.11 677.8,339.11 678.2,339.11 678.6,339.11" fill="none" stroke="#1c9cff" stroke-width="1.35" clip-path="url(#cp_c)" stroke-linejoin="round"/>
<path d="M509 408.2H538" stroke="#f7218c" stroke-width="1.35" fill="none"/>
<text x="541.6" y="411.8" font-size="12.6" text-anchor="start" >κ<tspan font-size="8.95" dy="3.78">2</tspan><tspan dy="-2.96">=</tspan><tspan dy="-0.82">κ</tspan><tspan font-size="8.95" dy="3.78">1</tspan></text>
<path d="M509 428.2H538" stroke="#20d92a" stroke-width="1.35" fill="none"/>
<text x="541.6" y="431.8" font-size="12.6" text-anchor="start" >κ<tspan font-size="8.95" dy="3.78">2</tspan><tspan dy="-2.96">=</tspan><tspan dy="-0.82">0</tspan></text>
<path d="M509 448.5H538" stroke="#1c9cff" stroke-width="1.35" fill="none"/>
<text x="541.6" y="452.1" font-size="12.6" text-anchor="start" >κ<tspan font-size="8.95" dy="3.78">2</tspan><tspan dy="-2.96">=−</tspan><tspan dy="-0.82">κ</tspan><tspan font-size="8.95" dy="3.78">1</tspan></text>
</svg>
</body></html>
